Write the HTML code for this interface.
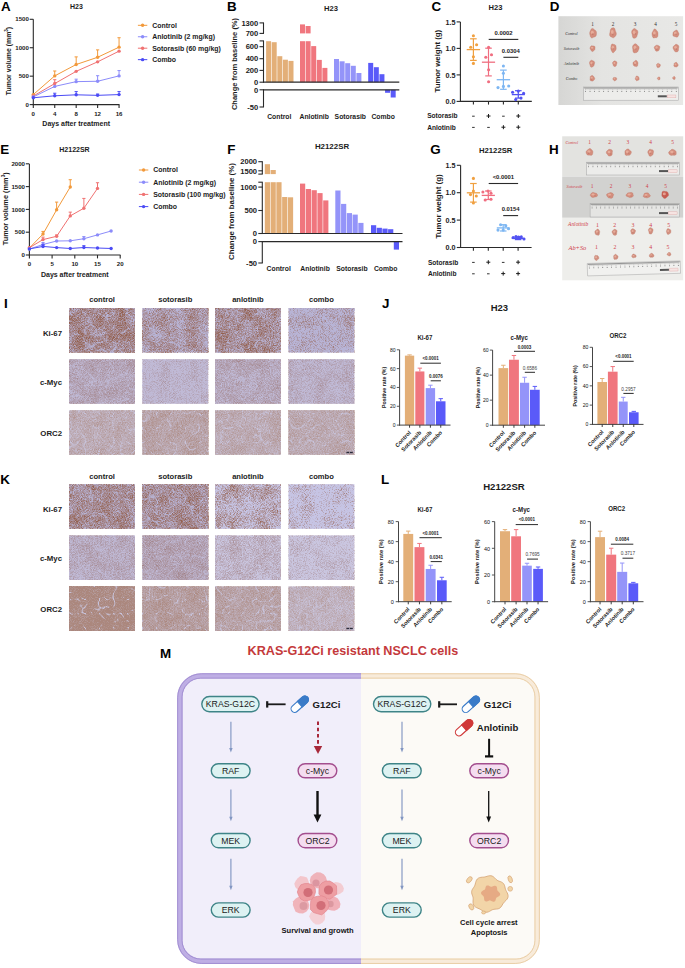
<!DOCTYPE html>
<html><head><meta charset="utf-8"><title>Figure</title>
<style>
html,body{margin:0;padding:0;background:#fff;}
body{width:685px;height:968px;overflow:hidden;}
svg{display:block;font-family:"Liberation Sans",sans-serif;}
</style></head><body>
<svg width="685" height="968" viewBox="0 0 685 968">
<defs><filter id="tx1" x="0" y="0" width="1" height="1" color-interpolation-filters="sRGB"><feTurbulence type="fractalNoise" baseFrequency="1.25" numOctaves="1" seed="319" result="g1"/><feColorMatrix in="g1" type="matrix" values="1 0 0 0 0  1 0 0 0 0  1 0 0 0 0  0 0 0 0 1" result="h1"/><feTurbulence type="fractalNoise" baseFrequency="0.07" numOctaves="2" seed="369" result="g2"/><feColorMatrix in="g2" type="matrix" values="1 0 0 0 0  1 0 0 0 0  1 0 0 0 0  0 0 0 0 1" result="h2"/><feComposite in="h1" in2="h2" operator="arithmetic" k1="0" k2="0.72" k3="0.28" k4="0" result="n"/><feColorMatrix in="n" type="matrix" values="0 0 0 0 0.58  0 0 0 0 0.38  0 0 0 0 0.31  2.6 0 0 0 -0.77" result="brown"/><feTurbulence type="turbulence" baseFrequency="0.07" numOctaves="2" seed="419" result="t"/><feColorMatrix in="t" type="matrix" values="0 0 0 0 0.72  0 0 0 0 0.71  0 0 0 0 0.84  -11 0 0 0 1.05" result="vein"/><feMerge result="m"><feMergeNode in="SourceGraphic"/><feMergeNode in="brown"/><feMergeNode in="vein"/></feMerge><feGaussianBlur in="m" stdDeviation="0.35" edgeMode="duplicate"/></filter>
<filter id="tx2" x="0" y="0" width="1" height="1" color-interpolation-filters="sRGB"><feTurbulence type="fractalNoise" baseFrequency="1.25" numOctaves="1" seed="322" result="g1"/><feColorMatrix in="g1" type="matrix" values="1 0 0 0 0  1 0 0 0 0  1 0 0 0 0  0 0 0 0 1" result="h1"/><feTurbulence type="fractalNoise" baseFrequency="0.07" numOctaves="2" seed="372" result="g2"/><feColorMatrix in="g2" type="matrix" values="1 0 0 0 0  1 0 0 0 0  1 0 0 0 0  0 0 0 0 1" result="h2"/><feComposite in="h1" in2="h2" operator="arithmetic" k1="0" k2="0.72" k3="0.28" k4="0" result="n"/><feColorMatrix in="n" type="matrix" values="0 0 0 0 0.58  0 0 0 0 0.38  0 0 0 0 0.31  2.6 0 0 0 -0.95" result="brown"/><feTurbulence type="turbulence" baseFrequency="0.07" numOctaves="2" seed="422" result="t"/><feColorMatrix in="t" type="matrix" values="0 0 0 0 0.72  0 0 0 0 0.71  0 0 0 0 0.84  -11 0 0 0 1.05" result="vein"/><feMerge result="m"><feMergeNode in="SourceGraphic"/><feMergeNode in="brown"/><feMergeNode in="vein"/></feMerge><feGaussianBlur in="m" stdDeviation="0.35" edgeMode="duplicate"/></filter>
<filter id="tx3" x="0" y="0" width="1" height="1" color-interpolation-filters="sRGB"><feTurbulence type="fractalNoise" baseFrequency="1.25" numOctaves="1" seed="325" result="g1"/><feColorMatrix in="g1" type="matrix" values="1 0 0 0 0  1 0 0 0 0  1 0 0 0 0  0 0 0 0 1" result="h1"/><feTurbulence type="fractalNoise" baseFrequency="0.07" numOctaves="2" seed="375" result="g2"/><feColorMatrix in="g2" type="matrix" values="1 0 0 0 0  1 0 0 0 0  1 0 0 0 0  0 0 0 0 1" result="h2"/><feComposite in="h1" in2="h2" operator="arithmetic" k1="0" k2="0.72" k3="0.28" k4="0" result="n"/><feColorMatrix in="n" type="matrix" values="0 0 0 0 0.58  0 0 0 0 0.38  0 0 0 0 0.31  2.6 0 0 0 -0.84" result="brown"/><feTurbulence type="turbulence" baseFrequency="0.07" numOctaves="2" seed="425" result="t"/><feColorMatrix in="t" type="matrix" values="0 0 0 0 0.72  0 0 0 0 0.71  0 0 0 0 0.84  -11 0 0 0 1.05" result="vein"/><feMerge result="m"><feMergeNode in="SourceGraphic"/><feMergeNode in="brown"/><feMergeNode in="vein"/></feMerge><feGaussianBlur in="m" stdDeviation="0.35" edgeMode="duplicate"/></filter>
<filter id="tx4" x="0" y="0" width="1" height="1" color-interpolation-filters="sRGB"><feTurbulence type="fractalNoise" baseFrequency="1.25" numOctaves="1" seed="328" result="g1"/><feColorMatrix in="g1" type="matrix" values="1 0 0 0 0  1 0 0 0 0  1 0 0 0 0  0 0 0 0 1" result="h1"/><feTurbulence type="fractalNoise" baseFrequency="0.07" numOctaves="2" seed="378" result="g2"/><feColorMatrix in="g2" type="matrix" values="1 0 0 0 0  1 0 0 0 0  1 0 0 0 0  0 0 0 0 1" result="h2"/><feComposite in="h1" in2="h2" operator="arithmetic" k1="0" k2="0.72" k3="0.28" k4="0" result="n"/><feColorMatrix in="n" type="matrix" values="0 0 0 0 0.58  0 0 0 0 0.38  0 0 0 0 0.31  2.6 0 0 0 -1.18" result="brown"/><feTurbulence type="turbulence" baseFrequency="0.07" numOctaves="2" seed="428" result="t"/><feColorMatrix in="t" type="matrix" values="0 0 0 0 0.72  0 0 0 0 0.71  0 0 0 0 0.84  -11 0 0 0 1.05" result="vein"/><feMerge result="m"><feMergeNode in="SourceGraphic"/><feMergeNode in="brown"/><feMergeNode in="vein"/></feMerge><feGaussianBlur in="m" stdDeviation="0.35" edgeMode="duplicate"/></filter>
<filter id="tx5" x="0" y="0" width="1" height="1" color-interpolation-filters="sRGB"><feTurbulence type="fractalNoise" baseFrequency="1.25" numOctaves="1" seed="377" result="g1"/><feColorMatrix in="g1" type="matrix" values="1 0 0 0 0  1 0 0 0 0  1 0 0 0 0  0 0 0 0 1" result="h1"/><feTurbulence type="fractalNoise" baseFrequency="0.07" numOctaves="2" seed="427" result="g2"/><feColorMatrix in="g2" type="matrix" values="1 0 0 0 0  1 0 0 0 0  1 0 0 0 0  0 0 0 0 1" result="h2"/><feComposite in="h1" in2="h2" operator="arithmetic" k1="0" k2="0.75" k3="0.25" k4="0" result="n"/><feColorMatrix in="n" type="matrix" values="0 0 0 0 0.61  0 0 0 0 0.47  0 0 0 0 0.47  1.8 0 0 0 -0.58" result="brown"/><feTurbulence type="turbulence" baseFrequency="0.07" numOctaves="2" seed="477" result="t"/><feColorMatrix in="t" type="matrix" values="0 0 0 0 0.75  0 0 0 0 0.73  0 0 0 0 0.84  -10 0 0 0 0.95" result="vein"/><feMerge result="m"><feMergeNode in="SourceGraphic"/><feMergeNode in="brown"/><feMergeNode in="vein"/></feMerge><feGaussianBlur in="m" stdDeviation="0.35" edgeMode="duplicate"/></filter>
<filter id="tx6" x="0" y="0" width="1" height="1" color-interpolation-filters="sRGB"><feTurbulence type="fractalNoise" baseFrequency="1.25" numOctaves="1" seed="380" result="g1"/><feColorMatrix in="g1" type="matrix" values="1 0 0 0 0  1 0 0 0 0  1 0 0 0 0  0 0 0 0 1" result="h1"/><feTurbulence type="fractalNoise" baseFrequency="0.07" numOctaves="2" seed="430" result="g2"/><feColorMatrix in="g2" type="matrix" values="1 0 0 0 0  1 0 0 0 0  1 0 0 0 0  0 0 0 0 1" result="h2"/><feComposite in="h1" in2="h2" operator="arithmetic" k1="0" k2="0.75" k3="0.25" k4="0" result="n"/><feColorMatrix in="n" type="matrix" values="0 0 0 0 0.61  0 0 0 0 0.47  0 0 0 0 0.47  1.8 0 0 0 -0.8" result="brown"/><feTurbulence type="turbulence" baseFrequency="0.07" numOctaves="2" seed="480" result="t"/><feColorMatrix in="t" type="matrix" values="0 0 0 0 0.75  0 0 0 0 0.73  0 0 0 0 0.84  -10 0 0 0 0.95" result="vein"/><feMerge result="m"><feMergeNode in="SourceGraphic"/><feMergeNode in="brown"/><feMergeNode in="vein"/></feMerge><feGaussianBlur in="m" stdDeviation="0.35" edgeMode="duplicate"/></filter>
<filter id="tx7" x="0" y="0" width="1" height="1" color-interpolation-filters="sRGB"><feTurbulence type="fractalNoise" baseFrequency="1.25" numOctaves="1" seed="383" result="g1"/><feColorMatrix in="g1" type="matrix" values="1 0 0 0 0  1 0 0 0 0  1 0 0 0 0  0 0 0 0 1" result="h1"/><feTurbulence type="fractalNoise" baseFrequency="0.07" numOctaves="2" seed="433" result="g2"/><feColorMatrix in="g2" type="matrix" values="1 0 0 0 0  1 0 0 0 0  1 0 0 0 0  0 0 0 0 1" result="h2"/><feComposite in="h1" in2="h2" operator="arithmetic" k1="0" k2="0.75" k3="0.25" k4="0" result="n"/><feColorMatrix in="n" type="matrix" values="0 0 0 0 0.61  0 0 0 0 0.47  0 0 0 0 0.47  1.8 0 0 0 -0.6" result="brown"/><feTurbulence type="turbulence" baseFrequency="0.07" numOctaves="2" seed="483" result="t"/><feColorMatrix in="t" type="matrix" values="0 0 0 0 0.75  0 0 0 0 0.73  0 0 0 0 0.84  -10 0 0 0 0.95" result="vein"/><feMerge result="m"><feMergeNode in="SourceGraphic"/><feMergeNode in="brown"/><feMergeNode in="vein"/></feMerge><feGaussianBlur in="m" stdDeviation="0.35" edgeMode="duplicate"/></filter>
<filter id="tx8" x="0" y="0" width="1" height="1" color-interpolation-filters="sRGB"><feTurbulence type="fractalNoise" baseFrequency="1.25" numOctaves="1" seed="386" result="g1"/><feColorMatrix in="g1" type="matrix" values="1 0 0 0 0  1 0 0 0 0  1 0 0 0 0  0 0 0 0 1" result="h1"/><feTurbulence type="fractalNoise" baseFrequency="0.07" numOctaves="2" seed="436" result="g2"/><feColorMatrix in="g2" type="matrix" values="1 0 0 0 0  1 0 0 0 0  1 0 0 0 0  0 0 0 0 1" result="h2"/><feComposite in="h1" in2="h2" operator="arithmetic" k1="0" k2="0.75" k3="0.25" k4="0" result="n"/><feColorMatrix in="n" type="matrix" values="0 0 0 0 0.61  0 0 0 0 0.47  0 0 0 0 0.47  1.8 0 0 0 -0.71" result="brown"/><feTurbulence type="turbulence" baseFrequency="0.07" numOctaves="2" seed="486" result="t"/><feColorMatrix in="t" type="matrix" values="0 0 0 0 0.75  0 0 0 0 0.73  0 0 0 0 0.84  -10 0 0 0 0.95" result="vein"/><feMerge result="m"><feMergeNode in="SourceGraphic"/><feMergeNode in="brown"/><feMergeNode in="vein"/></feMerge><feGaussianBlur in="m" stdDeviation="0.35" edgeMode="duplicate"/></filter>
<filter id="tx9" x="0" y="0" width="1" height="1" color-interpolation-filters="sRGB"><feTurbulence type="fractalNoise" baseFrequency="1.25" numOctaves="1" seed="435" result="g1"/><feColorMatrix in="g1" type="matrix" values="1 0 0 0 0  1 0 0 0 0  1 0 0 0 0  0 0 0 0 1" result="h1"/><feTurbulence type="fractalNoise" baseFrequency="0.07" numOctaves="2" seed="485" result="g2"/><feColorMatrix in="g2" type="matrix" values="1 0 0 0 0  1 0 0 0 0  1 0 0 0 0  0 0 0 0 1" result="h2"/><feComposite in="h1" in2="h2" operator="arithmetic" k1="0" k2="0.75" k3="0.25" k4="0" result="n"/><feColorMatrix in="n" type="matrix" values="0 0 0 0 0.67  0 0 0 0 0.53  0 0 0 0 0.49  1.6 0 0 0 -0.4" result="brown"/><feTurbulence type="turbulence" baseFrequency="0.07" numOctaves="2" seed="535" result="t"/><feColorMatrix in="t" type="matrix" values="0 0 0 0 0.78  0 0 0 0 0.76  0 0 0 0 0.85  -11 0 0 0 1.05" result="vein"/><feMerge result="m"><feMergeNode in="SourceGraphic"/><feMergeNode in="brown"/><feMergeNode in="vein"/></feMerge><feGaussianBlur in="m" stdDeviation="0.35" edgeMode="duplicate"/></filter>
<filter id="tx10" x="0" y="0" width="1" height="1" color-interpolation-filters="sRGB"><feTurbulence type="fractalNoise" baseFrequency="1.25" numOctaves="1" seed="438" result="g1"/><feColorMatrix in="g1" type="matrix" values="1 0 0 0 0  1 0 0 0 0  1 0 0 0 0  0 0 0 0 1" result="h1"/><feTurbulence type="fractalNoise" baseFrequency="0.07" numOctaves="2" seed="488" result="g2"/><feColorMatrix in="g2" type="matrix" values="1 0 0 0 0  1 0 0 0 0  1 0 0 0 0  0 0 0 0 1" result="h2"/><feComposite in="h1" in2="h2" operator="arithmetic" k1="0" k2="0.75" k3="0.25" k4="0" result="n"/><feColorMatrix in="n" type="matrix" values="0 0 0 0 0.67  0 0 0 0 0.53  0 0 0 0 0.49  1.6 0 0 0 -0.27" result="brown"/><feTurbulence type="turbulence" baseFrequency="0.07" numOctaves="2" seed="538" result="t"/><feColorMatrix in="t" type="matrix" values="0 0 0 0 0.78  0 0 0 0 0.76  0 0 0 0 0.85  -11 0 0 0 1.05" result="vein"/><feMerge result="m"><feMergeNode in="SourceGraphic"/><feMergeNode in="brown"/><feMergeNode in="vein"/></feMerge><feGaussianBlur in="m" stdDeviation="0.35" edgeMode="duplicate"/></filter>
<filter id="tx11" x="0" y="0" width="1" height="1" color-interpolation-filters="sRGB"><feTurbulence type="fractalNoise" baseFrequency="1.25" numOctaves="1" seed="441" result="g1"/><feColorMatrix in="g1" type="matrix" values="1 0 0 0 0  1 0 0 0 0  1 0 0 0 0  0 0 0 0 1" result="h1"/><feTurbulence type="fractalNoise" baseFrequency="0.07" numOctaves="2" seed="491" result="g2"/><feColorMatrix in="g2" type="matrix" values="1 0 0 0 0  1 0 0 0 0  1 0 0 0 0  0 0 0 0 1" result="h2"/><feComposite in="h1" in2="h2" operator="arithmetic" k1="0" k2="0.75" k3="0.25" k4="0" result="n"/><feColorMatrix in="n" type="matrix" values="0 0 0 0 0.67  0 0 0 0 0.53  0 0 0 0 0.49  1.6 0 0 0 -0.39" result="brown"/><feTurbulence type="turbulence" baseFrequency="0.07" numOctaves="2" seed="541" result="t"/><feColorMatrix in="t" type="matrix" values="0 0 0 0 0.78  0 0 0 0 0.76  0 0 0 0 0.85  -11 0 0 0 1.05" result="vein"/><feMerge result="m"><feMergeNode in="SourceGraphic"/><feMergeNode in="brown"/><feMergeNode in="vein"/></feMerge><feGaussianBlur in="m" stdDeviation="0.35" edgeMode="duplicate"/></filter>
<filter id="tx12" x="0" y="0" width="1" height="1" color-interpolation-filters="sRGB"><feTurbulence type="fractalNoise" baseFrequency="1.25" numOctaves="1" seed="444" result="g1"/><feColorMatrix in="g1" type="matrix" values="1 0 0 0 0  1 0 0 0 0  1 0 0 0 0  0 0 0 0 1" result="h1"/><feTurbulence type="fractalNoise" baseFrequency="0.07" numOctaves="2" seed="494" result="g2"/><feColorMatrix in="g2" type="matrix" values="1 0 0 0 0  1 0 0 0 0  1 0 0 0 0  0 0 0 0 1" result="h2"/><feComposite in="h1" in2="h2" operator="arithmetic" k1="0" k2="0.75" k3="0.25" k4="0" result="n"/><feColorMatrix in="n" type="matrix" values="0 0 0 0 0.67  0 0 0 0 0.53  0 0 0 0 0.49  1.6 0 0 0 -0.37" result="brown"/><feTurbulence type="turbulence" baseFrequency="0.07" numOctaves="2" seed="544" result="t"/><feColorMatrix in="t" type="matrix" values="0 0 0 0 0.78  0 0 0 0 0.76  0 0 0 0 0.85  -11 0 0 0 1.05" result="vein"/><feMerge result="m"><feMergeNode in="SourceGraphic"/><feMergeNode in="brown"/><feMergeNode in="vein"/></feMerge><feGaussianBlur in="m" stdDeviation="0.35" edgeMode="duplicate"/></filter>
<filter id="tx13" x="0" y="0" width="1" height="1" color-interpolation-filters="sRGB"><feTurbulence type="fractalNoise" baseFrequency="1.25" numOctaves="1" seed="495" result="g1"/><feColorMatrix in="g1" type="matrix" values="1 0 0 0 0  1 0 0 0 0  1 0 0 0 0  0 0 0 0 1" result="h1"/><feTurbulence type="fractalNoise" baseFrequency="0.07" numOctaves="2" seed="545" result="g2"/><feColorMatrix in="g2" type="matrix" values="1 0 0 0 0  1 0 0 0 0  1 0 0 0 0  0 0 0 0 1" result="h2"/><feComposite in="h1" in2="h2" operator="arithmetic" k1="0" k2="0.72" k3="0.28" k4="0" result="n"/><feColorMatrix in="n" type="matrix" values="0 0 0 0 0.58  0 0 0 0 0.38  0 0 0 0 0.31  2.6 0 0 0 -0.82" result="brown"/><feTurbulence type="turbulence" baseFrequency="0.07" numOctaves="2" seed="595" result="t"/><feColorMatrix in="t" type="matrix" values="0 0 0 0 0.72  0 0 0 0 0.71  0 0 0 0 0.84  -11 0 0 0 1.05" result="vein"/><feMerge result="m"><feMergeNode in="SourceGraphic"/><feMergeNode in="brown"/><feMergeNode in="vein"/></feMerge><feGaussianBlur in="m" stdDeviation="0.35" edgeMode="duplicate"/></filter>
<filter id="tx14" x="0" y="0" width="1" height="1" color-interpolation-filters="sRGB"><feTurbulence type="fractalNoise" baseFrequency="1.25" numOctaves="1" seed="498" result="g1"/><feColorMatrix in="g1" type="matrix" values="1 0 0 0 0  1 0 0 0 0  1 0 0 0 0  0 0 0 0 1" result="h1"/><feTurbulence type="fractalNoise" baseFrequency="0.07" numOctaves="2" seed="548" result="g2"/><feColorMatrix in="g2" type="matrix" values="1 0 0 0 0  1 0 0 0 0  1 0 0 0 0  0 0 0 0 1" result="h2"/><feComposite in="h1" in2="h2" operator="arithmetic" k1="0" k2="0.72" k3="0.28" k4="0" result="n"/><feColorMatrix in="n" type="matrix" values="0 0 0 0 0.58  0 0 0 0 0.38  0 0 0 0 0.31  2.6 0 0 0 -0.84" result="brown"/><feTurbulence type="turbulence" baseFrequency="0.07" numOctaves="2" seed="598" result="t"/><feColorMatrix in="t" type="matrix" values="0 0 0 0 0.72  0 0 0 0 0.71  0 0 0 0 0.84  -11 0 0 0 1.05" result="vein"/><feMerge result="m"><feMergeNode in="SourceGraphic"/><feMergeNode in="brown"/><feMergeNode in="vein"/></feMerge><feGaussianBlur in="m" stdDeviation="0.35" edgeMode="duplicate"/></filter>
<filter id="tx15" x="0" y="0" width="1" height="1" color-interpolation-filters="sRGB"><feTurbulence type="fractalNoise" baseFrequency="1.25" numOctaves="1" seed="501" result="g1"/><feColorMatrix in="g1" type="matrix" values="1 0 0 0 0  1 0 0 0 0  1 0 0 0 0  0 0 0 0 1" result="h1"/><feTurbulence type="fractalNoise" baseFrequency="0.07" numOctaves="2" seed="551" result="g2"/><feColorMatrix in="g2" type="matrix" values="1 0 0 0 0  1 0 0 0 0  1 0 0 0 0  0 0 0 0 1" result="h2"/><feComposite in="h1" in2="h2" operator="arithmetic" k1="0" k2="0.72" k3="0.28" k4="0" result="n"/><feColorMatrix in="n" type="matrix" values="0 0 0 0 0.58  0 0 0 0 0.38  0 0 0 0 0.31  2.6 0 0 0 -1.01" result="brown"/><feTurbulence type="turbulence" baseFrequency="0.07" numOctaves="2" seed="601" result="t"/><feColorMatrix in="t" type="matrix" values="0 0 0 0 0.78  0 0 0 0 0.77  0 0 0 0 0.89  -11 0 0 0 1.05" result="vein"/><feMerge result="m"><feMergeNode in="SourceGraphic"/><feMergeNode in="brown"/><feMergeNode in="vein"/></feMerge><feGaussianBlur in="m" stdDeviation="0.35" edgeMode="duplicate"/></filter>
<filter id="tx16" x="0" y="0" width="1" height="1" color-interpolation-filters="sRGB"><feTurbulence type="fractalNoise" baseFrequency="1.25" numOctaves="1" seed="504" result="g1"/><feColorMatrix in="g1" type="matrix" values="1 0 0 0 0  1 0 0 0 0  1 0 0 0 0  0 0 0 0 1" result="h1"/><feTurbulence type="fractalNoise" baseFrequency="0.07" numOctaves="2" seed="554" result="g2"/><feColorMatrix in="g2" type="matrix" values="1 0 0 0 0  1 0 0 0 0  1 0 0 0 0  0 0 0 0 1" result="h2"/><feComposite in="h1" in2="h2" operator="arithmetic" k1="0" k2="0.72" k3="0.28" k4="0" result="n"/><feColorMatrix in="n" type="matrix" values="0 0 0 0 0.58  0 0 0 0 0.38  0 0 0 0 0.31  2.6 0 0 0 -1.25" result="brown"/><feTurbulence type="turbulence" baseFrequency="0.07" numOctaves="2" seed="604" result="t"/><feColorMatrix in="t" type="matrix" values="0 0 0 0 0.78  0 0 0 0 0.77  0 0 0 0 0.89  -11 0 0 0 1.05" result="vein"/><feMerge result="m"><feMergeNode in="SourceGraphic"/><feMergeNode in="brown"/><feMergeNode in="vein"/></feMerge><feGaussianBlur in="m" stdDeviation="0.35" edgeMode="duplicate"/></filter>
<filter id="tx17" x="0" y="0" width="1" height="1" color-interpolation-filters="sRGB"><feTurbulence type="fractalNoise" baseFrequency="1.25" numOctaves="1" seed="553" result="g1"/><feColorMatrix in="g1" type="matrix" values="1 0 0 0 0  1 0 0 0 0  1 0 0 0 0  0 0 0 0 1" result="h1"/><feTurbulence type="fractalNoise" baseFrequency="0.07" numOctaves="2" seed="603" result="g2"/><feColorMatrix in="g2" type="matrix" values="1 0 0 0 0  1 0 0 0 0  1 0 0 0 0  0 0 0 0 1" result="h2"/><feComposite in="h1" in2="h2" operator="arithmetic" k1="0" k2="0.75" k3="0.25" k4="0" result="n"/><feColorMatrix in="n" type="matrix" values="0 0 0 0 0.61  0 0 0 0 0.47  0 0 0 0 0.47  1.8 0 0 0 -0.66" result="brown"/><feTurbulence type="turbulence" baseFrequency="0.07" numOctaves="2" seed="653" result="t"/><feColorMatrix in="t" type="matrix" values="0 0 0 0 0.75  0 0 0 0 0.73  0 0 0 0 0.84  -10 0 0 0 0.95" result="vein"/><feMerge result="m"><feMergeNode in="SourceGraphic"/><feMergeNode in="brown"/><feMergeNode in="vein"/></feMerge><feGaussianBlur in="m" stdDeviation="0.35" edgeMode="duplicate"/></filter>
<filter id="tx18" x="0" y="0" width="1" height="1" color-interpolation-filters="sRGB"><feTurbulence type="fractalNoise" baseFrequency="1.25" numOctaves="1" seed="556" result="g1"/><feColorMatrix in="g1" type="matrix" values="1 0 0 0 0  1 0 0 0 0  1 0 0 0 0  0 0 0 0 1" result="h1"/><feTurbulence type="fractalNoise" baseFrequency="0.07" numOctaves="2" seed="606" result="g2"/><feColorMatrix in="g2" type="matrix" values="1 0 0 0 0  1 0 0 0 0  1 0 0 0 0  0 0 0 0 1" result="h2"/><feComposite in="h1" in2="h2" operator="arithmetic" k1="0" k2="0.75" k3="0.25" k4="0" result="n"/><feColorMatrix in="n" type="matrix" values="0 0 0 0 0.61  0 0 0 0 0.47  0 0 0 0 0.47  1.8 0 0 0 -0.52" result="brown"/><feTurbulence type="turbulence" baseFrequency="0.07" numOctaves="2" seed="656" result="t"/><feColorMatrix in="t" type="matrix" values="0 0 0 0 0.75  0 0 0 0 0.73  0 0 0 0 0.84  -10 0 0 0 0.95" result="vein"/><feMerge result="m"><feMergeNode in="SourceGraphic"/><feMergeNode in="brown"/><feMergeNode in="vein"/></feMerge><feGaussianBlur in="m" stdDeviation="0.35" edgeMode="duplicate"/></filter>
<filter id="tx19" x="0" y="0" width="1" height="1" color-interpolation-filters="sRGB"><feTurbulence type="fractalNoise" baseFrequency="1.25" numOctaves="1" seed="559" result="g1"/><feColorMatrix in="g1" type="matrix" values="1 0 0 0 0  1 0 0 0 0  1 0 0 0 0  0 0 0 0 1" result="h1"/><feTurbulence type="fractalNoise" baseFrequency="0.07" numOctaves="2" seed="609" result="g2"/><feColorMatrix in="g2" type="matrix" values="1 0 0 0 0  1 0 0 0 0  1 0 0 0 0  0 0 0 0 1" result="h2"/><feComposite in="h1" in2="h2" operator="arithmetic" k1="0" k2="0.75" k3="0.25" k4="0" result="n"/><feColorMatrix in="n" type="matrix" values="0 0 0 0 0.61  0 0 0 0 0.47  0 0 0 0 0.47  1.8 0 0 0 -0.64" result="brown"/><feTurbulence type="turbulence" baseFrequency="0.07" numOctaves="2" seed="659" result="t"/><feColorMatrix in="t" type="matrix" values="0 0 0 0 0.79  0 0 0 0 0.78  0 0 0 0 0.88  -10 0 0 0 0.95" result="vein"/><feMerge result="m"><feMergeNode in="SourceGraphic"/><feMergeNode in="brown"/><feMergeNode in="vein"/></feMerge><feGaussianBlur in="m" stdDeviation="0.35" edgeMode="duplicate"/></filter>
<filter id="tx20" x="0" y="0" width="1" height="1" color-interpolation-filters="sRGB"><feTurbulence type="fractalNoise" baseFrequency="1.25" numOctaves="1" seed="562" result="g1"/><feColorMatrix in="g1" type="matrix" values="1 0 0 0 0  1 0 0 0 0  1 0 0 0 0  0 0 0 0 1" result="h1"/><feTurbulence type="fractalNoise" baseFrequency="0.07" numOctaves="2" seed="612" result="g2"/><feColorMatrix in="g2" type="matrix" values="1 0 0 0 0  1 0 0 0 0  1 0 0 0 0  0 0 0 0 1" result="h2"/><feComposite in="h1" in2="h2" operator="arithmetic" k1="0" k2="0.75" k3="0.25" k4="0" result="n"/><feColorMatrix in="n" type="matrix" values="0 0 0 0 0.61  0 0 0 0 0.47  0 0 0 0 0.47  1.8 0 0 0 -0.79" result="brown"/><feTurbulence type="turbulence" baseFrequency="0.07" numOctaves="2" seed="662" result="t"/><feColorMatrix in="t" type="matrix" values="0 0 0 0 0.79  0 0 0 0 0.78  0 0 0 0 0.88  -10 0 0 0 0.95" result="vein"/><feMerge result="m"><feMergeNode in="SourceGraphic"/><feMergeNode in="brown"/><feMergeNode in="vein"/></feMerge><feGaussianBlur in="m" stdDeviation="0.35" edgeMode="duplicate"/></filter>
<filter id="tx21" x="0" y="0" width="1" height="1" color-interpolation-filters="sRGB"><feTurbulence type="fractalNoise" baseFrequency="1.25" numOctaves="1" seed="611" result="g1"/><feColorMatrix in="g1" type="matrix" values="1 0 0 0 0  1 0 0 0 0  1 0 0 0 0  0 0 0 0 1" result="h1"/><feTurbulence type="fractalNoise" baseFrequency="0.07" numOctaves="2" seed="661" result="g2"/><feColorMatrix in="g2" type="matrix" values="1 0 0 0 0  1 0 0 0 0  1 0 0 0 0  0 0 0 0 1" result="h2"/><feComposite in="h1" in2="h2" operator="arithmetic" k1="0" k2="0.75" k3="0.25" k4="0" result="n"/><feColorMatrix in="n" type="matrix" values="0 0 0 0 0.67  0 0 0 0 0.53  0 0 0 0 0.49  1.6 0 0 0 0.15" result="brown"/><feTurbulence type="turbulence" baseFrequency="0.07" numOctaves="2" seed="711" result="t"/><feColorMatrix in="t" type="matrix" values="0 0 0 0 0.78  0 0 0 0 0.76  0 0 0 0 0.85  -11 0 0 0 1.05" result="vein"/><feMerge result="m"><feMergeNode in="SourceGraphic"/><feMergeNode in="brown"/><feMergeNode in="vein"/></feMerge><feGaussianBlur in="m" stdDeviation="0.35" edgeMode="duplicate"/></filter>
<filter id="tx22" x="0" y="0" width="1" height="1" color-interpolation-filters="sRGB"><feTurbulence type="fractalNoise" baseFrequency="1.25" numOctaves="1" seed="614" result="g1"/><feColorMatrix in="g1" type="matrix" values="1 0 0 0 0  1 0 0 0 0  1 0 0 0 0  0 0 0 0 1" result="h1"/><feTurbulence type="fractalNoise" baseFrequency="0.07" numOctaves="2" seed="664" result="g2"/><feColorMatrix in="g2" type="matrix" values="1 0 0 0 0  1 0 0 0 0  1 0 0 0 0  0 0 0 0 1" result="h2"/><feComposite in="h1" in2="h2" operator="arithmetic" k1="0" k2="0.75" k3="0.25" k4="0" result="n"/><feColorMatrix in="n" type="matrix" values="0 0 0 0 0.67  0 0 0 0 0.53  0 0 0 0 0.49  1.6 0 0 0 -0.16" result="brown"/><feTurbulence type="turbulence" baseFrequency="0.07" numOctaves="2" seed="714" result="t"/><feColorMatrix in="t" type="matrix" values="0 0 0 0 0.78  0 0 0 0 0.76  0 0 0 0 0.85  -11 0 0 0 1.05" result="vein"/><feMerge result="m"><feMergeNode in="SourceGraphic"/><feMergeNode in="brown"/><feMergeNode in="vein"/></feMerge><feGaussianBlur in="m" stdDeviation="0.35" edgeMode="duplicate"/></filter>
<filter id="tx23" x="0" y="0" width="1" height="1" color-interpolation-filters="sRGB"><feTurbulence type="fractalNoise" baseFrequency="1.25" numOctaves="1" seed="617" result="g1"/><feColorMatrix in="g1" type="matrix" values="1 0 0 0 0  1 0 0 0 0  1 0 0 0 0  0 0 0 0 1" result="h1"/><feTurbulence type="fractalNoise" baseFrequency="0.07" numOctaves="2" seed="667" result="g2"/><feColorMatrix in="g2" type="matrix" values="1 0 0 0 0  1 0 0 0 0  1 0 0 0 0  0 0 0 0 1" result="h2"/><feComposite in="h1" in2="h2" operator="arithmetic" k1="0" k2="0.75" k3="0.25" k4="0" result="n"/><feColorMatrix in="n" type="matrix" values="0 0 0 0 0.67  0 0 0 0 0.53  0 0 0 0 0.49  1.6 0 0 0 -0.26" result="brown"/><feTurbulence type="turbulence" baseFrequency="0.07" numOctaves="2" seed="717" result="t"/><feColorMatrix in="t" type="matrix" values="0 0 0 0 0.78  0 0 0 0 0.76  0 0 0 0 0.85  -11 0 0 0 1.05" result="vein"/><feMerge result="m"><feMergeNode in="SourceGraphic"/><feMergeNode in="brown"/><feMergeNode in="vein"/></feMerge><feGaussianBlur in="m" stdDeviation="0.35" edgeMode="duplicate"/></filter>
<filter id="tx24" x="0" y="0" width="1" height="1" color-interpolation-filters="sRGB"><feTurbulence type="fractalNoise" baseFrequency="1.25" numOctaves="1" seed="620" result="g1"/><feColorMatrix in="g1" type="matrix" values="1 0 0 0 0  1 0 0 0 0  1 0 0 0 0  0 0 0 0 1" result="h1"/><feTurbulence type="fractalNoise" baseFrequency="0.07" numOctaves="2" seed="670" result="g2"/><feColorMatrix in="g2" type="matrix" values="1 0 0 0 0  1 0 0 0 0  1 0 0 0 0  0 0 0 0 1" result="h2"/><feComposite in="h1" in2="h2" operator="arithmetic" k1="0" k2="0.75" k3="0.25" k4="0" result="n"/><feColorMatrix in="n" type="matrix" values="0 0 0 0 0.67  0 0 0 0 0.53  0 0 0 0 0.49  1.6 0 0 0 -0.51" result="brown"/><feTurbulence type="turbulence" baseFrequency="0.07" numOctaves="2" seed="720" result="t"/><feColorMatrix in="t" type="matrix" values="0 0 0 0 0.78  0 0 0 0 0.76  0 0 0 0 0.85  -11 0 0 0 1.05" result="vein"/><feMerge result="m"><feMergeNode in="SourceGraphic"/><feMergeNode in="brown"/><feMergeNode in="vein"/></feMerge><feGaussianBlur in="m" stdDeviation="0.35" edgeMode="duplicate"/></filter>
<clipPath id="cL"><rect x="0" y="0" width="360.9" height="968"/></clipPath>
<clipPath id="cR"><rect x="360.9" y="0" width="324.1" height="968"/></clipPath></defs>
<rect x="0" y="0" width="685" height="968" fill="#fff"/>
<line x1="33.3" y1="19.3" x2="33.3" y2="105.1" stroke="#2a2a2a" stroke-width="1.1"/>
<line x1="32.8" y1="104.6" x2="119.4" y2="104.6" stroke="#2a2a2a" stroke-width="1.1"/>
<line x1="29.7" y1="104.6" x2="33.3" y2="104.6" stroke="#2a2a2a" stroke-width="1.1"/>
<text x="28.9" y="106.7" font-size="6.1" font-weight="bold" text-anchor="end" fill="#1c1c1c">0</text>
<line x1="29.7" y1="76.17" x2="33.3" y2="76.17" stroke="#2a2a2a" stroke-width="1.1"/>
<text x="28.9" y="78.27" font-size="6.1" font-weight="bold" text-anchor="end" fill="#1c1c1c">500</text>
<line x1="29.7" y1="47.73" x2="33.3" y2="47.73" stroke="#2a2a2a" stroke-width="1.1"/>
<text x="28.9" y="49.83" font-size="6.1" font-weight="bold" text-anchor="end" fill="#1c1c1c">1000</text>
<line x1="29.7" y1="19.3" x2="33.3" y2="19.3" stroke="#2a2a2a" stroke-width="1.1"/>
<text x="28.9" y="21.4" font-size="6.1" font-weight="bold" text-anchor="end" fill="#1c1c1c">1500</text>
<line x1="33.3" y1="104.6" x2="33.3" y2="108" stroke="#2a2a2a" stroke-width="1.1"/>
<text x="33.3" y="115.6" font-size="6.1" font-weight="bold" text-anchor="middle" fill="#1c1c1c">0</text>
<line x1="54.74" y1="104.6" x2="54.74" y2="108" stroke="#2a2a2a" stroke-width="1.1"/>
<text x="54.74" y="115.6" font-size="6.1" font-weight="bold" text-anchor="middle" fill="#1c1c1c">4</text>
<line x1="76.18" y1="104.6" x2="76.18" y2="108" stroke="#2a2a2a" stroke-width="1.1"/>
<text x="76.18" y="115.6" font-size="6.1" font-weight="bold" text-anchor="middle" fill="#1c1c1c">8</text>
<line x1="97.62" y1="104.6" x2="97.62" y2="108" stroke="#2a2a2a" stroke-width="1.1"/>
<text x="97.62" y="115.6" font-size="6.1" font-weight="bold" text-anchor="middle" fill="#1c1c1c">12</text>
<line x1="119.06" y1="104.6" x2="119.06" y2="108" stroke="#2a2a2a" stroke-width="1.1"/>
<text x="119.06" y="115.6" font-size="6.1" font-weight="bold" text-anchor="middle" fill="#1c1c1c">16</text>
<line x1="54.74" y1="75.88" x2="54.74" y2="70.99" stroke="#F2993A" stroke-width="1"/>
<line x1="53.14" y1="70.99" x2="56.34" y2="70.99" stroke="#F2993A" stroke-width="1"/>
<line x1="76.18" y1="64.51" x2="76.18" y2="56.89" stroke="#F2993A" stroke-width="1"/>
<line x1="74.58" y1="56.89" x2="77.78" y2="56.89" stroke="#F2993A" stroke-width="1"/>
<line x1="97.62" y1="57.29" x2="97.62" y2="49.89" stroke="#F2993A" stroke-width="1"/>
<line x1="96.02" y1="49.89" x2="99.22" y2="49.89" stroke="#F2993A" stroke-width="1"/>
<line x1="119.06" y1="47.16" x2="119.06" y2="37.72" stroke="#F2993A" stroke-width="1"/>
<line x1="117.46" y1="37.72" x2="120.66" y2="37.72" stroke="#F2993A" stroke-width="1"/>
<polyline points="33.3,94.59 54.74,75.88 76.18,64.51 97.62,57.29 119.06,47.16" stroke="#F2993A" stroke-width="1" fill="none"/>
<circle cx="33.3" cy="94.59" r="1.7" fill="#F2993A"/>
<circle cx="54.74" cy="75.88" r="1.7" fill="#F2993A"/>
<circle cx="76.18" cy="64.51" r="1.7" fill="#F2993A"/>
<circle cx="97.62" cy="57.29" r="1.7" fill="#F2993A"/>
<circle cx="119.06" cy="47.16" r="1.7" fill="#F2993A"/>
<line x1="54.74" y1="83.56" x2="54.74" y2="79.69" stroke="#F07272" stroke-width="1"/>
<line x1="53.14" y1="79.69" x2="56.34" y2="79.69" stroke="#F07272" stroke-width="1"/>
<polyline points="33.3,96.07 54.74,83.56 76.18,71.33 97.62,61.84 119.06,51.15" stroke="#F07272" stroke-width="1" fill="none"/>
<circle cx="33.3" cy="96.07" r="1.7" fill="#F07272"/>
<circle cx="54.74" cy="83.56" r="1.7" fill="#F07272"/>
<circle cx="76.18" cy="71.33" r="1.7" fill="#F07272"/>
<circle cx="97.62" cy="61.84" r="1.7" fill="#F07272"/>
<circle cx="119.06" cy="51.15" r="1.7" fill="#F07272"/>
<line x1="76.18" y1="81.63" x2="76.18" y2="79.18" stroke="#8C8CFA" stroke-width="1"/>
<line x1="74.58" y1="79.18" x2="77.78" y2="79.18" stroke="#8C8CFA" stroke-width="1"/>
<line x1="97.62" y1="81.28" x2="97.62" y2="75.71" stroke="#8C8CFA" stroke-width="1"/>
<line x1="96.02" y1="75.71" x2="99.22" y2="75.71" stroke="#8C8CFA" stroke-width="1"/>
<line x1="119.06" y1="75.88" x2="119.06" y2="70.59" stroke="#8C8CFA" stroke-width="1"/>
<line x1="117.46" y1="70.59" x2="120.66" y2="70.59" stroke="#8C8CFA" stroke-width="1"/>
<polyline points="33.3,96.92 54.74,86.4 76.18,81.63 97.62,81.28 119.06,75.88" stroke="#8C8CFA" stroke-width="1" fill="none"/>
<circle cx="33.3" cy="96.92" r="1.7" fill="#8C8CFA"/>
<circle cx="54.74" cy="86.4" r="1.7" fill="#8C8CFA"/>
<circle cx="76.18" cy="81.63" r="1.7" fill="#8C8CFA"/>
<circle cx="97.62" cy="81.28" r="1.7" fill="#8C8CFA"/>
<circle cx="119.06" cy="75.88" r="1.7" fill="#8C8CFA"/>
<line x1="54.74" y1="95.79" x2="54.74" y2="93.23" stroke="#4B4BF5" stroke-width="1"/>
<line x1="53.14" y1="93.23" x2="56.34" y2="93.23" stroke="#4B4BF5" stroke-width="1"/>
<line x1="76.18" y1="94.82" x2="76.18" y2="91.58" stroke="#4B4BF5" stroke-width="1"/>
<line x1="74.58" y1="91.58" x2="77.78" y2="91.58" stroke="#4B4BF5" stroke-width="1"/>
<line x1="97.62" y1="95.33" x2="97.62" y2="94.02" stroke="#4B4BF5" stroke-width="1"/>
<line x1="96.02" y1="94.02" x2="99.22" y2="94.02" stroke="#4B4BF5" stroke-width="1"/>
<line x1="119.06" y1="94.59" x2="119.06" y2="91.58" stroke="#4B4BF5" stroke-width="1"/>
<line x1="117.46" y1="91.58" x2="120.66" y2="91.58" stroke="#4B4BF5" stroke-width="1"/>
<polyline points="33.3,97.78 54.74,95.79 76.18,94.82 97.62,95.33 119.06,94.59" stroke="#4B4BF5" stroke-width="1" fill="none"/>
<circle cx="33.3" cy="97.78" r="1.7" fill="#4B4BF5"/>
<circle cx="54.74" cy="95.79" r="1.7" fill="#4B4BF5"/>
<circle cx="76.18" cy="94.82" r="1.7" fill="#4B4BF5"/>
<circle cx="97.62" cy="95.33" r="1.7" fill="#4B4BF5"/>
<circle cx="119.06" cy="94.59" r="1.7" fill="#4B4BF5"/>
<text x="76.4" y="9.2" font-size="7" font-weight="bold" text-anchor="middle" fill="#1c1c1c">H23</text>
<text x="10.9" y="61" font-size="6.9" font-weight="bold" text-anchor="middle" fill="#1c1c1c" transform="rotate(-90 10.9 61)">Tumor volume (mm<tspan font-size="4.6" dy="-2.6">3</tspan><tspan dy="2.6">)</tspan></text>
<text x="76.2" y="126.3" font-size="7" font-weight="bold" text-anchor="middle" fill="#1c1c1c">Days after treatment</text>
<line x1="137.9" y1="25.3" x2="147.3" y2="25.3" stroke="#F2993A" stroke-width="1"/>
<circle cx="142.6" cy="25.3" r="1.7" fill="#F2993A"/>
<text x="152.2" y="27.7" font-size="6.95" font-weight="bold" text-anchor="start" fill="#1c1c1c">Control</text>
<line x1="137.9" y1="36.75" x2="147.3" y2="36.75" stroke="#8C8CFA" stroke-width="1"/>
<circle cx="142.6" cy="36.75" r="1.7" fill="#8C8CFA"/>
<text x="152.2" y="39.15" font-size="6.95" font-weight="bold" text-anchor="start" fill="#1c1c1c">Anlotinib (2 mg/kg)</text>
<line x1="137.9" y1="48.2" x2="147.3" y2="48.2" stroke="#F07272" stroke-width="1"/>
<circle cx="142.6" cy="48.2" r="1.7" fill="#F07272"/>
<text x="152.2" y="50.6" font-size="6.95" font-weight="bold" text-anchor="start" fill="#1c1c1c">Sotorasib (60 mg/kg)</text>
<line x1="137.9" y1="59.65" x2="147.3" y2="59.65" stroke="#4B4BF5" stroke-width="1"/>
<circle cx="142.6" cy="59.65" r="1.7" fill="#4B4BF5"/>
<text x="152.2" y="62.05" font-size="6.95" font-weight="bold" text-anchor="start" fill="#1c1c1c">Combo</text>
<line x1="29.4" y1="163.9" x2="29.4" y2="255.5" stroke="#2a2a2a" stroke-width="1.1"/>
<line x1="28.9" y1="255" x2="120.5" y2="255" stroke="#2a2a2a" stroke-width="1.1"/>
<line x1="25.8" y1="255" x2="29.4" y2="255" stroke="#2a2a2a" stroke-width="1.1"/>
<text x="25" y="257.1" font-size="6.1" font-weight="bold" text-anchor="end" fill="#1c1c1c">0</text>
<line x1="25.8" y1="232.2" x2="29.4" y2="232.2" stroke="#2a2a2a" stroke-width="1.1"/>
<text x="25" y="234.3" font-size="6.1" font-weight="bold" text-anchor="end" fill="#1c1c1c">500</text>
<line x1="25.8" y1="209.4" x2="29.4" y2="209.4" stroke="#2a2a2a" stroke-width="1.1"/>
<text x="25" y="211.5" font-size="6.1" font-weight="bold" text-anchor="end" fill="#1c1c1c">1000</text>
<line x1="25.8" y1="186.6" x2="29.4" y2="186.6" stroke="#2a2a2a" stroke-width="1.1"/>
<text x="25" y="188.7" font-size="6.1" font-weight="bold" text-anchor="end" fill="#1c1c1c">1500</text>
<line x1="25.8" y1="163.8" x2="29.4" y2="163.8" stroke="#2a2a2a" stroke-width="1.1"/>
<text x="25" y="165.9" font-size="6.1" font-weight="bold" text-anchor="end" fill="#1c1c1c">2000</text>
<line x1="29.4" y1="255" x2="29.4" y2="258.4" stroke="#2a2a2a" stroke-width="1.1"/>
<text x="29.4" y="266" font-size="6.1" font-weight="bold" text-anchor="middle" fill="#1c1c1c">0</text>
<line x1="52.1" y1="255" x2="52.1" y2="258.4" stroke="#2a2a2a" stroke-width="1.1"/>
<text x="52.1" y="266" font-size="6.1" font-weight="bold" text-anchor="middle" fill="#1c1c1c">5</text>
<line x1="74.8" y1="255" x2="74.8" y2="258.4" stroke="#2a2a2a" stroke-width="1.1"/>
<text x="74.8" y="266" font-size="6.1" font-weight="bold" text-anchor="middle" fill="#1c1c1c">10</text>
<line x1="97.5" y1="255" x2="97.5" y2="258.4" stroke="#2a2a2a" stroke-width="1.1"/>
<text x="97.5" y="266" font-size="6.1" font-weight="bold" text-anchor="middle" fill="#1c1c1c">15</text>
<line x1="120.2" y1="255" x2="120.2" y2="258.4" stroke="#2a2a2a" stroke-width="1.1"/>
<text x="120.2" y="266" font-size="6.1" font-weight="bold" text-anchor="middle" fill="#1c1c1c">20</text>
<line x1="43.02" y1="234.02" x2="43.02" y2="231.42" stroke="#F2993A" stroke-width="1"/>
<line x1="41.42" y1="231.42" x2="44.62" y2="231.42" stroke="#F2993A" stroke-width="1"/>
<line x1="56.64" y1="209.81" x2="56.64" y2="202.1" stroke="#F2993A" stroke-width="1"/>
<line x1="55.04" y1="202.1" x2="58.24" y2="202.1" stroke="#F2993A" stroke-width="1"/>
<line x1="70.26" y1="187.01" x2="70.26" y2="179.71" stroke="#F2993A" stroke-width="1"/>
<line x1="68.66" y1="179.71" x2="71.86" y2="179.71" stroke="#F2993A" stroke-width="1"/>
<polyline points="29.4,248.02 43.02,234.02 56.64,209.81 70.26,187.01" stroke="#F2993A" stroke-width="1" fill="none"/>
<circle cx="29.4" cy="248.02" r="1.7" fill="#F2993A"/>
<circle cx="43.02" cy="234.02" r="1.7" fill="#F2993A"/>
<circle cx="56.64" cy="209.81" r="1.7" fill="#F2993A"/>
<circle cx="70.26" cy="187.01" r="1.7" fill="#F2993A"/>
<line x1="43.02" y1="239.59" x2="43.02" y2="237.12" stroke="#F07272" stroke-width="1"/>
<line x1="41.42" y1="237.12" x2="44.62" y2="237.12" stroke="#F07272" stroke-width="1"/>
<line x1="56.64" y1="236.3" x2="56.64" y2="234.94" stroke="#F07272" stroke-width="1"/>
<line x1="55.04" y1="234.94" x2="58.24" y2="234.94" stroke="#F07272" stroke-width="1"/>
<line x1="70.26" y1="215.92" x2="70.26" y2="212.14" stroke="#F07272" stroke-width="1"/>
<line x1="68.66" y1="212.14" x2="71.86" y2="212.14" stroke="#F07272" stroke-width="1"/>
<line x1="83.88" y1="208.21" x2="83.88" y2="198.41" stroke="#F07272" stroke-width="1"/>
<line x1="82.28" y1="198.41" x2="85.48" y2="198.41" stroke="#F07272" stroke-width="1"/>
<line x1="97.5" y1="188.42" x2="97.5" y2="182.72" stroke="#F07272" stroke-width="1"/>
<line x1="95.9" y1="182.72" x2="99.1" y2="182.72" stroke="#F07272" stroke-width="1"/>
<polyline points="29.4,247.7 43.02,239.59 56.64,236.3 70.26,215.92 83.88,208.21 97.5,188.42" stroke="#F07272" stroke-width="1" fill="none"/>
<circle cx="29.4" cy="247.7" r="1.7" fill="#F07272"/>
<circle cx="43.02" cy="239.59" r="1.7" fill="#F07272"/>
<circle cx="56.64" cy="236.3" r="1.7" fill="#F07272"/>
<circle cx="70.26" cy="215.92" r="1.7" fill="#F07272"/>
<circle cx="83.88" cy="208.21" r="1.7" fill="#F07272"/>
<circle cx="97.5" cy="188.42" r="1.7" fill="#F07272"/>
<line x1="43.02" y1="244.51" x2="43.02" y2="242.46" stroke="#8C8CFA" stroke-width="1"/>
<line x1="41.42" y1="242.46" x2="44.62" y2="242.46" stroke="#8C8CFA" stroke-width="1"/>
<line x1="83.88" y1="238.72" x2="83.88" y2="236.58" stroke="#8C8CFA" stroke-width="1"/>
<line x1="82.28" y1="236.58" x2="85.48" y2="236.58" stroke="#8C8CFA" stroke-width="1"/>
<polyline points="29.4,249.07 43.02,244.51 56.64,241 70.26,240.82 83.88,238.72 97.5,234.89 111.12,231.01" stroke="#8C8CFA" stroke-width="1" fill="none"/>
<circle cx="29.4" cy="249.07" r="1.7" fill="#8C8CFA"/>
<circle cx="43.02" cy="244.51" r="1.7" fill="#8C8CFA"/>
<circle cx="56.64" cy="241" r="1.7" fill="#8C8CFA"/>
<circle cx="70.26" cy="240.82" r="1.7" fill="#8C8CFA"/>
<circle cx="83.88" cy="238.72" r="1.7" fill="#8C8CFA"/>
<circle cx="97.5" cy="234.89" r="1.7" fill="#8C8CFA"/>
<circle cx="111.12" cy="231.01" r="1.7" fill="#8C8CFA"/>
<line x1="43.02" y1="246.43" x2="43.02" y2="244.79" stroke="#4B4BF5" stroke-width="1"/>
<line x1="41.42" y1="244.79" x2="44.62" y2="244.79" stroke="#4B4BF5" stroke-width="1"/>
<line x1="83.88" y1="247.52" x2="83.88" y2="245.7" stroke="#4B4BF5" stroke-width="1"/>
<line x1="82.28" y1="245.7" x2="85.48" y2="245.7" stroke="#4B4BF5" stroke-width="1"/>
<polyline points="29.4,248.89 43.02,246.43 56.64,247.61 70.26,248.48 83.88,247.52 97.5,248.02 111.12,248.48" stroke="#4B4BF5" stroke-width="1" fill="none"/>
<circle cx="29.4" cy="248.89" r="1.7" fill="#4B4BF5"/>
<circle cx="43.02" cy="246.43" r="1.7" fill="#4B4BF5"/>
<circle cx="56.64" cy="247.61" r="1.7" fill="#4B4BF5"/>
<circle cx="70.26" cy="248.48" r="1.7" fill="#4B4BF5"/>
<circle cx="83.88" cy="247.52" r="1.7" fill="#4B4BF5"/>
<circle cx="97.5" cy="248.02" r="1.7" fill="#4B4BF5"/>
<circle cx="111.12" cy="248.48" r="1.7" fill="#4B4BF5"/>
<text x="74.5" y="152.2" font-size="7" font-weight="bold" text-anchor="middle" fill="#1c1c1c">H2122SR</text>
<text x="8" y="208.8" font-size="7.4" font-weight="bold" text-anchor="middle" fill="#1c1c1c" transform="rotate(-90 8 208.8)">Tumor volume (mm<tspan font-size="4.6" dy="-2.6">3</tspan><tspan dy="2.6">)</tspan></text>
<text x="74.8" y="277.3" font-size="7" font-weight="bold" text-anchor="middle" fill="#1c1c1c">Days after treatment</text>
<line x1="138.9" y1="170" x2="148.3" y2="170" stroke="#F2993A" stroke-width="1"/>
<circle cx="143.6" cy="170" r="1.7" fill="#F2993A"/>
<text x="153.2" y="172.4" font-size="6.95" font-weight="bold" text-anchor="start" fill="#1c1c1c">Control</text>
<line x1="138.9" y1="182.2" x2="148.3" y2="182.2" stroke="#8C8CFA" stroke-width="1"/>
<circle cx="143.6" cy="182.2" r="1.7" fill="#8C8CFA"/>
<text x="153.2" y="184.6" font-size="6.95" font-weight="bold" text-anchor="start" fill="#1c1c1c">Anlotinib (2 mg/kg)</text>
<line x1="138.9" y1="194.4" x2="148.3" y2="194.4" stroke="#F07272" stroke-width="1"/>
<circle cx="143.6" cy="194.4" r="1.7" fill="#F07272"/>
<text x="153.2" y="196.8" font-size="6.95" font-weight="bold" text-anchor="start" fill="#1c1c1c">Sotorasib (100 mg/kg)</text>
<line x1="138.9" y1="206.6" x2="148.3" y2="206.6" stroke="#4B4BF5" stroke-width="1"/>
<circle cx="143.6" cy="206.6" r="1.7" fill="#4B4BF5"/>
<text x="153.2" y="209" font-size="6.95" font-weight="bold" text-anchor="start" fill="#1c1c1c">Combo</text>
<text x="0.9" y="10.7" font-size="13.4" font-weight="bold" text-anchor="start" fill="#000">A</text>
<text x="0.3" y="153.9" font-size="13.4" font-weight="bold" text-anchor="start" fill="#000">E</text>
<line x1="263.5" y1="22.9" x2="263.5" y2="33.4" stroke="#2a2a2a" stroke-width="1.1"/>
<line x1="259.5" y1="22.9" x2="264" y2="22.9" stroke="#2a2a2a" stroke-width="1.1"/>
<text x="258.3" y="25.6" font-size="7.6" font-weight="bold" text-anchor="end" fill="#1c1c1c">1300</text>
<line x1="259.5" y1="33.4" x2="264" y2="33.4" stroke="#2a2a2a" stroke-width="1.1"/>
<text x="258.3" y="36.1" font-size="7.6" font-weight="bold" text-anchor="end" fill="#1c1c1c">700</text>
<line x1="263.5" y1="40.9" x2="263.5" y2="82.2" stroke="#2a2a2a" stroke-width="1.1"/>
<line x1="259.5" y1="40.9" x2="264" y2="40.9" stroke="#2a2a2a" stroke-width="1.1"/>
<line x1="259.5" y1="46.7" x2="264" y2="46.7" stroke="#2a2a2a" stroke-width="1.1"/>
<text x="258.3" y="49.4" font-size="7.6" font-weight="bold" text-anchor="end" fill="#1c1c1c">600</text>
<line x1="259.5" y1="58.7" x2="264" y2="58.7" stroke="#2a2a2a" stroke-width="1.1"/>
<text x="258.3" y="61.4" font-size="7.6" font-weight="bold" text-anchor="end" fill="#1c1c1c">400</text>
<line x1="259.5" y1="70.4" x2="264" y2="70.4" stroke="#2a2a2a" stroke-width="1.1"/>
<text x="258.3" y="73.1" font-size="7.6" font-weight="bold" text-anchor="end" fill="#1c1c1c">200</text>
<line x1="259.5" y1="82.2" x2="264" y2="82.2" stroke="#2a2a2a" stroke-width="1.1"/>
<text x="258.3" y="84.9" font-size="7.6" font-weight="bold" text-anchor="end" fill="#1c1c1c">0</text>
<line x1="263.5" y1="89.8" x2="263.5" y2="107" stroke="#2a2a2a" stroke-width="1.1"/>
<line x1="259.5" y1="89.8" x2="264" y2="89.8" stroke="#2a2a2a" stroke-width="1.1"/>
<text x="258.3" y="92.5" font-size="7.6" font-weight="bold" text-anchor="end" fill="#1c1c1c">0</text>
<line x1="259.5" y1="107" x2="264" y2="107" stroke="#2a2a2a" stroke-width="1.1"/>
<text x="258.3" y="109.7" font-size="7.6" font-weight="bold" text-anchor="end" fill="#1c1c1c">-50</text>
<rect x="266.1" y="41.2" width="5" height="41" fill="#E3AF78"/>
<rect x="271.7" y="42.2" width="5" height="40" fill="#E3AF78"/>
<rect x="277.3" y="56.2" width="5" height="26" fill="#E3AF78"/>
<rect x="282.9" y="59.7" width="5" height="22.5" fill="#E3AF78"/>
<rect x="288.5" y="60.9" width="5" height="21.3" fill="#E3AF78"/>
<rect x="300" y="24.4" width="5" height="9" fill="#F0767E"/>
<rect x="300" y="41.2" width="5" height="41" fill="#F0767E"/>
<rect x="305.6" y="26" width="5" height="7.4" fill="#F0767E"/>
<rect x="305.6" y="41.2" width="5" height="41" fill="#F0767E"/>
<rect x="311.2" y="46.1" width="5" height="36.1" fill="#F0767E"/>
<rect x="316.8" y="59.9" width="5" height="22.3" fill="#F0767E"/>
<rect x="322.4" y="67.9" width="5" height="14.3" fill="#F0767E"/>
<rect x="334" y="59" width="5" height="23.2" fill="#9494F9"/>
<rect x="339.6" y="61.3" width="5" height="20.9" fill="#9494F9"/>
<rect x="345.2" y="63.2" width="5" height="19" fill="#9494F9"/>
<rect x="350.8" y="65.8" width="5" height="16.4" fill="#9494F9"/>
<rect x="356.4" y="73" width="5" height="9.2" fill="#9494F9"/>
<rect x="368.2" y="62.9" width="5" height="19.3" fill="#5A5AF9"/>
<rect x="373.82" y="67.2" width="5" height="15" fill="#5A5AF9"/>
<rect x="379.44" y="74.2" width="5" height="8" fill="#5A5AF9"/>
<rect x="385.06" y="89.8" width="5" height="3" fill="#5A5AF9"/>
<rect x="390.68" y="89.8" width="5" height="7.7" fill="#5A5AF9"/>
<line x1="263" y1="82.2" x2="399.3" y2="82.2" stroke="#2a2a2a" stroke-width="1.2"/>
<line x1="263" y1="89.8" x2="399.3" y2="89.8" stroke="#2a2a2a" stroke-width="1.2"/>
<text x="331" y="10.5" font-size="7.6" font-weight="bold" text-anchor="middle" fill="#1c1c1c">H23</text>
<text x="236.7" y="64" font-size="7.5" font-weight="bold" text-anchor="middle" fill="#1c1c1c" transform="rotate(-90 236.7 64)">Change from baseline (%)</text>
<text x="279.3" y="118.5" font-size="6.8" font-weight="bold" text-anchor="middle" fill="#1c1c1c">Control</text>
<text x="314.2" y="118.5" font-size="6.8" font-weight="bold" text-anchor="middle" fill="#1c1c1c">Anlotinib</text>
<text x="350.3" y="118.5" font-size="6.8" font-weight="bold" text-anchor="middle" fill="#1c1c1c">Sotorasib</text>
<text x="383.1" y="118.5" font-size="6.8" font-weight="bold" text-anchor="middle" fill="#1c1c1c">Combo</text>
<text x="227.1" y="10.7" font-size="13.4" font-weight="bold" text-anchor="start" fill="#000">B</text>
<line x1="262.3" y1="161.7" x2="262.3" y2="174.1" stroke="#2a2a2a" stroke-width="1.1"/>
<line x1="258.3" y1="161.7" x2="262.8" y2="161.7" stroke="#2a2a2a" stroke-width="1.1"/>
<text x="257.1" y="164.4" font-size="7.6" font-weight="bold" text-anchor="end" fill="#1c1c1c">2000</text>
<line x1="258.3" y1="170.8" x2="262.8" y2="170.8" stroke="#2a2a2a" stroke-width="1.1"/>
<text x="257.1" y="173.5" font-size="7.6" font-weight="bold" text-anchor="end" fill="#1c1c1c">1500</text>
<line x1="258.3" y1="174.1" x2="262.8" y2="174.1" stroke="#2a2a2a" stroke-width="1.1"/>
<line x1="262.3" y1="182.2" x2="262.3" y2="233.5" stroke="#2a2a2a" stroke-width="1.1"/>
<line x1="258.3" y1="182.2" x2="262.8" y2="182.2" stroke="#2a2a2a" stroke-width="1.1"/>
<line x1="258.3" y1="187.1" x2="262.8" y2="187.1" stroke="#2a2a2a" stroke-width="1.1"/>
<text x="257.1" y="189.8" font-size="7.6" font-weight="bold" text-anchor="end" fill="#1c1c1c">1000</text>
<line x1="258.3" y1="210.5" x2="262.8" y2="210.5" stroke="#2a2a2a" stroke-width="1.1"/>
<text x="257.1" y="213.2" font-size="7.6" font-weight="bold" text-anchor="end" fill="#1c1c1c">500</text>
<line x1="258.3" y1="233.5" x2="262.8" y2="233.5" stroke="#2a2a2a" stroke-width="1.1"/>
<text x="257.1" y="236.2" font-size="7.6" font-weight="bold" text-anchor="end" fill="#1c1c1c">0</text>
<line x1="262.3" y1="241.6" x2="262.3" y2="263" stroke="#2a2a2a" stroke-width="1.1"/>
<line x1="258.3" y1="241.6" x2="262.8" y2="241.6" stroke="#2a2a2a" stroke-width="1.1"/>
<text x="257.1" y="244.3" font-size="7.6" font-weight="bold" text-anchor="end" fill="#1c1c1c">0</text>
<line x1="258.3" y1="263" x2="262.8" y2="263" stroke="#2a2a2a" stroke-width="1.1"/>
<text x="257.1" y="265.7" font-size="7.6" font-weight="bold" text-anchor="end" fill="#1c1c1c">-50</text>
<rect x="264.8" y="164.2" width="5.2" height="9.9" fill="#E3AF78"/>
<rect x="264.8" y="182.2" width="5.2" height="51.3" fill="#E3AF78"/>
<rect x="270.58" y="170" width="5.2" height="4.1" fill="#E3AF78"/>
<rect x="270.58" y="182.2" width="5.2" height="51.3" fill="#E3AF78"/>
<rect x="276.36" y="182.2" width="5.2" height="51.3" fill="#E3AF78"/>
<rect x="282.14" y="197" width="5.2" height="36.5" fill="#E3AF78"/>
<rect x="287.92" y="197.3" width="5.2" height="36.2" fill="#E3AF78"/>
<rect x="300" y="183.6" width="5.2" height="49.9" fill="#F0767E"/>
<rect x="305.8" y="189" width="5.2" height="44.5" fill="#F0767E"/>
<rect x="311.6" y="190.2" width="5.2" height="43.3" fill="#F0767E"/>
<rect x="317.4" y="193.1" width="5.2" height="40.4" fill="#F0767E"/>
<rect x="323.2" y="200.4" width="5.2" height="33.1" fill="#F0767E"/>
<rect x="335.3" y="190.5" width="5.2" height="43" fill="#9494F9"/>
<rect x="341.05" y="203.9" width="5.2" height="29.6" fill="#9494F9"/>
<rect x="346.8" y="213.1" width="5.2" height="20.4" fill="#9494F9"/>
<rect x="352.55" y="214.6" width="5.2" height="18.9" fill="#9494F9"/>
<rect x="358.3" y="222.9" width="5.2" height="10.6" fill="#9494F9"/>
<rect x="371" y="225.2" width="5.2" height="8.3" fill="#5A5AF9"/>
<rect x="376.7" y="227.8" width="5.2" height="5.7" fill="#5A5AF9"/>
<rect x="382.4" y="228.6" width="5.2" height="4.9" fill="#5A5AF9"/>
<rect x="388.1" y="229.2" width="5.2" height="4.3" fill="#5A5AF9"/>
<rect x="393.8" y="241.6" width="5.2" height="8" fill="#5A5AF9"/>
<line x1="261.8" y1="233.5" x2="402.5" y2="233.5" stroke="#2a2a2a" stroke-width="1.2"/>
<line x1="261.8" y1="241.6" x2="402.5" y2="241.6" stroke="#2a2a2a" stroke-width="1.2"/>
<text x="332" y="148.9" font-size="7.9" font-weight="bold" text-anchor="middle" fill="#1c1c1c">H2122SR</text>
<text x="234" y="211.6" font-size="7.9" font-weight="bold" text-anchor="middle" fill="#1c1c1c" transform="rotate(-90 234 211.6)">Change from baseline (%)</text>
<text x="278.7" y="271" font-size="6.8" font-weight="bold" text-anchor="middle" fill="#1c1c1c">Control</text>
<text x="315.1" y="271" font-size="6.8" font-weight="bold" text-anchor="middle" fill="#1c1c1c">Anlotinib</text>
<text x="352" y="271" font-size="6.8" font-weight="bold" text-anchor="middle" fill="#1c1c1c">Sotorasib</text>
<text x="385.6" y="271" font-size="6.8" font-weight="bold" text-anchor="middle" fill="#1c1c1c">Combo</text>
<text x="227.2" y="154" font-size="13.4" font-weight="bold" text-anchor="start" fill="#000">F</text>
<line x1="460.4" y1="21.9" x2="460.4" y2="101.9" stroke="#2a2a2a" stroke-width="1.1"/>
<line x1="459.9" y1="101.4" x2="531.8" y2="101.4" stroke="#2a2a2a" stroke-width="1.1"/>
<line x1="456.6" y1="101.4" x2="460.4" y2="101.4" stroke="#2a2a2a" stroke-width="1.1"/>
<text x="455.4" y="104" font-size="7.2" font-weight="bold" text-anchor="end" fill="#1c1c1c">0.0</text>
<line x1="456.6" y1="74.9" x2="460.4" y2="74.9" stroke="#2a2a2a" stroke-width="1.1"/>
<text x="455.4" y="77.5" font-size="7.2" font-weight="bold" text-anchor="end" fill="#1c1c1c">0.5</text>
<line x1="456.6" y1="48.4" x2="460.4" y2="48.4" stroke="#2a2a2a" stroke-width="1.1"/>
<text x="455.4" y="51" font-size="7.2" font-weight="bold" text-anchor="end" fill="#1c1c1c">1.0</text>
<line x1="456.6" y1="21.9" x2="460.4" y2="21.9" stroke="#2a2a2a" stroke-width="1.1"/>
<text x="455.4" y="24.5" font-size="7.2" font-weight="bold" text-anchor="end" fill="#1c1c1c">1.5</text>
<line x1="473.4" y1="101.4" x2="473.4" y2="104.6" stroke="#2a2a2a" stroke-width="1.1"/>
<line x1="488.5" y1="101.4" x2="488.5" y2="104.6" stroke="#2a2a2a" stroke-width="1.1"/>
<line x1="503.4" y1="101.4" x2="503.4" y2="104.6" stroke="#2a2a2a" stroke-width="1.1"/>
<line x1="518.3" y1="101.4" x2="518.3" y2="104.6" stroke="#2a2a2a" stroke-width="1.1"/>
<line x1="473.4" y1="38.8" x2="473.4" y2="60.4" stroke="#F0A040" stroke-width="1.2"/>
<line x1="470.1" y1="38.8" x2="476.7" y2="38.8" stroke="#F0A040" stroke-width="1.2"/>
<line x1="470.1" y1="60.4" x2="476.7" y2="60.4" stroke="#F0A040" stroke-width="1.2"/>
<line x1="466.7" y1="49.6" x2="480.1" y2="49.6" stroke="#F0A040" stroke-width="1.3"/>
<circle cx="473.4" cy="35.8" r="1.55" fill="#F0A040"/>
<circle cx="476.6" cy="44.7" r="1.55" fill="#F0A040"/>
<circle cx="470.7" cy="47.2" r="1.55" fill="#F0A040"/>
<circle cx="473.4" cy="56.7" r="1.55" fill="#F0A040"/>
<circle cx="473.4" cy="63.4" r="1.55" fill="#F0A040"/>
<line x1="488.5" y1="48.2" x2="488.5" y2="75.9" stroke="#F06E80" stroke-width="1.2"/>
<line x1="485.2" y1="48.2" x2="491.8" y2="48.2" stroke="#F06E80" stroke-width="1.2"/>
<line x1="485.2" y1="75.9" x2="491.8" y2="75.9" stroke="#F06E80" stroke-width="1.2"/>
<line x1="481.9" y1="62.2" x2="495.1" y2="62.2" stroke="#F06E80" stroke-width="1.3"/>
<circle cx="488.6" cy="47.3" r="1.55" fill="#F06E80"/>
<circle cx="485.8" cy="57.3" r="1.55" fill="#F06E80"/>
<circle cx="491.5" cy="54.8" r="1.55" fill="#F06E80"/>
<circle cx="488.6" cy="69.7" r="1.55" fill="#F06E80"/>
<circle cx="488.6" cy="81.8" r="1.55" fill="#F06E80"/>
<line x1="503.4" y1="70.1" x2="503.4" y2="89.3" stroke="#7DB6F2" stroke-width="1.2"/>
<line x1="500.1" y1="70.1" x2="506.7" y2="70.1" stroke="#7DB6F2" stroke-width="1.2"/>
<line x1="500.1" y1="89.3" x2="506.7" y2="89.3" stroke="#7DB6F2" stroke-width="1.2"/>
<line x1="496.7" y1="79.7" x2="510.1" y2="79.7" stroke="#7DB6F2" stroke-width="1.3"/>
<circle cx="503.4" cy="66" r="1.55" fill="#7DB6F2"/>
<circle cx="503.4" cy="73.2" r="1.55" fill="#7DB6F2"/>
<circle cx="498" cy="87.6" r="1.55" fill="#7DB6F2"/>
<circle cx="508.7" cy="86" r="1.55" fill="#7DB6F2"/>
<circle cx="503.4" cy="86.4" r="1.55" fill="#7DB6F2"/>
<line x1="518.3" y1="90.7" x2="518.3" y2="98.1" stroke="#5252F2" stroke-width="1.2"/>
<line x1="515" y1="90.7" x2="521.6" y2="90.7" stroke="#5252F2" stroke-width="1.2"/>
<line x1="515" y1="98.1" x2="521.6" y2="98.1" stroke="#5252F2" stroke-width="1.2"/>
<line x1="511.8" y1="94.6" x2="524.8" y2="94.6" stroke="#5252F2" stroke-width="1.3"/>
<circle cx="512.6" cy="92.3" r="1.55" fill="#5252F2"/>
<circle cx="518.3" cy="91.1" r="1.55" fill="#5252F2"/>
<circle cx="523.6" cy="93.4" r="1.55" fill="#5252F2"/>
<circle cx="515.7" cy="99.6" r="1.55" fill="#5252F2"/>
<circle cx="521" cy="98.1" r="1.55" fill="#5252F2"/>
<line x1="488.7" y1="39.4" x2="518.3" y2="39.4" stroke="#2a2a2a" stroke-width="1.1"/>
<text x="503.5" y="34.7" font-size="5.9" font-weight="bold" text-anchor="middle" fill="#1c1c1c">0.0002</text>
<line x1="503.4" y1="57.3" x2="518.3" y2="57.3" stroke="#2a2a2a" stroke-width="1.1"/>
<text x="510.85" y="52.6" font-size="5.9" font-weight="bold" text-anchor="middle" fill="#1c1c1c">0.0304</text>
<text x="495.5" y="10" font-size="7.6" font-weight="bold" text-anchor="middle" fill="#1c1c1c">H23</text>
<text x="440.4" y="61.2" font-size="7.8" font-weight="bold" text-anchor="middle" fill="#1c1c1c" transform="rotate(-90 440.4 61.2)">Tumor weight (g)</text>
<text x="427.2" y="118.4" font-size="6.6" font-weight="bold" text-anchor="start" fill="#1c1c1c">Sotorasib</text>
<text x="427.2" y="129.6" font-size="6.6" font-weight="bold" text-anchor="start" fill="#1c1c1c">Anlotinib</text>
<line x1="472.1" y1="116.2" x2="474.7" y2="116.2" stroke="#1c1c1c" stroke-width="0.9"/>
<line x1="472.1" y1="127.4" x2="474.7" y2="127.4" stroke="#1c1c1c" stroke-width="0.9"/>
<line x1="486.5" y1="116" x2="490.5" y2="116" stroke="#1c1c1c" stroke-width="1"/>
<line x1="488.5" y1="114" x2="488.5" y2="118" stroke="#1c1c1c" stroke-width="1"/>
<line x1="487.2" y1="127.4" x2="489.8" y2="127.4" stroke="#1c1c1c" stroke-width="0.9"/>
<line x1="502.1" y1="116.2" x2="504.7" y2="116.2" stroke="#1c1c1c" stroke-width="0.9"/>
<line x1="501.4" y1="127.2" x2="505.4" y2="127.2" stroke="#1c1c1c" stroke-width="1"/>
<line x1="503.4" y1="125.2" x2="503.4" y2="129.2" stroke="#1c1c1c" stroke-width="1"/>
<line x1="516.3" y1="116" x2="520.3" y2="116" stroke="#1c1c1c" stroke-width="1"/>
<line x1="518.3" y1="114" x2="518.3" y2="118" stroke="#1c1c1c" stroke-width="1"/>
<line x1="516.3" y1="127.2" x2="520.3" y2="127.2" stroke="#1c1c1c" stroke-width="1"/>
<line x1="518.3" y1="125.2" x2="518.3" y2="129.2" stroke="#1c1c1c" stroke-width="1"/>
<text x="431.4" y="10.7" font-size="13.4" font-weight="bold" text-anchor="start" fill="#000">C</text>
<line x1="460.6" y1="165.3" x2="460.6" y2="248" stroke="#2a2a2a" stroke-width="1.1"/>
<line x1="460.1" y1="247.5" x2="531.6" y2="247.5" stroke="#2a2a2a" stroke-width="1.1"/>
<line x1="456.8" y1="247.5" x2="460.6" y2="247.5" stroke="#2a2a2a" stroke-width="1.1"/>
<text x="455.6" y="250.1" font-size="7.2" font-weight="bold" text-anchor="end" fill="#1c1c1c">0.0</text>
<line x1="456.8" y1="220.1" x2="460.6" y2="220.1" stroke="#2a2a2a" stroke-width="1.1"/>
<text x="455.6" y="222.7" font-size="7.2" font-weight="bold" text-anchor="end" fill="#1c1c1c">0.5</text>
<line x1="456.8" y1="192.7" x2="460.6" y2="192.7" stroke="#2a2a2a" stroke-width="1.1"/>
<text x="455.6" y="195.3" font-size="7.2" font-weight="bold" text-anchor="end" fill="#1c1c1c">1.0</text>
<line x1="456.8" y1="165.3" x2="460.6" y2="165.3" stroke="#2a2a2a" stroke-width="1.1"/>
<text x="455.6" y="167.9" font-size="7.2" font-weight="bold" text-anchor="end" fill="#1c1c1c">1.5</text>
<line x1="473.4" y1="247.5" x2="473.4" y2="250.7" stroke="#2a2a2a" stroke-width="1.1"/>
<line x1="488.3" y1="247.5" x2="488.3" y2="250.7" stroke="#2a2a2a" stroke-width="1.1"/>
<line x1="503.2" y1="247.5" x2="503.2" y2="250.7" stroke="#2a2a2a" stroke-width="1.1"/>
<line x1="518.1" y1="247.5" x2="518.1" y2="250.7" stroke="#2a2a2a" stroke-width="1.1"/>
<line x1="473.4" y1="183.5" x2="473.4" y2="202.1" stroke="#F0A040" stroke-width="1.2"/>
<line x1="470.1" y1="183.5" x2="476.7" y2="183.5" stroke="#F0A040" stroke-width="1.2"/>
<line x1="470.1" y1="202.1" x2="476.7" y2="202.1" stroke="#F0A040" stroke-width="1.2"/>
<line x1="466.8" y1="192.8" x2="480" y2="192.8" stroke="#F0A040" stroke-width="1.3"/>
<circle cx="473.4" cy="178.4" r="1.55" fill="#F0A040"/>
<circle cx="473.4" cy="191" r="1.55" fill="#F0A040"/>
<circle cx="470.5" cy="194.6" r="1.55" fill="#F0A040"/>
<circle cx="476.3" cy="196" r="1.55" fill="#F0A040"/>
<circle cx="473.4" cy="203" r="1.55" fill="#F0A040"/>
<line x1="488.3" y1="191" x2="488.3" y2="199.5" stroke="#F06E80" stroke-width="1.2"/>
<line x1="485" y1="191" x2="491.6" y2="191" stroke="#F06E80" stroke-width="1.2"/>
<line x1="485" y1="199.5" x2="491.6" y2="199.5" stroke="#F06E80" stroke-width="1.2"/>
<line x1="481.7" y1="195.4" x2="494.9" y2="195.4" stroke="#F06E80" stroke-width="1.3"/>
<circle cx="482.9" cy="192" r="1.55" fill="#F06E80"/>
<circle cx="488" cy="191" r="1.55" fill="#F06E80"/>
<circle cx="491" cy="193.3" r="1.55" fill="#F06E80"/>
<circle cx="485.2" cy="200" r="1.55" fill="#F06E80"/>
<circle cx="491" cy="199.3" r="1.55" fill="#F06E80"/>
<line x1="503.2" y1="224.7" x2="503.2" y2="231" stroke="#7DB6F2" stroke-width="1.2"/>
<line x1="499.9" y1="224.7" x2="506.5" y2="224.7" stroke="#7DB6F2" stroke-width="1.2"/>
<line x1="499.9" y1="231" x2="506.5" y2="231" stroke="#7DB6F2" stroke-width="1.2"/>
<line x1="496.8" y1="227.9" x2="509.6" y2="227.9" stroke="#7DB6F2" stroke-width="1.3"/>
<circle cx="500.6" cy="224.7" r="1.55" fill="#7DB6F2"/>
<circle cx="505.8" cy="225.7" r="1.55" fill="#7DB6F2"/>
<circle cx="498" cy="230.1" r="1.55" fill="#7DB6F2"/>
<circle cx="503.2" cy="230.1" r="1.55" fill="#7DB6F2"/>
<circle cx="508.5" cy="228.7" r="1.55" fill="#7DB6F2"/>
<line x1="518.1" y1="237" x2="518.1" y2="239.6" stroke="#5252F2" stroke-width="1.2"/>
<line x1="514.8" y1="237" x2="521.4" y2="237" stroke="#5252F2" stroke-width="1.2"/>
<line x1="514.8" y1="239.6" x2="521.4" y2="239.6" stroke="#5252F2" stroke-width="1.2"/>
<line x1="511.7" y1="238.4" x2="524.5" y2="238.4" stroke="#5252F2" stroke-width="1.3"/>
<circle cx="513.2" cy="237.6" r="1.55" fill="#5252F2"/>
<circle cx="516" cy="236.6" r="1.55" fill="#5252F2"/>
<circle cx="518.6" cy="237" r="1.55" fill="#5252F2"/>
<circle cx="521.3" cy="236.9" r="1.55" fill="#5252F2"/>
<circle cx="524" cy="239" r="1.55" fill="#5252F2"/>
<line x1="488.7" y1="183.5" x2="518.1" y2="183.5" stroke="#2a2a2a" stroke-width="1.1"/>
<text x="503.4" y="178.8" font-size="5.9" font-weight="bold" text-anchor="middle" fill="#1c1c1c">&lt;0.0001</text>
<line x1="503.2" y1="215.6" x2="518.1" y2="215.6" stroke="#2a2a2a" stroke-width="1.1"/>
<text x="510.65" y="211.2" font-size="5.9" font-weight="bold" text-anchor="middle" fill="#1c1c1c">0.0154</text>
<text x="495.7" y="152.9" font-size="7.7" font-weight="bold" text-anchor="middle" fill="#1c1c1c">H2122SR</text>
<text x="441" y="206.4" font-size="8" font-weight="bold" text-anchor="middle" fill="#1c1c1c" transform="rotate(-90 441 206.4)">Tumor weight (g)</text>
<text x="427.9" y="264.6" font-size="6.6" font-weight="bold" text-anchor="start" fill="#1c1c1c">Sotorasib</text>
<text x="427.9" y="276" font-size="6.6" font-weight="bold" text-anchor="start" fill="#1c1c1c">Anlotinib</text>
<line x1="472.1" y1="262.4" x2="474.7" y2="262.4" stroke="#1c1c1c" stroke-width="0.9"/>
<line x1="472.1" y1="273.8" x2="474.7" y2="273.8" stroke="#1c1c1c" stroke-width="0.9"/>
<line x1="486.3" y1="262.2" x2="490.3" y2="262.2" stroke="#1c1c1c" stroke-width="1"/>
<line x1="488.3" y1="260.2" x2="488.3" y2="264.2" stroke="#1c1c1c" stroke-width="1"/>
<line x1="487" y1="273.8" x2="489.6" y2="273.8" stroke="#1c1c1c" stroke-width="0.9"/>
<line x1="501.9" y1="262.4" x2="504.5" y2="262.4" stroke="#1c1c1c" stroke-width="0.9"/>
<line x1="501.2" y1="273.6" x2="505.2" y2="273.6" stroke="#1c1c1c" stroke-width="1"/>
<line x1="503.2" y1="271.6" x2="503.2" y2="275.6" stroke="#1c1c1c" stroke-width="1"/>
<line x1="516.1" y1="262.2" x2="520.1" y2="262.2" stroke="#1c1c1c" stroke-width="1"/>
<line x1="518.1" y1="260.2" x2="518.1" y2="264.2" stroke="#1c1c1c" stroke-width="1"/>
<line x1="516.1" y1="273.6" x2="520.1" y2="273.6" stroke="#1c1c1c" stroke-width="1"/>
<line x1="518.1" y1="271.6" x2="518.1" y2="275.6" stroke="#1c1c1c" stroke-width="1"/>
<text x="430.3" y="153.9" font-size="13.4" font-weight="bold" text-anchor="start" fill="#000">G</text>
<line x1="409.55" y1="355.64" x2="409.55" y2="354.88" stroke="#E3AF78" stroke-width="1"/>
<line x1="407.35" y1="354.88" x2="411.75" y2="354.88" stroke="#E3AF78" stroke-width="1"/>
<rect x="404.9" y="355.64" width="9.3" height="69.46" fill="#E3AF78"/>
<line x1="419.85" y1="371.45" x2="419.85" y2="368.15" stroke="#F0767E" stroke-width="1"/>
<line x1="417.65" y1="368.15" x2="422.05" y2="368.15" stroke="#F0767E" stroke-width="1"/>
<rect x="415.3" y="371.45" width="9.1" height="53.65" fill="#F0767E"/>
<line x1="430.4" y1="388.11" x2="430.4" y2="385.19" stroke="#9494F9" stroke-width="1"/>
<line x1="428.2" y1="385.19" x2="432.6" y2="385.19" stroke="#9494F9" stroke-width="1"/>
<rect x="425.7" y="388.11" width="9.4" height="36.99" fill="#9494F9"/>
<line x1="440.75" y1="401.29" x2="440.75" y2="398.65" stroke="#5A5AF9" stroke-width="1"/>
<line x1="438.55" y1="398.65" x2="442.95" y2="398.65" stroke="#5A5AF9" stroke-width="1"/>
<rect x="436" y="401.29" width="9.5" height="23.81" fill="#5A5AF9"/>
<line x1="399.6" y1="349.8" x2="399.6" y2="425.6" stroke="#444" stroke-width="1"/>
<line x1="399.1" y1="425.1" x2="450.5" y2="425.1" stroke="#444" stroke-width="1"/>
<line x1="396.8" y1="425.1" x2="399.6" y2="425.1" stroke="#444" stroke-width="0.9"/>
<text x="395.5" y="427" font-size="5.5" font-weight="normal" text-anchor="end" fill="#111" transform="translate(395.5 427) scale(0.92 1) translate(-395.5 -427)">0</text>
<line x1="396.8" y1="406.28" x2="399.6" y2="406.28" stroke="#444" stroke-width="0.9"/>
<text x="395.5" y="408.18" font-size="5.5" font-weight="normal" text-anchor="end" fill="#111" transform="translate(395.5 408.18) scale(0.92 1) translate(-395.5 -408.18)">20</text>
<line x1="396.8" y1="387.45" x2="399.6" y2="387.45" stroke="#444" stroke-width="0.9"/>
<text x="395.5" y="389.35" font-size="5.5" font-weight="normal" text-anchor="end" fill="#111" transform="translate(395.5 389.35) scale(0.92 1) translate(-395.5 -389.35)">40</text>
<line x1="396.8" y1="368.62" x2="399.6" y2="368.62" stroke="#444" stroke-width="0.9"/>
<text x="395.5" y="370.52" font-size="5.5" font-weight="normal" text-anchor="end" fill="#111" transform="translate(395.5 370.52) scale(0.92 1) translate(-395.5 -370.52)">60</text>
<line x1="396.8" y1="349.8" x2="399.6" y2="349.8" stroke="#444" stroke-width="0.9"/>
<text x="395.5" y="351.7" font-size="5.5" font-weight="normal" text-anchor="end" fill="#111" transform="translate(395.5 351.7) scale(0.92 1) translate(-395.5 -351.7)">80</text>
<line x1="409.55" y1="425.1" x2="409.55" y2="427.7" stroke="#2a2a2a" stroke-width="0.9"/>
<text x="411.25" y="433.1" font-size="5.8" font-weight="bold" text-anchor="end" fill="#222" transform="translate(411.25 433.1) scale(0.95 1) rotate(-45) translate(-411.25 -433.1)">Control</text>
<line x1="419.85" y1="425.1" x2="419.85" y2="427.7" stroke="#2a2a2a" stroke-width="0.9"/>
<text x="421.55" y="433.1" font-size="5.8" font-weight="bold" text-anchor="end" fill="#222" transform="translate(421.55 433.1) scale(0.95 1) rotate(-45) translate(-421.55 -433.1)">Sotorasib</text>
<line x1="430.4" y1="425.1" x2="430.4" y2="427.7" stroke="#2a2a2a" stroke-width="0.9"/>
<text x="432.1" y="433.1" font-size="5.8" font-weight="bold" text-anchor="end" fill="#222" transform="translate(432.1 433.1) scale(0.95 1) rotate(-45) translate(-432.1 -433.1)">Anlotinib</text>
<line x1="440.75" y1="425.1" x2="440.75" y2="427.7" stroke="#2a2a2a" stroke-width="0.9"/>
<text x="442.45" y="433.1" font-size="5.8" font-weight="bold" text-anchor="end" fill="#222" transform="translate(442.45 433.1) scale(0.95 1) rotate(-45) translate(-442.45 -433.1)">Combo</text>
<text x="424.9" y="340.4" font-size="6.9" font-weight="bold" text-anchor="middle" fill="#1c1c1c" transform="translate(424.9 340.4) scale(0.89 1) translate(-424.9 -340.4)">Ki-67</text>
<line x1="420.3" y1="363.2" x2="440.9" y2="363.2" stroke="#2a2a2a" stroke-width="1"/>
<text x="430.6" y="360.2" font-size="4.9" font-weight="bold" text-anchor="middle" fill="#1c1c1c" transform="translate(430.6 360.2) scale(0.92 1) translate(-430.6 -360.2)">&lt;0.0001</text>
<line x1="430.7" y1="380.8" x2="440.9" y2="380.8" stroke="#2a2a2a" stroke-width="1"/>
<text x="435.8" y="378" font-size="4.9" font-weight="bold" text-anchor="middle" fill="#1c1c1c" transform="translate(435.8 378) scale(0.92 1) translate(-435.8 -378)">0.0076</text>
<text x="386" y="387.45" font-size="5.3" font-weight="bold" text-anchor="middle" fill="#1a1a1a" transform="rotate(-90 386 387.45)">Positive rate (%)</text>
<line x1="503.35" y1="368.12" x2="503.35" y2="365.25" stroke="#E3AF78" stroke-width="1"/>
<line x1="501.15" y1="365.25" x2="505.55" y2="365.25" stroke="#E3AF78" stroke-width="1"/>
<rect x="498.5" y="368.12" width="9.7" height="57.08" fill="#E3AF78"/>
<line x1="513.95" y1="359.74" x2="513.95" y2="355.48" stroke="#F0767E" stroke-width="1"/>
<line x1="511.75" y1="355.48" x2="516.15" y2="355.48" stroke="#F0767E" stroke-width="1"/>
<rect x="509" y="359.74" width="9.9" height="65.46" fill="#F0767E"/>
<line x1="524.6" y1="382.77" x2="524.6" y2="377.26" stroke="#9494F9" stroke-width="1"/>
<line x1="522.4" y1="377.26" x2="526.8" y2="377.26" stroke="#9494F9" stroke-width="1"/>
<rect x="520" y="382.77" width="9.2" height="42.43" fill="#9494F9"/>
<line x1="534.85" y1="389.78" x2="534.85" y2="386.4" stroke="#5A5AF9" stroke-width="1"/>
<line x1="532.65" y1="386.4" x2="537.05" y2="386.4" stroke="#5A5AF9" stroke-width="1"/>
<rect x="530" y="389.78" width="9.7" height="35.42" fill="#5A5AF9"/>
<line x1="492.6" y1="350.1" x2="492.6" y2="425.7" stroke="#444" stroke-width="1"/>
<line x1="492.1" y1="425.2" x2="545" y2="425.2" stroke="#444" stroke-width="1"/>
<line x1="489.8" y1="425.2" x2="492.6" y2="425.2" stroke="#444" stroke-width="0.9"/>
<text x="488.5" y="427.1" font-size="5.5" font-weight="normal" text-anchor="end" fill="#111" transform="translate(488.5 427.1) scale(0.92 1) translate(-488.5 -427.1)">0</text>
<line x1="489.8" y1="400.17" x2="492.6" y2="400.17" stroke="#444" stroke-width="0.9"/>
<text x="488.5" y="402.07" font-size="5.5" font-weight="normal" text-anchor="end" fill="#111" transform="translate(488.5 402.07) scale(0.92 1) translate(-488.5 -402.07)">20</text>
<line x1="489.8" y1="375.13" x2="492.6" y2="375.13" stroke="#444" stroke-width="0.9"/>
<text x="488.5" y="377.03" font-size="5.5" font-weight="normal" text-anchor="end" fill="#111" transform="translate(488.5 377.03) scale(0.92 1) translate(-488.5 -377.03)">40</text>
<line x1="489.8" y1="350.1" x2="492.6" y2="350.1" stroke="#444" stroke-width="0.9"/>
<text x="488.5" y="352" font-size="5.5" font-weight="normal" text-anchor="end" fill="#111" transform="translate(488.5 352) scale(0.92 1) translate(-488.5 -352)">60</text>
<line x1="503.35" y1="425.2" x2="503.35" y2="427.8" stroke="#2a2a2a" stroke-width="0.9"/>
<text x="505.05" y="433.2" font-size="5.8" font-weight="bold" text-anchor="end" fill="#222" transform="translate(505.05 433.2) scale(0.95 1) rotate(-45) translate(-505.05 -433.2)">Control</text>
<line x1="513.95" y1="425.2" x2="513.95" y2="427.8" stroke="#2a2a2a" stroke-width="0.9"/>
<text x="515.65" y="433.2" font-size="5.8" font-weight="bold" text-anchor="end" fill="#222" transform="translate(515.65 433.2) scale(0.95 1) rotate(-45) translate(-515.65 -433.2)">Sotorasib</text>
<line x1="524.6" y1="425.2" x2="524.6" y2="427.8" stroke="#2a2a2a" stroke-width="0.9"/>
<text x="526.3" y="433.2" font-size="5.8" font-weight="bold" text-anchor="end" fill="#222" transform="translate(526.3 433.2) scale(0.95 1) rotate(-45) translate(-526.3 -433.2)">Anlotinib</text>
<line x1="534.85" y1="425.2" x2="534.85" y2="427.8" stroke="#2a2a2a" stroke-width="0.9"/>
<text x="536.55" y="433.2" font-size="5.8" font-weight="bold" text-anchor="end" fill="#222" transform="translate(536.55 433.2) scale(0.95 1) rotate(-45) translate(-536.55 -433.2)">Combo</text>
<text x="519.2" y="340.5" font-size="6.9" font-weight="bold" text-anchor="middle" fill="#1c1c1c" transform="translate(519.2 340.5) scale(0.89 1) translate(-519.2 -340.5)">c-Myc</text>
<line x1="514" y1="351.3" x2="535" y2="351.3" stroke="#2a2a2a" stroke-width="1"/>
<text x="524.5" y="348.6" font-size="4.9" font-weight="bold" text-anchor="middle" fill="#1c1c1c" transform="translate(524.5 348.6) scale(0.92 1) translate(-524.5 -348.6)">0.0003</text>
<line x1="524.8" y1="372.3" x2="535" y2="372.3" stroke="#2a2a2a" stroke-width="1"/>
<text x="529.9" y="370" font-size="5.1" font-weight="normal" text-anchor="middle" fill="#444" transform="translate(529.9 370) scale(0.92 1) translate(-529.9 -370)">0.6586</text>
<text x="479.8" y="387.65" font-size="5.3" font-weight="bold" text-anchor="middle" fill="#1a1a1a" transform="rotate(-90 479.8 387.65)">Positive rate (%)</text>
<line x1="602.2" y1="382" x2="602.2" y2="378.53" stroke="#E3AF78" stroke-width="1"/>
<line x1="600" y1="378.53" x2="604.4" y2="378.53" stroke="#E3AF78" stroke-width="1"/>
<rect x="597.4" y="382" width="9.6" height="42.4" fill="#E3AF78"/>
<line x1="612.75" y1="371.68" x2="612.75" y2="366.57" stroke="#F0767E" stroke-width="1"/>
<line x1="610.55" y1="366.57" x2="614.95" y2="366.57" stroke="#F0767E" stroke-width="1"/>
<rect x="607.9" y="371.68" width="9.7" height="52.72" fill="#F0767E"/>
<line x1="623.25" y1="401.56" x2="623.25" y2="397.32" stroke="#9494F9" stroke-width="1"/>
<line x1="621.05" y1="397.32" x2="625.45" y2="397.32" stroke="#9494F9" stroke-width="1"/>
<rect x="618.8" y="401.56" width="8.9" height="22.84" fill="#9494F9"/>
<line x1="633.8" y1="412.26" x2="633.8" y2="411.39" stroke="#5A5AF9" stroke-width="1"/>
<line x1="631.6" y1="411.39" x2="636" y2="411.39" stroke="#5A5AF9" stroke-width="1"/>
<rect x="629" y="412.26" width="9.6" height="12.14" fill="#5A5AF9"/>
<line x1="592.5" y1="347.3" x2="592.5" y2="424.9" stroke="#444" stroke-width="1"/>
<line x1="592" y1="424.4" x2="643.5" y2="424.4" stroke="#444" stroke-width="1"/>
<line x1="589.7" y1="424.4" x2="592.5" y2="424.4" stroke="#444" stroke-width="0.9"/>
<text x="588.4" y="426.3" font-size="5.5" font-weight="normal" text-anchor="end" fill="#111" transform="translate(588.4 426.3) scale(0.92 1) translate(-588.4 -426.3)">0</text>
<line x1="589.7" y1="405.12" x2="592.5" y2="405.12" stroke="#444" stroke-width="0.9"/>
<text x="588.4" y="407.02" font-size="5.5" font-weight="normal" text-anchor="end" fill="#111" transform="translate(588.4 407.02) scale(0.92 1) translate(-588.4 -407.02)">20</text>
<line x1="589.7" y1="385.85" x2="592.5" y2="385.85" stroke="#444" stroke-width="0.9"/>
<text x="588.4" y="387.75" font-size="5.5" font-weight="normal" text-anchor="end" fill="#111" transform="translate(588.4 387.75) scale(0.92 1) translate(-588.4 -387.75)">40</text>
<line x1="589.7" y1="366.57" x2="592.5" y2="366.57" stroke="#444" stroke-width="0.9"/>
<text x="588.4" y="368.47" font-size="5.5" font-weight="normal" text-anchor="end" fill="#111" transform="translate(588.4 368.47) scale(0.92 1) translate(-588.4 -368.47)">60</text>
<line x1="589.7" y1="347.3" x2="592.5" y2="347.3" stroke="#444" stroke-width="0.9"/>
<text x="588.4" y="349.2" font-size="5.5" font-weight="normal" text-anchor="end" fill="#111" transform="translate(588.4 349.2) scale(0.92 1) translate(-588.4 -349.2)">80</text>
<line x1="602.2" y1="424.4" x2="602.2" y2="427" stroke="#2a2a2a" stroke-width="0.9"/>
<text x="603.9" y="432.4" font-size="5.8" font-weight="bold" text-anchor="end" fill="#222" transform="translate(603.9 432.4) scale(0.95 1) rotate(-45) translate(-603.9 -432.4)">Control</text>
<line x1="612.75" y1="424.4" x2="612.75" y2="427" stroke="#2a2a2a" stroke-width="0.9"/>
<text x="614.45" y="432.4" font-size="5.8" font-weight="bold" text-anchor="end" fill="#222" transform="translate(614.45 432.4) scale(0.95 1) rotate(-45) translate(-614.45 -432.4)">Sotorasib</text>
<line x1="623.25" y1="424.4" x2="623.25" y2="427" stroke="#2a2a2a" stroke-width="0.9"/>
<text x="624.95" y="432.4" font-size="5.8" font-weight="bold" text-anchor="end" fill="#222" transform="translate(624.95 432.4) scale(0.95 1) rotate(-45) translate(-624.95 -432.4)">Anlotinib</text>
<line x1="633.8" y1="424.4" x2="633.8" y2="427" stroke="#2a2a2a" stroke-width="0.9"/>
<text x="635.5" y="432.4" font-size="5.8" font-weight="bold" text-anchor="end" fill="#222" transform="translate(635.5 432.4) scale(0.95 1) rotate(-45) translate(-635.5 -432.4)">Combo</text>
<text x="617.9" y="337.7" font-size="6.9" font-weight="bold" text-anchor="middle" fill="#1c1c1c" transform="translate(617.9 337.7) scale(0.89 1) translate(-617.9 -337.7)">ORC2</text>
<line x1="613.2" y1="361.3" x2="633.7" y2="361.3" stroke="#2a2a2a" stroke-width="1"/>
<text x="623.45" y="358.2" font-size="4.9" font-weight="bold" text-anchor="middle" fill="#1c1c1c" transform="translate(623.45 358.2) scale(0.92 1) translate(-623.45 -358.2)">&lt;0.0001</text>
<line x1="623.4" y1="393.4" x2="633.7" y2="393.4" stroke="#2a2a2a" stroke-width="1"/>
<text x="628.55" y="390.7" font-size="5.1" font-weight="normal" text-anchor="middle" fill="#444" transform="translate(628.55 390.7) scale(0.92 1) translate(-628.55 -390.7)">0.2957</text>
<text x="577.4" y="385.85" font-size="5.3" font-weight="bold" text-anchor="middle" fill="#1a1a1a" transform="rotate(-90 577.4 385.85)">Positive rate (%)</text>
<text x="499.4" y="310.7" font-size="9.5" font-weight="bold" text-anchor="middle" fill="#1c1c1c">H23</text>
<text x="382" y="308.3" font-size="13.4" font-weight="bold" text-anchor="start" fill="#000">J</text>
<line x1="408.25" y1="533.92" x2="408.25" y2="531.11" stroke="#E3AF78" stroke-width="1"/>
<line x1="406.05" y1="531.11" x2="410.45" y2="531.11" stroke="#E3AF78" stroke-width="1"/>
<rect x="403.3" y="533.92" width="9.9" height="67.78" fill="#E3AF78"/>
<line x1="419.45" y1="547.13" x2="419.45" y2="543.43" stroke="#F0767E" stroke-width="1"/>
<line x1="417.25" y1="543.43" x2="421.65" y2="543.43" stroke="#F0767E" stroke-width="1"/>
<rect x="414.5" y="547.13" width="9.9" height="54.57" fill="#F0767E"/>
<line x1="430.65" y1="568.96" x2="430.65" y2="565.25" stroke="#9494F9" stroke-width="1"/>
<line x1="428.45" y1="565.25" x2="432.85" y2="565.25" stroke="#9494F9" stroke-width="1"/>
<rect x="425.7" y="568.96" width="9.9" height="32.74" fill="#9494F9"/>
<line x1="441.85" y1="580.27" x2="441.85" y2="577.27" stroke="#5A5AF9" stroke-width="1"/>
<line x1="439.65" y1="577.27" x2="444.05" y2="577.27" stroke="#5A5AF9" stroke-width="1"/>
<rect x="437" y="580.27" width="9.7" height="21.43" fill="#5A5AF9"/>
<line x1="398.5" y1="521.6" x2="398.5" y2="602.2" stroke="#444" stroke-width="1"/>
<line x1="398" y1="601.7" x2="451.7" y2="601.7" stroke="#444" stroke-width="1"/>
<line x1="395.7" y1="601.7" x2="398.5" y2="601.7" stroke="#444" stroke-width="0.9"/>
<text x="393.8" y="604" font-size="5.94" font-weight="normal" text-anchor="end" fill="#111" transform="translate(393.8 604) scale(0.92 1) translate(-393.8 -604)">0</text>
<line x1="395.7" y1="581.68" x2="398.5" y2="581.68" stroke="#444" stroke-width="0.9"/>
<text x="393.8" y="583.98" font-size="5.94" font-weight="normal" text-anchor="end" fill="#111" transform="translate(393.8 583.98) scale(0.92 1) translate(-393.8 -583.98)">20</text>
<line x1="395.7" y1="561.65" x2="398.5" y2="561.65" stroke="#444" stroke-width="0.9"/>
<text x="393.8" y="563.95" font-size="5.94" font-weight="normal" text-anchor="end" fill="#111" transform="translate(393.8 563.95) scale(0.92 1) translate(-393.8 -563.95)">40</text>
<line x1="395.7" y1="541.62" x2="398.5" y2="541.62" stroke="#444" stroke-width="0.9"/>
<text x="393.8" y="543.92" font-size="5.94" font-weight="normal" text-anchor="end" fill="#111" transform="translate(393.8 543.92) scale(0.92 1) translate(-393.8 -543.92)">60</text>
<line x1="395.7" y1="521.6" x2="398.5" y2="521.6" stroke="#444" stroke-width="0.9"/>
<text x="393.8" y="523.9" font-size="5.94" font-weight="normal" text-anchor="end" fill="#111" transform="translate(393.8 523.9) scale(0.92 1) translate(-393.8 -523.9)">80</text>
<line x1="408.25" y1="601.7" x2="408.25" y2="604.3" stroke="#2a2a2a" stroke-width="0.9"/>
<text x="409.95" y="609.7" font-size="5.8" font-weight="bold" text-anchor="end" fill="#222" transform="translate(409.95 609.7) scale(0.95 1) rotate(-45) translate(-409.95 -609.7)">Control</text>
<line x1="419.45" y1="601.7" x2="419.45" y2="604.3" stroke="#2a2a2a" stroke-width="0.9"/>
<text x="421.15" y="609.7" font-size="5.8" font-weight="bold" text-anchor="end" fill="#222" transform="translate(421.15 609.7) scale(0.95 1) rotate(-45) translate(-421.15 -609.7)">Sotorasib</text>
<line x1="430.65" y1="601.7" x2="430.65" y2="604.3" stroke="#2a2a2a" stroke-width="0.9"/>
<text x="432.35" y="609.7" font-size="5.8" font-weight="bold" text-anchor="end" fill="#222" transform="translate(432.35 609.7) scale(0.95 1) rotate(-45) translate(-432.35 -609.7)">Anlotinib</text>
<line x1="441.85" y1="601.7" x2="441.85" y2="604.3" stroke="#2a2a2a" stroke-width="0.9"/>
<text x="443.55" y="609.7" font-size="5.8" font-weight="bold" text-anchor="end" fill="#222" transform="translate(443.55 609.7) scale(0.95 1) rotate(-45) translate(-443.55 -609.7)">Combo</text>
<text x="424.9" y="511.6" font-size="6.9" font-weight="bold" text-anchor="middle" fill="#1c1c1c" transform="translate(424.9 511.6) scale(0.89 1) translate(-424.9 -511.6)">Ki-67</text>
<line x1="419.5" y1="537.7" x2="441.8" y2="537.7" stroke="#2a2a2a" stroke-width="1"/>
<text x="430.65" y="534.8" font-size="4.9" font-weight="bold" text-anchor="middle" fill="#1c1c1c" transform="translate(430.65 534.8) scale(0.92 1) translate(-430.65 -534.8)">&lt;0.0001</text>
<line x1="430.7" y1="561.6" x2="441.8" y2="561.6" stroke="#2a2a2a" stroke-width="1"/>
<text x="436.25" y="558.6" font-size="4.9" font-weight="bold" text-anchor="middle" fill="#1c1c1c" transform="translate(436.25 558.6) scale(0.92 1) translate(-436.25 -558.6)">0.0341</text>
<text x="383.4" y="561.65" font-size="5.72" font-weight="bold" text-anchor="middle" fill="#1a1a1a" transform="rotate(-90 383.4 561.65)">Positive rate (%)</text>
<line x1="505" y1="531.21" x2="505" y2="529.61" stroke="#E3AF78" stroke-width="1"/>
<line x1="502.8" y1="529.61" x2="507.2" y2="529.61" stroke="#E3AF78" stroke-width="1"/>
<rect x="500" y="531.21" width="10" height="70.49" fill="#E3AF78"/>
<line x1="516.1" y1="536.29" x2="516.1" y2="529.61" stroke="#F0767E" stroke-width="1"/>
<line x1="513.9" y1="529.61" x2="518.3" y2="529.61" stroke="#F0767E" stroke-width="1"/>
<rect x="511.2" y="536.29" width="9.8" height="65.41" fill="#F0767E"/>
<line x1="527" y1="565.66" x2="527" y2="563.25" stroke="#9494F9" stroke-width="1"/>
<line x1="524.8" y1="563.25" x2="529.2" y2="563.25" stroke="#9494F9" stroke-width="1"/>
<rect x="522.2" y="565.66" width="9.6" height="36.05" fill="#9494F9"/>
<line x1="538.05" y1="568.86" x2="538.05" y2="566.99" stroke="#5A5AF9" stroke-width="1"/>
<line x1="535.85" y1="566.99" x2="540.25" y2="566.99" stroke="#5A5AF9" stroke-width="1"/>
<rect x="533.2" y="568.86" width="9.7" height="32.84" fill="#5A5AF9"/>
<line x1="494.7" y1="521.6" x2="494.7" y2="602.2" stroke="#444" stroke-width="1"/>
<line x1="494.2" y1="601.7" x2="548.1" y2="601.7" stroke="#444" stroke-width="1"/>
<line x1="491.9" y1="601.7" x2="494.7" y2="601.7" stroke="#444" stroke-width="0.9"/>
<text x="490" y="604" font-size="5.94" font-weight="normal" text-anchor="end" fill="#111" transform="translate(490 604) scale(0.92 1) translate(-490 -604)">0</text>
<line x1="491.9" y1="575" x2="494.7" y2="575" stroke="#444" stroke-width="0.9"/>
<text x="490" y="577.3" font-size="5.94" font-weight="normal" text-anchor="end" fill="#111" transform="translate(490 577.3) scale(0.92 1) translate(-490 -577.3)">20</text>
<line x1="491.9" y1="548.3" x2="494.7" y2="548.3" stroke="#444" stroke-width="0.9"/>
<text x="490" y="550.6" font-size="5.94" font-weight="normal" text-anchor="end" fill="#111" transform="translate(490 550.6) scale(0.92 1) translate(-490 -550.6)">40</text>
<line x1="491.9" y1="521.6" x2="494.7" y2="521.6" stroke="#444" stroke-width="0.9"/>
<text x="490" y="523.9" font-size="5.94" font-weight="normal" text-anchor="end" fill="#111" transform="translate(490 523.9) scale(0.92 1) translate(-490 -523.9)">60</text>
<line x1="505" y1="601.7" x2="505" y2="604.3" stroke="#2a2a2a" stroke-width="0.9"/>
<text x="506.7" y="609.7" font-size="5.8" font-weight="bold" text-anchor="end" fill="#222" transform="translate(506.7 609.7) scale(0.95 1) rotate(-45) translate(-506.7 -609.7)">Control</text>
<line x1="516.1" y1="601.7" x2="516.1" y2="604.3" stroke="#2a2a2a" stroke-width="0.9"/>
<text x="517.8" y="609.7" font-size="5.8" font-weight="bold" text-anchor="end" fill="#222" transform="translate(517.8 609.7) scale(0.95 1) rotate(-45) translate(-517.8 -609.7)">Sotorasib</text>
<line x1="527" y1="601.7" x2="527" y2="604.3" stroke="#2a2a2a" stroke-width="0.9"/>
<text x="528.7" y="609.7" font-size="5.8" font-weight="bold" text-anchor="end" fill="#222" transform="translate(528.7 609.7) scale(0.95 1) rotate(-45) translate(-528.7 -609.7)">Anlotinib</text>
<line x1="538.05" y1="601.7" x2="538.05" y2="604.3" stroke="#2a2a2a" stroke-width="0.9"/>
<text x="539.75" y="609.7" font-size="5.8" font-weight="bold" text-anchor="end" fill="#222" transform="translate(539.75 609.7) scale(0.95 1) rotate(-45) translate(-539.75 -609.7)">Combo</text>
<text x="521.3" y="512" font-size="6.9" font-weight="bold" text-anchor="middle" fill="#1c1c1c" transform="translate(521.3 512) scale(0.89 1) translate(-521.3 -512)">c-Myc</text>
<line x1="515.7" y1="524.6" x2="538" y2="524.6" stroke="#2a2a2a" stroke-width="1"/>
<text x="526.85" y="521.5" font-size="4.9" font-weight="bold" text-anchor="middle" fill="#1c1c1c" transform="translate(526.85 521.5) scale(0.92 1) translate(-526.85 -521.5)">&lt;0.0001</text>
<line x1="527.1" y1="559.1" x2="538" y2="559.1" stroke="#2a2a2a" stroke-width="1"/>
<text x="532.55" y="556.4" font-size="5.1" font-weight="normal" text-anchor="middle" fill="#444" transform="translate(532.55 556.4) scale(0.92 1) translate(-532.55 -556.4)">0.7695</text>
<text x="479.1" y="561.65" font-size="5.72" font-weight="bold" text-anchor="middle" fill="#1a1a1a" transform="rotate(-90 479.1 561.65)">Positive rate (%)</text>
<line x1="600.05" y1="537.12" x2="600.05" y2="531.21" stroke="#E3AF78" stroke-width="1"/>
<line x1="597.85" y1="531.21" x2="602.25" y2="531.21" stroke="#E3AF78" stroke-width="1"/>
<rect x="595.1" y="537.12" width="9.9" height="64.58" fill="#E3AF78"/>
<line x1="611.2" y1="554.64" x2="611.2" y2="548.23" stroke="#F0767E" stroke-width="1"/>
<line x1="609" y1="548.23" x2="613.4" y2="548.23" stroke="#F0767E" stroke-width="1"/>
<rect x="606.2" y="554.64" width="10" height="47.06" fill="#F0767E"/>
<line x1="622.2" y1="571.86" x2="622.2" y2="563.05" stroke="#9494F9" stroke-width="1"/>
<line x1="620" y1="563.05" x2="624.4" y2="563.05" stroke="#9494F9" stroke-width="1"/>
<rect x="617.2" y="571.86" width="10" height="29.84" fill="#9494F9"/>
<line x1="633.3" y1="583.28" x2="633.3" y2="582.38" stroke="#5A5AF9" stroke-width="1"/>
<line x1="631.1" y1="582.38" x2="635.5" y2="582.38" stroke="#5A5AF9" stroke-width="1"/>
<rect x="628.4" y="583.28" width="9.8" height="18.42" fill="#5A5AF9"/>
<line x1="590.4" y1="521.6" x2="590.4" y2="602.2" stroke="#444" stroke-width="1"/>
<line x1="589.9" y1="601.7" x2="643.5" y2="601.7" stroke="#444" stroke-width="1"/>
<line x1="587.6" y1="601.7" x2="590.4" y2="601.7" stroke="#444" stroke-width="0.9"/>
<text x="585.7" y="604" font-size="5.94" font-weight="normal" text-anchor="end" fill="#111" transform="translate(585.7 604) scale(0.92 1) translate(-585.7 -604)">0</text>
<line x1="587.6" y1="581.68" x2="590.4" y2="581.68" stroke="#444" stroke-width="0.9"/>
<text x="585.7" y="583.98" font-size="5.94" font-weight="normal" text-anchor="end" fill="#111" transform="translate(585.7 583.98) scale(0.92 1) translate(-585.7 -583.98)">20</text>
<line x1="587.6" y1="561.65" x2="590.4" y2="561.65" stroke="#444" stroke-width="0.9"/>
<text x="585.7" y="563.95" font-size="5.94" font-weight="normal" text-anchor="end" fill="#111" transform="translate(585.7 563.95) scale(0.92 1) translate(-585.7 -563.95)">40</text>
<line x1="587.6" y1="541.62" x2="590.4" y2="541.62" stroke="#444" stroke-width="0.9"/>
<text x="585.7" y="543.92" font-size="5.94" font-weight="normal" text-anchor="end" fill="#111" transform="translate(585.7 543.92) scale(0.92 1) translate(-585.7 -543.92)">60</text>
<line x1="587.6" y1="521.6" x2="590.4" y2="521.6" stroke="#444" stroke-width="0.9"/>
<text x="585.7" y="523.9" font-size="5.94" font-weight="normal" text-anchor="end" fill="#111" transform="translate(585.7 523.9) scale(0.92 1) translate(-585.7 -523.9)">80</text>
<line x1="600.05" y1="601.7" x2="600.05" y2="604.3" stroke="#2a2a2a" stroke-width="0.9"/>
<text x="601.75" y="609.7" font-size="5.8" font-weight="bold" text-anchor="end" fill="#222" transform="translate(601.75 609.7) scale(0.95 1) rotate(-45) translate(-601.75 -609.7)">Control</text>
<line x1="611.2" y1="601.7" x2="611.2" y2="604.3" stroke="#2a2a2a" stroke-width="0.9"/>
<text x="612.9" y="609.7" font-size="5.8" font-weight="bold" text-anchor="end" fill="#222" transform="translate(612.9 609.7) scale(0.95 1) rotate(-45) translate(-612.9 -609.7)">Sotorasib</text>
<line x1="622.2" y1="601.7" x2="622.2" y2="604.3" stroke="#2a2a2a" stroke-width="0.9"/>
<text x="623.9" y="609.7" font-size="5.8" font-weight="bold" text-anchor="end" fill="#222" transform="translate(623.9 609.7) scale(0.95 1) rotate(-45) translate(-623.9 -609.7)">Anlotinib</text>
<line x1="633.3" y1="601.7" x2="633.3" y2="604.3" stroke="#2a2a2a" stroke-width="0.9"/>
<text x="635" y="609.7" font-size="5.8" font-weight="bold" text-anchor="end" fill="#222" transform="translate(635 609.7) scale(0.95 1) rotate(-45) translate(-635 -609.7)">Combo</text>
<text x="616.7" y="511.4" font-size="6.9" font-weight="bold" text-anchor="middle" fill="#1c1c1c" transform="translate(616.7 511.4) scale(0.89 1) translate(-616.7 -511.4)">ORC2</text>
<line x1="610.9" y1="544.2" x2="633.3" y2="544.2" stroke="#2a2a2a" stroke-width="1"/>
<text x="622.1" y="540.8" font-size="4.9" font-weight="bold" text-anchor="middle" fill="#1c1c1c" transform="translate(622.1 540.8) scale(0.92 1) translate(-622.1 -540.8)">0.0084</text>
<line x1="622.5" y1="558.2" x2="633.3" y2="558.2" stroke="#2a2a2a" stroke-width="1"/>
<text x="627.9" y="555.5" font-size="5.1" font-weight="normal" text-anchor="middle" fill="#444" transform="translate(627.9 555.5) scale(0.92 1) translate(-627.9 -555.5)">0.3717</text>
<text x="574.8" y="561.65" font-size="5.72" font-weight="bold" text-anchor="middle" fill="#1a1a1a" transform="rotate(-90 574.8 561.65)">Positive rate (%)</text>
<text x="504" y="489.5" font-size="9.6" font-weight="bold" text-anchor="middle" fill="#1c1c1c">H2122SR</text>
<text x="381" y="483.6" font-size="13.4" font-weight="bold" text-anchor="start" fill="#000">L</text>
<rect x="69.1" y="308" width="65.9" height="44.6" fill="#B8B4D6" filter="url(#tx1)"/>
<rect x="142.3" y="308" width="65.9" height="44.6" fill="#B8B4D6" filter="url(#tx2)"/>
<rect x="215" y="308" width="65.9" height="44.6" fill="#B8B4D6" filter="url(#tx3)"/>
<rect x="288.5" y="308" width="65.9" height="44.6" fill="#B8B4D6" filter="url(#tx4)"/>
<rect x="69.1" y="359.2" width="65.9" height="44.6" fill="#C0BAD6" filter="url(#tx5)"/>
<rect x="142.3" y="359.2" width="65.9" height="44.6" fill="#C0BAD6" filter="url(#tx6)"/>
<rect x="215" y="359.2" width="65.9" height="44.6" fill="#C0BAD6" filter="url(#tx7)"/>
<rect x="288.5" y="359.2" width="65.9" height="44.6" fill="#C0BAD6" filter="url(#tx8)"/>
<rect x="69.1" y="410.2" width="65.9" height="44.6" fill="#C8C2D8" filter="url(#tx9)"/>
<rect x="142.3" y="410.2" width="65.9" height="44.6" fill="#C8C2D8" filter="url(#tx10)"/>
<rect x="215" y="410.2" width="65.9" height="44.6" fill="#C8C2D8" filter="url(#tx11)"/>
<rect x="288.5" y="410.2" width="65.9" height="44.6" fill="#C8C2D8" filter="url(#tx12)"/>
<text x="102.05" y="302" font-size="7.6" font-weight="bold" text-anchor="middle" fill="#1c1c1c">control</text>
<text x="175.25" y="302" font-size="7.6" font-weight="bold" text-anchor="middle" fill="#1c1c1c">sotorasib</text>
<text x="247.95" y="302" font-size="7.6" font-weight="bold" text-anchor="middle" fill="#1c1c1c">anlotinib</text>
<text x="321.45" y="302" font-size="7.6" font-weight="bold" text-anchor="middle" fill="#1c1c1c">combo</text>
<text x="62" y="336.3" font-size="7.8" font-weight="bold" text-anchor="end" fill="#1c1c1c">Ki-67</text>
<text x="62" y="384.9" font-size="7.8" font-weight="bold" text-anchor="end" fill="#1c1c1c">c-Myc</text>
<text x="62" y="436.2" font-size="7.8" font-weight="bold" text-anchor="end" fill="#1c1c1c">ORC2</text>
<text x="3.9" y="308.4" font-size="13.4" font-weight="bold" text-anchor="start" fill="#000">I</text>
<rect x="346.4" y="451.8" width="2.8" height="1.4" fill="#2a2a3a"/>
<rect x="349.8" y="451.8" width="3" height="1.4" fill="#2a2a3a"/>
<rect x="69.1" y="484.2" width="65.9" height="44.6" fill="#B8B4D6" filter="url(#tx13)"/>
<rect x="142.3" y="484.2" width="65.9" height="44.6" fill="#B8B4D6" filter="url(#tx14)"/>
<rect x="215" y="484.2" width="65.9" height="44.6" fill="#C6C4E4" filter="url(#tx15)"/>
<rect x="288.5" y="484.2" width="65.9" height="44.6" fill="#C6C4E4" filter="url(#tx16)"/>
<rect x="69.1" y="535.4" width="65.9" height="44.6" fill="#C0BAD6" filter="url(#tx17)"/>
<rect x="142.3" y="535.4" width="65.9" height="44.6" fill="#C0BAD6" filter="url(#tx18)"/>
<rect x="215" y="535.4" width="65.9" height="44.6" fill="#CAC6E0" filter="url(#tx19)"/>
<rect x="288.5" y="535.4" width="65.9" height="44.6" fill="#CAC6E0" filter="url(#tx20)"/>
<rect x="69.1" y="586.4" width="65.9" height="44.6" fill="#C8C2D8" filter="url(#tx21)"/>
<rect x="142.3" y="586.4" width="65.9" height="44.6" fill="#C8C2D8" filter="url(#tx22)"/>
<rect x="215" y="586.4" width="65.9" height="44.6" fill="#C8C2D8" filter="url(#tx23)"/>
<rect x="288.5" y="586.4" width="65.9" height="44.6" fill="#C8C2D8" filter="url(#tx24)"/>
<text x="102.05" y="478.9" font-size="7.6" font-weight="bold" text-anchor="middle" fill="#1c1c1c">control</text>
<text x="175.25" y="478.9" font-size="7.6" font-weight="bold" text-anchor="middle" fill="#1c1c1c">sotorasib</text>
<text x="247.95" y="478.9" font-size="7.6" font-weight="bold" text-anchor="middle" fill="#1c1c1c">anlotinib</text>
<text x="321.45" y="478.9" font-size="7.6" font-weight="bold" text-anchor="middle" fill="#1c1c1c">combo</text>
<text x="62" y="512.4" font-size="7.8" font-weight="bold" text-anchor="end" fill="#1c1c1c">Ki-67</text>
<text x="62" y="561" font-size="7.8" font-weight="bold" text-anchor="end" fill="#1c1c1c">c-Myc</text>
<text x="62" y="611.7" font-size="7.8" font-weight="bold" text-anchor="end" fill="#1c1c1c">ORC2</text>
<text x="0.2" y="483.7" font-size="13.4" font-weight="bold" text-anchor="start" fill="#000">K</text>
<rect x="346.4" y="627.8" width="2.8" height="1.4" fill="#2a2a3a"/>
<rect x="349.8" y="627.8" width="3" height="1.4" fill="#2a2a3a"/>
<defs><linearGradient id="gD" x1="0" y1="0" x2="1" y2="0"><stop offset="0" stop-color="#D6D6D4"/><stop offset="0.35" stop-color="#E4E4E2"/><stop offset="1" stop-color="#E8E8E6"/></linearGradient></defs>
<rect x="558.4" y="16.2" width="124.7" height="88.8" fill="url(#gD)"/>
<text x="592.6" y="26.4" font-size="5.2" font-weight="normal" text-anchor="middle" fill="#333" font-family="Liberation Serif">1</text>
<text x="613" y="26.4" font-size="5.2" font-weight="normal" text-anchor="middle" fill="#333" font-family="Liberation Serif">2</text>
<text x="635" y="26.4" font-size="5.2" font-weight="normal" text-anchor="middle" fill="#333" font-family="Liberation Serif">3</text>
<text x="655.6" y="26.4" font-size="5.2" font-weight="normal" text-anchor="middle" fill="#333" font-family="Liberation Serif">4</text>
<text x="676" y="26.4" font-size="5.2" font-weight="normal" text-anchor="middle" fill="#333" font-family="Liberation Serif">5</text>
<text x="571.5" y="35" font-size="5" font-weight="normal" text-anchor="middle" fill="#2a2a2a" transform="translate(571.5 35) scale(0.8 1) translate(-571.5 -35)" font-style="italic" font-family="Liberation Serif">Control</text>
<text x="571.5" y="49.6" font-size="5" font-weight="normal" text-anchor="middle" fill="#2a2a2a" transform="translate(571.5 49.6) scale(0.8 1) translate(-571.5 -49.6)" font-style="italic" font-family="Liberation Serif">Sotorasib</text>
<text x="571.5" y="64.8" font-size="5" font-weight="normal" text-anchor="middle" fill="#2a2a2a" transform="translate(571.5 64.8) scale(0.8 1) translate(-571.5 -64.8)" font-style="italic" font-family="Liberation Serif">Anlotinib</text>
<text x="571.5" y="79.6" font-size="5" font-weight="normal" text-anchor="middle" fill="#2a2a2a" transform="translate(571.5 79.6) scale(0.8 1) translate(-571.5 -79.6)" font-style="italic" font-family="Liberation Serif">Combo</text>
<path d="M596.47 33.3 L596.43 34.02 L596.35 34.74 L596.18 35.45 L595.89 36.08 L595.46 36.56 L594.95 36.85 L594.42 36.99 L593.93 37.1 L593.48 37.28 L593 37.55 L592.46 37.81 L591.87 37.91 L591.29 37.74 L590.81 37.29 L590.46 36.66 L590.24 35.96 L590.06 35.28 L589.9 34.63 L589.75 33.98 L589.67 33.3 L589.71 32.61 L589.88 31.96 L590.12 31.36 L590.39 30.79 L590.65 30.2 L590.95 29.57 L591.34 28.98 L591.83 28.54 L592.41 28.39 L593 28.55 L593.52 28.92 L593.97 29.35 L594.38 29.72 L594.81 30.01 L595.27 30.29 L595.74 30.67 L596.12 31.2 L596.36 31.85 L596.47 32.57 Z" fill="#D48E7E" stroke="#B8705E" stroke-width="0.45" stroke-opacity="0.7"/>
<ellipse cx="592.32" cy="32.4" rx="1.53" ry="1.71" fill="#EDB8A6" opacity="0.75"/>
<circle cx="592.78" cy="34.11" r="0.85" fill="#B86A5C" opacity="0.55"/>
<path d="M616.22 32.9 L616.33 33.75 L616.24 34.6 L615.96 35.34 L615.57 35.93 L615.15 36.42 L614.74 36.86 L614.32 37.26 L613.88 37.59 L613.39 37.77 L612.9 37.74 L612.43 37.56 L611.98 37.33 L611.53 37.11 L611.04 36.9 L610.53 36.61 L610.05 36.13 L609.71 35.44 L609.58 34.59 L609.64 33.71 L609.82 32.9 L610.01 32.19 L610.15 31.51 L610.26 30.8 L610.39 30.06 L610.63 29.35 L610.98 28.77 L611.42 28.35 L611.9 28.08 L612.39 27.89 L612.9 27.74 L613.43 27.69 L613.96 27.82 L614.43 28.2 L614.8 28.81 L615.05 29.54 L615.23 30.26 L615.41 30.9 L615.67 31.5 L615.96 32.14 Z" fill="#D48E7E" stroke="#B8705E" stroke-width="0.45" stroke-opacity="0.7"/>
<ellipse cx="612.26" cy="31.9" rx="1.44" ry="1.9" fill="#EDB8A6" opacity="0.75"/>
<circle cx="612.82" cy="34.77" r="0.8" fill="#B86A5C" opacity="0.55"/>
<path d="M637.78 33.3 L637.56 34.02 L637.34 34.67 L637.17 35.31 L636.99 35.97 L636.77 36.61 L636.45 37.16 L636.06 37.56 L635.62 37.82 L635.17 38 L634.7 38.15 L634.21 38.25 L633.7 38.22 L633.22 37.96 L632.82 37.44 L632.56 36.73 L632.41 35.96 L632.31 35.25 L632.18 34.61 L631.99 33.99 L631.78 33.3 L631.63 32.52 L631.64 31.71 L631.82 30.95 L632.14 30.32 L632.53 29.82 L632.93 29.39 L633.33 29.01 L633.76 28.69 L634.23 28.52 L634.7 28.55 L635.15 28.77 L635.55 29.09 L635.94 29.41 L636.35 29.67 L636.8 29.94 L637.27 30.32 L637.66 30.89 L637.89 31.64 L637.92 32.48 Z" fill="#D48E7E" stroke="#B8705E" stroke-width="0.45" stroke-opacity="0.7"/>
<ellipse cx="634.1" cy="32.34" rx="1.35" ry="1.82" fill="#EDB8A6" opacity="0.75"/>
<circle cx="635.61" cy="34.12" r="0.75" fill="#B86A5C" opacity="0.55"/>
<path d="M657.98 33.8 L657.96 34.49 L657.92 35.19 L657.83 35.91 L657.63 36.61 L657.3 37.17 L656.84 37.52 L656.34 37.65 L655.85 37.64 L655.41 37.64 L655 37.72 L654.56 37.87 L654.07 37.99 L653.56 37.94 L653.09 37.65 L652.73 37.13 L652.47 36.5 L652.29 35.83 L652.14 35.16 L652.03 34.49 L651.98 33.8 L652.03 33.11 L652.21 32.47 L652.48 31.92 L652.78 31.43 L653.06 30.95 L653.32 30.4 L653.61 29.81 L654 29.28 L654.48 28.94 L655 28.92 L655.5 29.18 L655.93 29.62 L656.29 30.1 L656.62 30.53 L656.97 30.91 L657.32 31.33 L657.63 31.83 L657.85 32.44 L657.95 33.11 Z" fill="#D48E7E" stroke="#B8705E" stroke-width="0.45" stroke-opacity="0.7"/>
<ellipse cx="654.4" cy="32.92" rx="1.35" ry="1.67" fill="#EDB8A6" opacity="0.75"/>
<circle cx="654.14" cy="35.14" r="0.75" fill="#B86A5C" opacity="0.55"/>
<path d="M678.93 33.8 L678.91 34.34 L678.79 34.86 L678.6 35.36 L678.37 35.84 L678.11 36.31 L677.78 36.74 L677.36 37.05 L676.87 37.18 L676.36 37.12 L675.9 36.95 L675.48 36.78 L675.08 36.67 L674.63 36.61 L674.14 36.54 L673.65 36.35 L673.25 35.98 L672.99 35.48 L672.89 34.91 L672.89 34.34 L672.93 33.8 L672.99 33.28 L673.08 32.76 L673.25 32.27 L673.52 31.84 L673.87 31.5 L674.26 31.24 L674.64 30.99 L675.01 30.71 L675.43 30.4 L675.9 30.15 L676.42 30.06 L676.93 30.2 L677.36 30.56 L677.67 31.04 L677.9 31.54 L678.1 31.99 L678.34 32.39 L678.59 32.81 L678.81 33.28 Z" fill="#D48E7E" stroke="#B8705E" stroke-width="0.45" stroke-opacity="0.7"/>
<ellipse cx="675.3" cy="33.12" rx="1.35" ry="1.29" fill="#EDB8A6" opacity="0.75"/>
<circle cx="675.96" cy="34.33" r="0.75" fill="#B86A5C" opacity="0.55"/>
<path d="M595.01 48.4 L594.98 48.82 L594.92 49.24 L594.78 49.65 L594.57 50 L594.29 50.29 L593.99 50.54 L593.69 50.79 L593.37 51.06 L593.01 51.32 L592.6 51.48 L592.16 51.48 L591.76 51.28 L591.44 50.94 L591.21 50.55 L591.01 50.19 L590.79 49.87 L590.54 49.58 L590.29 49.24 L590.09 48.85 L590.01 48.4 L590.04 47.95 L590.16 47.51 L590.33 47.1 L590.52 46.71 L590.75 46.33 L591.05 46.01 L591.42 45.8 L591.83 45.74 L592.23 45.79 L592.6 45.88 L592.95 45.95 L593.31 45.95 L593.71 45.95 L594.14 46.02 L594.54 46.23 L594.84 46.58 L595 47.03 L595.04 47.51 L595.03 47.97 Z" fill="#D48E7E" stroke="#B8705E" stroke-width="0.45" stroke-opacity="0.7"/>
<ellipse cx="592.1" cy="47.84" rx="1.12" ry="1.06" fill="#EDB8A6" opacity="0.75"/>
<circle cx="592.01" cy="49.1" r="0.62" fill="#B86A5C" opacity="0.55"/>
<path d="M616.16 48.1 L616.16 48.78 L616.05 49.44 L615.83 50.02 L615.51 50.49 L615.16 50.83 L614.82 51.14 L614.51 51.5 L614.2 51.93 L613.83 52.37 L613.4 52.68 L612.93 52.72 L612.48 52.48 L612.12 52.02 L611.83 51.47 L611.58 50.93 L611.34 50.43 L611.1 49.92 L610.9 49.36 L610.78 48.75 L610.76 48.1 L610.82 47.47 L610.92 46.84 L611.02 46.21 L611.14 45.55 L611.34 44.89 L611.65 44.35 L612.06 44.01 L612.53 43.94 L612.99 44.08 L613.4 44.28 L613.77 44.43 L614.15 44.49 L614.57 44.54 L615 44.67 L615.4 44.99 L615.71 45.49 L615.91 46.11 L616.04 46.77 L616.12 47.43 Z" fill="#D48E7E" stroke="#B8705E" stroke-width="0.45" stroke-opacity="0.7"/>
<ellipse cx="612.86" cy="47.26" rx="1.22" ry="1.6" fill="#EDB8A6" opacity="0.75"/>
<circle cx="613.34" cy="48.87" r="0.68" fill="#B86A5C" opacity="0.55"/>
<path d="M639.06 48.4 L638.86 49.13 L638.59 49.77 L638.32 50.35 L638.07 50.92 L637.79 51.48 L637.44 51.96 L637.02 52.32 L636.55 52.53 L636.08 52.64 L635.6 52.74 L635.1 52.84 L634.56 52.9 L634.01 52.79 L633.51 52.44 L633.15 51.85 L632.95 51.1 L632.89 50.34 L632.86 49.65 L632.79 49.03 L632.66 48.4 L632.54 47.72 L632.5 46.98 L632.62 46.26 L632.89 45.63 L633.26 45.11 L633.68 44.68 L634.11 44.3 L634.58 43.97 L635.08 43.76 L635.6 43.74 L636.1 43.95 L636.54 44.34 L636.91 44.77 L637.27 45.16 L637.68 45.48 L638.13 45.81 L638.59 46.26 L638.95 46.87 L639.11 47.62 Z" fill="#D48E7E" stroke="#B8705E" stroke-width="0.45" stroke-opacity="0.7"/>
<ellipse cx="634.96" cy="47.5" rx="1.44" ry="1.71" fill="#EDB8A6" opacity="0.75"/>
<circle cx="635.87" cy="49.03" r="0.8" fill="#B86A5C" opacity="0.55"/>
<path d="M659.71 48.1 L659.54 48.53 L659.41 48.93 L659.32 49.36 L659.2 49.8 L659.01 50.23 L658.72 50.58 L658.36 50.84 L657.95 51 L657.53 51.11 L657.1 51.19 L656.66 51.22 L656.21 51.14 L655.81 50.92 L655.49 50.56 L655.27 50.13 L655.13 49.69 L654.98 49.3 L654.78 48.94 L654.53 48.55 L654.31 48.1 L654.21 47.59 L654.28 47.08 L654.51 46.63 L654.84 46.27 L655.2 45.98 L655.55 45.73 L655.9 45.49 L656.28 45.29 L656.68 45.18 L657.1 45.19 L657.5 45.29 L657.88 45.44 L658.26 45.58 L658.66 45.71 L659.09 45.89 L659.49 46.17 L659.79 46.58 L659.91 47.08 L659.86 47.61 Z" fill="#D48E7E" stroke="#B8705E" stroke-width="0.45" stroke-opacity="0.7"/>
<ellipse cx="656.56" cy="47.5" rx="1.22" ry="1.14" fill="#EDB8A6" opacity="0.75"/>
<circle cx="656.86" cy="49.52" r="0.68" fill="#B86A5C" opacity="0.55"/>
<path d="M678.63 48.1 L678.53 48.62 L678.5 49.16 L678.49 49.75 L678.41 50.38 L678.22 50.97 L677.88 51.43 L677.45 51.71 L676.99 51.84 L676.54 51.88 L676.1 51.9 L675.66 51.86 L675.23 51.74 L674.84 51.47 L674.51 51.07 L674.25 50.61 L674.03 50.14 L673.79 49.7 L673.51 49.24 L673.23 48.72 L673.03 48.1 L673 47.43 L673.17 46.81 L673.5 46.3 L673.88 45.92 L674.26 45.6 L674.59 45.28 L674.91 44.94 L675.26 44.61 L675.67 44.38 L676.1 44.3 L676.54 44.36 L676.96 44.51 L677.38 44.7 L677.8 44.92 L678.21 45.23 L678.56 45.67 L678.78 46.25 L678.83 46.89 L678.76 47.53 Z" fill="#D48E7E" stroke="#B8705E" stroke-width="0.45" stroke-opacity="0.7"/>
<ellipse cx="675.54" cy="47.34" rx="1.26" ry="1.44" fill="#EDB8A6" opacity="0.75"/>
<circle cx="676.4" cy="49.22" r="0.7" fill="#B86A5C" opacity="0.55"/>
<path d="M594.51 63.6 L594.37 64.11 L594.24 64.59 L594.12 65.07 L593.96 65.54 L593.73 65.96 L593.44 66.29 L593.1 66.53 L592.74 66.72 L592.38 66.9 L592 67.08 L591.58 67.2 L591.15 67.17 L590.75 66.93 L590.45 66.5 L590.26 65.97 L590.14 65.44 L590.02 64.97 L589.87 64.54 L589.67 64.1 L589.51 63.6 L589.43 63.05 L589.49 62.49 L589.67 61.98 L589.92 61.54 L590.2 61.15 L590.5 60.79 L590.83 60.47 L591.2 60.25 L591.6 60.19 L592 60.28 L592.36 60.49 L592.69 60.7 L593.02 60.87 L593.39 61 L593.8 61.16 L594.18 61.44 L594.48 61.88 L594.62 62.44 L594.61 63.04 Z" fill="#D48E7E" stroke="#B8705E" stroke-width="0.45" stroke-opacity="0.7"/>
<ellipse cx="591.5" cy="62.92" rx="1.12" ry="1.29" fill="#EDB8A6" opacity="0.75"/>
<circle cx="592.95" cy="63.99" r="0.62" fill="#B86A5C" opacity="0.55"/>
<path d="M616.85 63.6 L616.7 64 L616.58 64.37 L616.5 64.75 L616.42 65.17 L616.29 65.58 L616.08 65.94 L615.79 66.2 L615.47 66.35 L615.14 66.42 L614.8 66.46 L614.46 66.46 L614.12 66.4 L613.8 66.21 L613.54 65.91 L613.36 65.52 L613.24 65.11 L613.14 64.73 L613 64.38 L612.82 64.02 L612.65 63.6 L612.55 63.13 L612.59 62.64 L612.76 62.21 L613.02 61.87 L613.32 61.62 L613.61 61.41 L613.89 61.21 L614.17 61.02 L614.48 60.89 L614.8 60.86 L615.12 60.93 L615.42 61.07 L615.71 61.22 L616.01 61.38 L616.33 61.56 L616.64 61.82 L616.88 62.19 L617 62.65 L616.97 63.14 Z" fill="#D48E7E" stroke="#B8705E" stroke-width="0.45" stroke-opacity="0.7"/>
<ellipse cx="614.38" cy="63.04" rx="0.95" ry="1.06" fill="#EDB8A6" opacity="0.75"/>
<path d="M637.98 63.6 L637.9 64.04 L637.82 64.47 L637.75 64.92 L637.67 65.41 L637.52 65.9 L637.24 66.31 L636.86 66.56 L636.42 66.62 L635.99 66.53 L635.6 66.39 L635.25 66.28 L634.89 66.21 L634.52 66.14 L634.14 66.01 L633.81 65.75 L633.54 65.4 L633.34 64.98 L633.2 64.54 L633.07 64.08 L632.98 63.6 L632.96 63.1 L633.06 62.61 L633.3 62.19 L633.63 61.88 L633.98 61.66 L634.3 61.46 L634.59 61.21 L634.87 60.91 L635.2 60.6 L635.6 60.39 L636.03 60.35 L636.44 60.5 L636.79 60.8 L637.08 61.15 L637.34 61.51 L637.58 61.87 L637.8 62.26 L637.95 62.68 L638.01 63.14 Z" fill="#D48E7E" stroke="#B8705E" stroke-width="0.45" stroke-opacity="0.7"/>
<ellipse cx="635.1" cy="63" rx="1.12" ry="1.14" fill="#EDB8A6" opacity="0.75"/>
<circle cx="634.89" cy="64.33" r="0.62" fill="#B86A5C" opacity="0.55"/>
<path d="M660.42 65.5 L660.28 65.83 L660.12 66.12 L659.97 66.38 L659.84 66.65 L659.69 66.93 L659.5 67.17 L659.26 67.35 L658.98 67.47 L658.69 67.54 L658.4 67.58 L658.1 67.62 L657.78 67.62 L657.46 67.54 L657.18 67.35 L656.99 67.06 L656.88 66.72 L656.84 66.38 L656.8 66.07 L656.73 65.79 L656.62 65.5 L656.53 65.17 L656.5 64.82 L656.58 64.48 L656.76 64.19 L657 63.96 L657.26 63.77 L657.53 63.61 L657.8 63.48 L658.1 63.39 L658.4 63.38 L658.69 63.47 L658.95 63.63 L659.18 63.8 L659.42 63.95 L659.68 64.09 L659.96 64.25 L660.23 64.47 L660.42 64.78 L660.48 65.14 Z" fill="#D48E7E" stroke="#B8705E" stroke-width="0.45" stroke-opacity="0.7"/>
<ellipse cx="658.02" cy="65.08" rx="0.85" ry="0.8" fill="#EDB8A6" opacity="0.75"/>
<path d="M678.14 64.8 L678.17 65.19 L678.06 65.57 L677.86 65.89 L677.62 66.17 L677.37 66.41 L677.12 66.64 L676.85 66.84 L676.54 66.97 L676.22 67.02 L675.9 66.98 L675.6 66.9 L675.3 66.83 L674.98 66.78 L674.63 66.71 L674.29 66.56 L674 66.31 L673.83 65.96 L673.79 65.55 L673.85 65.16 L673.94 64.8 L674.02 64.47 L674.06 64.15 L674.11 63.8 L674.22 63.46 L674.4 63.16 L674.65 62.92 L674.94 62.74 L675.25 62.6 L675.56 62.47 L675.9 62.38 L676.25 62.36 L676.6 62.46 L676.89 62.68 L677.1 62.99 L677.26 63.31 L677.4 63.61 L677.57 63.87 L677.78 64.13 L678 64.44 Z" fill="#D48E7E" stroke="#B8705E" stroke-width="0.45" stroke-opacity="0.7"/>
<ellipse cx="675.48" cy="64.34" rx="0.95" ry="0.87" fill="#EDB8A6" opacity="0.75"/>
<path d="M594.74 78.4 L594.72 78.89 L594.55 79.33 L594.29 79.7 L594.01 80 L593.74 80.27 L593.48 80.55 L593.21 80.81 L592.9 81.01 L592.55 81.11 L592.2 81.11 L591.85 81.06 L591.51 80.99 L591.15 80.92 L590.77 80.8 L590.42 80.57 L590.14 80.22 L590 79.76 L589.99 79.27 L590.07 78.81 L590.14 78.4 L590.18 78.01 L590.18 77.6 L590.19 77.16 L590.29 76.71 L590.49 76.31 L590.78 76.02 L591.12 75.82 L591.47 75.68 L591.83 75.58 L592.2 75.51 L592.57 75.53 L592.93 75.67 L593.23 75.93 L593.47 76.27 L593.67 76.61 L593.86 76.93 L594.1 77.22 L594.37 77.54 L594.61 77.94 Z" fill="#D48E7E" stroke="#B8705E" stroke-width="0.45" stroke-opacity="0.7"/>
<ellipse cx="591.74" cy="77.84" rx="1.03" ry="1.06" fill="#EDB8A6" opacity="0.75"/>
<circle cx="591.54" cy="79.15" r="0.57" fill="#B86A5C" opacity="0.55"/>
<path d="M616.64 79 L616.62 79.26 L616.57 79.51 L616.46 79.76 L616.29 79.97 L616.08 80.14 L615.85 80.29 L615.62 80.45 L615.38 80.61 L615.11 80.77 L614.8 80.87 L614.47 80.87 L614.16 80.76 L613.92 80.55 L613.73 80.31 L613.58 80.09 L613.42 79.9 L613.24 79.71 L613.05 79.51 L612.9 79.27 L612.84 79 L612.86 78.73 L612.95 78.46 L613.08 78.21 L613.22 77.97 L613.39 77.74 L613.62 77.54 L613.9 77.42 L614.21 77.38 L614.52 77.41 L614.8 77.47 L615.06 77.51 L615.34 77.52 L615.64 77.52 L615.97 77.56 L616.27 77.69 L616.5 77.9 L616.62 78.17 L616.66 78.46 L616.65 78.74 Z" fill="#D48E7E" stroke="#B8705E" stroke-width="0.45" stroke-opacity="0.7"/>
<ellipse cx="614.42" cy="78.66" rx="0.85" ry="0.65" fill="#EDB8A6" opacity="0.75"/>
<path d="M639.11 78.4 L639.17 78.78 L639.17 79.18 L639.07 79.55 L638.86 79.86 L638.57 80.05 L638.26 80.16 L637.97 80.24 L637.72 80.34 L637.47 80.48 L637.2 80.64 L636.9 80.73 L636.58 80.7 L636.29 80.56 L636.04 80.33 L635.83 80.06 L635.63 79.78 L635.46 79.47 L635.33 79.14 L635.27 78.77 L635.31 78.4 L635.42 78.06 L635.56 77.76 L635.69 77.47 L635.78 77.15 L635.88 76.8 L636.02 76.44 L636.25 76.14 L636.55 75.97 L636.88 75.94 L637.2 76.04 L637.49 76.18 L637.76 76.33 L638.02 76.46 L638.27 76.61 L638.51 76.81 L638.71 77.07 L638.84 77.39 L638.94 77.72 L639.02 78.05 Z" fill="#D48E7E" stroke="#B8705E" stroke-width="0.45" stroke-opacity="0.7"/>
<ellipse cx="636.82" cy="77.94" rx="0.85" ry="0.87" fill="#EDB8A6" opacity="0.75"/>
<path d="M660.02 78.4 L660.06 78.63 L660.06 78.87 L660 79.1 L659.88 79.31 L659.74 79.48 L659.58 79.64 L659.41 79.78 L659.22 79.9 L659.02 79.97 L658.8 79.96 L658.6 79.87 L658.43 79.73 L658.27 79.59 L658.12 79.48 L657.95 79.38 L657.75 79.28 L657.57 79.12 L657.44 78.91 L657.39 78.66 L657.42 78.4 L657.49 78.16 L657.59 77.95 L657.68 77.74 L657.78 77.54 L657.9 77.36 L658.05 77.21 L658.23 77.11 L658.42 77.05 L658.61 77.01 L658.8 76.96 L659.01 76.9 L659.23 76.88 L659.45 76.92 L659.65 77.05 L659.79 77.26 L659.86 77.51 L659.89 77.76 L659.91 77.98 L659.96 78.19 Z" fill="#D48E7E" stroke="#B8705E" stroke-width="0.45" stroke-opacity="0.7"/>
<ellipse cx="658.54" cy="78.1" rx="0.59" ry="0.57" fill="#EDB8A6" opacity="0.75"/>
<path d="M675.22 78 L675.19 78.22 L675.15 78.43 L675.13 78.66 L675.09 78.91 L675.01 79.16 L674.86 79.36 L674.65 79.47 L674.42 79.49 L674.2 79.45 L674 79.39 L673.82 79.35 L673.63 79.32 L673.43 79.29 L673.24 79.21 L673.07 79.07 L672.94 78.89 L672.84 78.68 L672.75 78.47 L672.68 78.24 L672.62 78 L672.62 77.75 L672.68 77.51 L672.81 77.3 L672.99 77.15 L673.17 77.04 L673.33 76.93 L673.47 76.8 L673.62 76.64 L673.79 76.48 L674 76.39 L674.22 76.38 L674.43 76.47 L674.61 76.61 L674.77 76.78 L674.91 76.95 L675.04 77.13 L675.15 77.32 L675.22 77.54 L675.25 77.77 Z" fill="#D48E7E" stroke="#B8705E" stroke-width="0.45" stroke-opacity="0.7"/>
<ellipse cx="673.74" cy="77.7" rx="0.59" ry="0.57" fill="#EDB8A6" opacity="0.75"/>
<g transform="rotate(0 630.9 93.6)">
<rect x="583.5" y="87" width="94.8" height="13.2" fill="#F4F4F2" fill-opacity="0.55" stroke="#A4A4A4" stroke-width="0.5"/>
<line x1="584" y1="87.9" x2="677.8" y2="87.9" stroke="#8A8A8A" stroke-width="0.9"/>
<line x1="585.5" y1="88.2" x2="585.5" y2="90.4" stroke="#8C8C8C" stroke-width="0.35"/>
<line x1="586.63" y1="88.2" x2="586.63" y2="89.4" stroke="#8C8C8C" stroke-width="0.35"/>
<line x1="587.77" y1="88.2" x2="587.77" y2="89.4" stroke="#8C8C8C" stroke-width="0.35"/>
<line x1="588.9" y1="88.2" x2="588.9" y2="89.4" stroke="#8C8C8C" stroke-width="0.35"/>
<line x1="590.04" y1="88.2" x2="590.04" y2="90.4" stroke="#8C8C8C" stroke-width="0.35"/>
<line x1="591.17" y1="88.2" x2="591.17" y2="89.4" stroke="#8C8C8C" stroke-width="0.35"/>
<line x1="592.31" y1="88.2" x2="592.31" y2="89.4" stroke="#8C8C8C" stroke-width="0.35"/>
<line x1="593.45" y1="88.2" x2="593.45" y2="89.4" stroke="#8C8C8C" stroke-width="0.35"/>
<line x1="594.58" y1="88.2" x2="594.58" y2="90.4" stroke="#8C8C8C" stroke-width="0.35"/>
<line x1="595.72" y1="88.2" x2="595.72" y2="89.4" stroke="#8C8C8C" stroke-width="0.35"/>
<line x1="596.85" y1="88.2" x2="596.85" y2="89.4" stroke="#8C8C8C" stroke-width="0.35"/>
<line x1="597.99" y1="88.2" x2="597.99" y2="89.4" stroke="#8C8C8C" stroke-width="0.35"/>
<line x1="599.12" y1="88.2" x2="599.12" y2="90.4" stroke="#8C8C8C" stroke-width="0.35"/>
<line x1="600.25" y1="88.2" x2="600.25" y2="89.4" stroke="#8C8C8C" stroke-width="0.35"/>
<line x1="601.39" y1="88.2" x2="601.39" y2="89.4" stroke="#8C8C8C" stroke-width="0.35"/>
<line x1="602.52" y1="88.2" x2="602.52" y2="89.4" stroke="#8C8C8C" stroke-width="0.35"/>
<line x1="603.66" y1="88.2" x2="603.66" y2="90.4" stroke="#8C8C8C" stroke-width="0.35"/>
<line x1="604.79" y1="88.2" x2="604.79" y2="89.4" stroke="#8C8C8C" stroke-width="0.35"/>
<line x1="605.93" y1="88.2" x2="605.93" y2="89.4" stroke="#8C8C8C" stroke-width="0.35"/>
<line x1="607.07" y1="88.2" x2="607.07" y2="89.4" stroke="#8C8C8C" stroke-width="0.35"/>
<line x1="608.2" y1="88.2" x2="608.2" y2="90.4" stroke="#8C8C8C" stroke-width="0.35"/>
<line x1="609.34" y1="88.2" x2="609.34" y2="89.4" stroke="#8C8C8C" stroke-width="0.35"/>
<line x1="610.47" y1="88.2" x2="610.47" y2="89.4" stroke="#8C8C8C" stroke-width="0.35"/>
<line x1="611.61" y1="88.2" x2="611.61" y2="89.4" stroke="#8C8C8C" stroke-width="0.35"/>
<line x1="612.74" y1="88.2" x2="612.74" y2="90.4" stroke="#8C8C8C" stroke-width="0.35"/>
<line x1="613.88" y1="88.2" x2="613.88" y2="89.4" stroke="#8C8C8C" stroke-width="0.35"/>
<line x1="615.01" y1="88.2" x2="615.01" y2="89.4" stroke="#8C8C8C" stroke-width="0.35"/>
<line x1="616.14" y1="88.2" x2="616.14" y2="89.4" stroke="#8C8C8C" stroke-width="0.35"/>
<line x1="617.28" y1="88.2" x2="617.28" y2="90.4" stroke="#8C8C8C" stroke-width="0.35"/>
<line x1="618.41" y1="88.2" x2="618.41" y2="89.4" stroke="#8C8C8C" stroke-width="0.35"/>
<line x1="619.55" y1="88.2" x2="619.55" y2="89.4" stroke="#8C8C8C" stroke-width="0.35"/>
<line x1="620.68" y1="88.2" x2="620.68" y2="89.4" stroke="#8C8C8C" stroke-width="0.35"/>
<line x1="621.82" y1="88.2" x2="621.82" y2="90.4" stroke="#8C8C8C" stroke-width="0.35"/>
<line x1="622.96" y1="88.2" x2="622.96" y2="89.4" stroke="#8C8C8C" stroke-width="0.35"/>
<line x1="624.09" y1="88.2" x2="624.09" y2="89.4" stroke="#8C8C8C" stroke-width="0.35"/>
<line x1="625.23" y1="88.2" x2="625.23" y2="89.4" stroke="#8C8C8C" stroke-width="0.35"/>
<line x1="626.36" y1="88.2" x2="626.36" y2="90.4" stroke="#8C8C8C" stroke-width="0.35"/>
<line x1="627.5" y1="88.2" x2="627.5" y2="89.4" stroke="#8C8C8C" stroke-width="0.35"/>
<line x1="628.63" y1="88.2" x2="628.63" y2="89.4" stroke="#8C8C8C" stroke-width="0.35"/>
<line x1="629.76" y1="88.2" x2="629.76" y2="89.4" stroke="#8C8C8C" stroke-width="0.35"/>
<line x1="630.9" y1="88.2" x2="630.9" y2="90.4" stroke="#8C8C8C" stroke-width="0.35"/>
<line x1="632.03" y1="88.2" x2="632.03" y2="89.4" stroke="#8C8C8C" stroke-width="0.35"/>
<line x1="633.17" y1="88.2" x2="633.17" y2="89.4" stroke="#8C8C8C" stroke-width="0.35"/>
<line x1="634.3" y1="88.2" x2="634.3" y2="89.4" stroke="#8C8C8C" stroke-width="0.35"/>
<line x1="635.44" y1="88.2" x2="635.44" y2="90.4" stroke="#8C8C8C" stroke-width="0.35"/>
<line x1="636.58" y1="88.2" x2="636.58" y2="89.4" stroke="#8C8C8C" stroke-width="0.35"/>
<line x1="637.71" y1="88.2" x2="637.71" y2="89.4" stroke="#8C8C8C" stroke-width="0.35"/>
<line x1="638.85" y1="88.2" x2="638.85" y2="89.4" stroke="#8C8C8C" stroke-width="0.35"/>
<line x1="639.98" y1="88.2" x2="639.98" y2="90.4" stroke="#8C8C8C" stroke-width="0.35"/>
<line x1="641.12" y1="88.2" x2="641.12" y2="89.4" stroke="#8C8C8C" stroke-width="0.35"/>
<line x1="642.25" y1="88.2" x2="642.25" y2="89.4" stroke="#8C8C8C" stroke-width="0.35"/>
<line x1="643.38" y1="88.2" x2="643.38" y2="89.4" stroke="#8C8C8C" stroke-width="0.35"/>
<line x1="644.52" y1="88.2" x2="644.52" y2="90.4" stroke="#8C8C8C" stroke-width="0.35"/>
<line x1="645.65" y1="88.2" x2="645.65" y2="89.4" stroke="#8C8C8C" stroke-width="0.35"/>
<line x1="646.79" y1="88.2" x2="646.79" y2="89.4" stroke="#8C8C8C" stroke-width="0.35"/>
<line x1="647.92" y1="88.2" x2="647.92" y2="89.4" stroke="#8C8C8C" stroke-width="0.35"/>
<line x1="649.06" y1="88.2" x2="649.06" y2="90.4" stroke="#8C8C8C" stroke-width="0.35"/>
<line x1="650.19" y1="88.2" x2="650.19" y2="89.4" stroke="#8C8C8C" stroke-width="0.35"/>
<line x1="651.33" y1="88.2" x2="651.33" y2="89.4" stroke="#8C8C8C" stroke-width="0.35"/>
<line x1="652.47" y1="88.2" x2="652.47" y2="89.4" stroke="#8C8C8C" stroke-width="0.35"/>
<line x1="653.6" y1="88.2" x2="653.6" y2="90.4" stroke="#8C8C8C" stroke-width="0.35"/>
<line x1="654.74" y1="88.2" x2="654.74" y2="89.4" stroke="#8C8C8C" stroke-width="0.35"/>
<line x1="655.87" y1="88.2" x2="655.87" y2="89.4" stroke="#8C8C8C" stroke-width="0.35"/>
<line x1="657" y1="88.2" x2="657" y2="89.4" stroke="#8C8C8C" stroke-width="0.35"/>
<line x1="658.14" y1="88.2" x2="658.14" y2="90.4" stroke="#8C8C8C" stroke-width="0.35"/>
<line x1="659.27" y1="88.2" x2="659.27" y2="89.4" stroke="#8C8C8C" stroke-width="0.35"/>
<line x1="660.41" y1="88.2" x2="660.41" y2="89.4" stroke="#8C8C8C" stroke-width="0.35"/>
<line x1="661.54" y1="88.2" x2="661.54" y2="89.4" stroke="#8C8C8C" stroke-width="0.35"/>
<line x1="662.68" y1="88.2" x2="662.68" y2="90.4" stroke="#8C8C8C" stroke-width="0.35"/>
<line x1="663.82" y1="88.2" x2="663.82" y2="89.4" stroke="#8C8C8C" stroke-width="0.35"/>
<line x1="664.95" y1="88.2" x2="664.95" y2="89.4" stroke="#8C8C8C" stroke-width="0.35"/>
<line x1="666.09" y1="88.2" x2="666.09" y2="89.4" stroke="#8C8C8C" stroke-width="0.35"/>
<line x1="667.22" y1="88.2" x2="667.22" y2="90.4" stroke="#8C8C8C" stroke-width="0.35"/>
<line x1="668.36" y1="88.2" x2="668.36" y2="89.4" stroke="#8C8C8C" stroke-width="0.35"/>
<line x1="669.49" y1="88.2" x2="669.49" y2="89.4" stroke="#8C8C8C" stroke-width="0.35"/>
<line x1="670.62" y1="88.2" x2="670.62" y2="89.4" stroke="#8C8C8C" stroke-width="0.35"/>
<line x1="671.76" y1="88.2" x2="671.76" y2="90.4" stroke="#8C8C8C" stroke-width="0.35"/>
<line x1="672.89" y1="88.2" x2="672.89" y2="89.4" stroke="#8C8C8C" stroke-width="0.35"/>
<line x1="674.03" y1="88.2" x2="674.03" y2="89.4" stroke="#8C8C8C" stroke-width="0.35"/>
<line x1="675.16" y1="88.2" x2="675.16" y2="89.4" stroke="#8C8C8C" stroke-width="0.35"/>
<line x1="676.3" y1="88.2" x2="676.3" y2="90.4" stroke="#8C8C8C" stroke-width="0.35"/>
<line x1="585.1" y1="91.5" x2="585.9" y2="91.5" stroke="#7A7A7A" stroke-width="1"/>
<line x1="589.64" y1="91.5" x2="590.44" y2="91.5" stroke="#7A7A7A" stroke-width="1"/>
<line x1="594.18" y1="91.5" x2="594.98" y2="91.5" stroke="#7A7A7A" stroke-width="1"/>
<line x1="598.72" y1="91.5" x2="599.52" y2="91.5" stroke="#7A7A7A" stroke-width="1"/>
<line x1="603.26" y1="91.5" x2="604.06" y2="91.5" stroke="#7A7A7A" stroke-width="1"/>
<line x1="607.8" y1="91.5" x2="608.6" y2="91.5" stroke="#7A7A7A" stroke-width="1"/>
<line x1="612.34" y1="91.5" x2="613.14" y2="91.5" stroke="#7A7A7A" stroke-width="1"/>
<line x1="616.88" y1="91.5" x2="617.68" y2="91.5" stroke="#7A7A7A" stroke-width="1"/>
<line x1="621.42" y1="91.5" x2="622.22" y2="91.5" stroke="#7A7A7A" stroke-width="1"/>
<line x1="625.96" y1="91.5" x2="626.76" y2="91.5" stroke="#7A7A7A" stroke-width="1"/>
<line x1="630.5" y1="91.5" x2="631.3" y2="91.5" stroke="#7A7A7A" stroke-width="1"/>
<line x1="635.04" y1="91.5" x2="635.84" y2="91.5" stroke="#7A7A7A" stroke-width="1"/>
<line x1="639.58" y1="91.5" x2="640.38" y2="91.5" stroke="#7A7A7A" stroke-width="1"/>
<line x1="644.12" y1="91.5" x2="644.92" y2="91.5" stroke="#7A7A7A" stroke-width="1"/>
<line x1="648.66" y1="91.5" x2="649.46" y2="91.5" stroke="#7A7A7A" stroke-width="1"/>
<line x1="653.2" y1="91.5" x2="654" y2="91.5" stroke="#7A7A7A" stroke-width="1"/>
<line x1="657.74" y1="91.5" x2="658.54" y2="91.5" stroke="#7A7A7A" stroke-width="1"/>
<line x1="662.28" y1="91.5" x2="663.08" y2="91.5" stroke="#7A7A7A" stroke-width="1"/>
<line x1="666.82" y1="91.5" x2="667.62" y2="91.5" stroke="#7A7A7A" stroke-width="1"/>
<line x1="671.36" y1="91.5" x2="672.16" y2="91.5" stroke="#7A7A7A" stroke-width="1"/>
<line x1="675.9" y1="91.5" x2="676.7" y2="91.5" stroke="#7A7A7A" stroke-width="1"/>
<rect x="657.8" y="95.3" width="9" height="2" fill="#555"/>
<rect x="667.3" y="95" width="8.6" height="2.8" fill="#F6E4E2" stroke="#E0A8A8" stroke-width="0.4"/>
</g>
<text x="549.7" y="10.7" font-size="13.4" font-weight="bold" text-anchor="start" fill="#000">D</text>
<rect x="562.2" y="136.3" width="121" height="40.5" fill="#E3E3E0"/>
<rect x="562.2" y="176.8" width="121" height="41" fill="#D2D2D0"/>
<rect x="562.2" y="217.8" width="121" height="62.5" fill="#EEEEEB"/>
<text x="571.8" y="144" font-size="4.8" font-weight="normal" text-anchor="middle" fill="#D0404A" transform="translate(571.8 144) scale(0.85 1) translate(-571.8 -144)" font-style="italic" font-family="Liberation Serif">Control</text>
<text x="574.4" y="187.8" font-size="4.8" font-weight="normal" text-anchor="middle" fill="#D0404A" transform="translate(574.4 187.8) scale(0.85 1) translate(-574.4 -187.8)" font-style="italic" font-family="Liberation Serif">Sotorasib</text>
<text x="578.2" y="226.2" font-size="6.4" font-weight="normal" text-anchor="middle" fill="#D0404A" transform="translate(578.2 226.2) scale(0.85 1) translate(-578.2 -226.2)" font-style="italic" font-family="Liberation Serif">Anlotinib</text>
<text x="577.4" y="250.4" font-size="6.4" font-weight="normal" text-anchor="middle" fill="#D0404A" font-style="italic" font-family="Liberation Serif">Ab+So</text>
<text x="589.6" y="144.4" font-size="5.4" font-weight="normal" text-anchor="middle" fill="#D0404A" font-family="Liberation Serif">1</text>
<text x="609.6" y="144.4" font-size="5.4" font-weight="normal" text-anchor="middle" fill="#D0404A" font-family="Liberation Serif">2</text>
<text x="627.9" y="144.4" font-size="5.4" font-weight="normal" text-anchor="middle" fill="#D0404A" font-family="Liberation Serif">3</text>
<text x="650.7" y="144.4" font-size="5.4" font-weight="normal" text-anchor="middle" fill="#D0404A" font-family="Liberation Serif">4</text>
<text x="672.6" y="144.4" font-size="5.4" font-weight="normal" text-anchor="middle" fill="#D0404A" font-family="Liberation Serif">5</text>
<text x="592" y="188" font-size="5.4" font-weight="normal" text-anchor="middle" fill="#D0404A" font-family="Liberation Serif">1</text>
<text x="611" y="188" font-size="5.4" font-weight="normal" text-anchor="middle" fill="#D0404A" font-family="Liberation Serif">2</text>
<text x="629.9" y="188" font-size="5.4" font-weight="normal" text-anchor="middle" fill="#D0404A" font-family="Liberation Serif">3</text>
<text x="647" y="188" font-size="5.4" font-weight="normal" text-anchor="middle" fill="#D0404A" font-family="Liberation Serif">4</text>
<text x="665.5" y="188" font-size="5.4" font-weight="normal" text-anchor="middle" fill="#D0404A" font-family="Liberation Serif">5</text>
<text x="597.4" y="226.6" font-size="5.8" font-weight="normal" text-anchor="middle" fill="#D0404A" font-family="Liberation Serif">1</text>
<text x="614.7" y="226.6" font-size="5.8" font-weight="normal" text-anchor="middle" fill="#D0404A" font-family="Liberation Serif">2</text>
<text x="633" y="226.6" font-size="5.8" font-weight="normal" text-anchor="middle" fill="#D0404A" font-family="Liberation Serif">3</text>
<text x="650.7" y="226.6" font-size="5.8" font-weight="normal" text-anchor="middle" fill="#D0404A" font-family="Liberation Serif">4</text>
<text x="668.6" y="226.6" font-size="5.8" font-weight="normal" text-anchor="middle" fill="#D0404A" font-family="Liberation Serif">5</text>
<text x="596.5" y="249.2" font-size="5.8" font-weight="normal" text-anchor="middle" fill="#D0404A" font-family="Liberation Serif">1</text>
<text x="615" y="249.2" font-size="5.8" font-weight="normal" text-anchor="middle" fill="#D0404A" font-family="Liberation Serif">2</text>
<text x="633" y="249.2" font-size="5.8" font-weight="normal" text-anchor="middle" fill="#D0404A" font-family="Liberation Serif">3</text>
<text x="650.7" y="249.2" font-size="5.8" font-weight="normal" text-anchor="middle" fill="#D0404A" font-family="Liberation Serif">4</text>
<text x="668" y="249.2" font-size="5.8" font-weight="normal" text-anchor="middle" fill="#D0404A" font-family="Liberation Serif">5</text>
<path d="M592.87 152.2 L592.81 152.69 L592.75 153.19 L592.68 153.72 L592.53 154.27 L592.25 154.77 L591.81 155.15 L591.24 155.33 L590.65 155.33 L590.1 155.23 L589.6 155.14 L589.12 155.12 L588.62 155.13 L588.08 155.1 L587.54 154.95 L587.08 154.65 L586.73 154.23 L586.48 153.74 L586.3 153.24 L586.16 152.73 L586.07 152.2 L586.1 151.66 L586.28 151.15 L586.62 150.73 L587.03 150.39 L587.44 150.11 L587.81 149.81 L588.16 149.45 L588.55 149.06 L589.03 148.72 L589.6 148.54 L590.19 148.6 L590.72 148.85 L591.16 149.22 L591.54 149.61 L591.88 149.98 L592.23 150.35 L592.54 150.75 L592.77 151.2 L592.87 151.7 Z" fill="#D48E7E" stroke="#B8705E" stroke-width="0.45" stroke-opacity="0.7"/>
<ellipse cx="588.92" cy="151.54" rx="1.53" ry="1.25" fill="#EDB8A6" opacity="0.75"/>
<circle cx="588.68" cy="153.37" r="0.82" fill="#B86A5C" opacity="0.55"/>
<path d="M612.27 152.6 L612.24 153.07 L612.25 153.58 L612.23 154.12 L612.1 154.66 L611.83 155.13 L611.45 155.49 L611.01 155.73 L610.55 155.9 L610.08 156.03 L609.6 156.11 L609.11 156.09 L608.65 155.91 L608.26 155.59 L607.95 155.18 L607.69 154.76 L607.43 154.39 L607.11 154.04 L606.75 153.65 L606.44 153.17 L606.27 152.6 L606.32 152.01 L606.55 151.48 L606.89 151.03 L607.25 150.66 L607.59 150.32 L607.92 149.98 L608.28 149.67 L608.69 149.43 L609.14 149.32 L609.6 149.31 L610.05 149.37 L610.5 149.45 L610.98 149.53 L611.47 149.68 L611.93 149.96 L612.28 150.39 L612.45 150.95 L612.46 151.55 L612.37 152.1 Z" fill="#D48E7E" stroke="#B8705E" stroke-width="0.45" stroke-opacity="0.7"/>
<ellipse cx="609" cy="151.92" rx="1.35" ry="1.29" fill="#EDB8A6" opacity="0.75"/>
<circle cx="610.75" cy="154.07" r="0.75" fill="#B86A5C" opacity="0.55"/>
<path d="M631.34 152.4 L631.22 152.93 L631.02 153.41 L630.77 153.86 L630.5 154.29 L630.19 154.69 L629.8 155.01 L629.34 155.22 L628.84 155.3 L628.36 155.3 L627.9 155.31 L627.43 155.35 L626.92 155.42 L626.36 155.42 L625.81 155.27 L625.37 154.93 L625.1 154.44 L624.99 153.88 L624.97 153.35 L624.97 152.86 L624.94 152.4 L624.9 151.93 L624.93 151.43 L625.07 150.96 L625.33 150.53 L625.66 150.16 L626.04 149.84 L626.43 149.52 L626.86 149.21 L627.36 148.98 L627.9 148.91 L628.43 149.03 L628.9 149.33 L629.27 149.72 L629.58 150.09 L629.9 150.4 L630.27 150.67 L630.69 150.98 L631.06 151.37 L631.29 151.86 Z" fill="#D48E7E" stroke="#B8705E" stroke-width="0.45" stroke-opacity="0.7"/>
<ellipse cx="627.26" cy="151.76" rx="1.44" ry="1.22" fill="#EDB8A6" opacity="0.75"/>
<circle cx="628.85" cy="153.3" r="0.8" fill="#B86A5C" opacity="0.55"/>
<path d="M653.41 152.6 L653.3 153.1 L653.2 153.59 L653.09 154.08 L652.92 154.55 L652.65 154.97 L652.31 155.29 L651.93 155.54 L651.55 155.76 L651.14 155.99 L650.7 156.18 L650.22 156.27 L649.75 156.16 L649.34 155.84 L649.04 155.38 L648.84 154.86 L648.68 154.38 L648.49 153.97 L648.25 153.57 L647.99 153.12 L647.81 152.6 L647.77 152.04 L647.88 151.49 L648.1 150.99 L648.39 150.56 L648.69 150.16 L649.02 149.79 L649.39 149.48 L649.82 149.3 L650.27 149.27 L650.7 149.38 L651.1 149.55 L651.48 149.69 L651.88 149.79 L652.33 149.87 L652.8 150.05 L653.21 150.39 L653.48 150.88 L653.57 151.47 L653.53 152.06 Z" fill="#D48E7E" stroke="#B8705E" stroke-width="0.45" stroke-opacity="0.7"/>
<ellipse cx="650.14" cy="151.92" rx="1.26" ry="1.29" fill="#EDB8A6" opacity="0.75"/>
<circle cx="650.62" cy="153.21" r="0.7" fill="#B86A5C" opacity="0.55"/>
<path d="M676.19 152.6 L676.21 153.05 L676.23 153.53 L676.19 154.04 L675.99 154.55 L675.59 154.96 L675.01 155.22 L674.35 155.31 L673.71 155.3 L673.14 155.27 L672.6 155.29 L672.05 155.35 L671.45 155.39 L670.84 155.32 L670.28 155.12 L669.82 154.79 L669.45 154.4 L669.15 153.99 L668.88 153.55 L668.67 153.09 L668.59 152.6 L668.7 152.11 L669 151.68 L669.42 151.32 L669.84 151.02 L670.21 150.72 L670.54 150.36 L670.9 149.96 L671.36 149.59 L671.95 149.34 L672.6 149.29 L673.24 149.42 L673.8 149.68 L674.29 149.98 L674.75 150.26 L675.19 150.55 L675.6 150.88 L675.92 151.26 L676.11 151.7 L676.18 152.15 Z" fill="#D48E7E" stroke="#B8705E" stroke-width="0.45" stroke-opacity="0.7"/>
<ellipse cx="671.84" cy="152" rx="1.71" ry="1.14" fill="#EDB8A6" opacity="0.75"/>
<circle cx="673.95" cy="153.38" r="0.75" fill="#B86A5C" opacity="0.55"/>
<path d="M597.45 195 L597.49 195.39 L597.44 195.79 L597.25 196.17 L596.87 196.49 L596.36 196.71 L595.8 196.83 L595.26 196.91 L594.78 197.01 L594.31 197.17 L593.8 197.34 L593.21 197.47 L592.59 197.48 L592.01 197.34 L591.54 197.07 L591.19 196.74 L590.9 196.4 L590.65 196.07 L590.42 195.73 L590.27 195.37 L590.25 195 L590.37 194.64 L590.59 194.3 L590.83 193.99 L591.05 193.67 L591.27 193.31 L591.56 192.95 L591.99 192.64 L592.56 192.45 L593.19 192.43 L593.8 192.54 L594.34 192.73 L594.82 192.91 L595.28 193.06 L595.78 193.19 L596.28 193.35 L596.73 193.58 L597.06 193.89 L597.27 194.25 L597.38 194.62 Z" fill="#D48E7E" stroke="#B8705E" stroke-width="0.45" stroke-opacity="0.7"/>
<ellipse cx="593.08" cy="194.52" rx="1.62" ry="0.91" fill="#EDB8A6" opacity="0.75"/>
<circle cx="595.05" cy="195.68" r="0.6" fill="#B86A5C" opacity="0.55"/>
<path d="M613.44 195.4 L613.23 195.8 L613.06 196.17 L612.95 196.56 L612.87 197 L612.7 197.46 L612.38 197.87 L611.9 198.15 L611.33 198.27 L610.75 198.26 L610.2 198.18 L609.68 198.08 L609.18 197.98 L608.69 197.84 L608.24 197.63 L607.86 197.32 L607.58 196.97 L607.35 196.59 L607.13 196.22 L606.87 195.83 L606.64 195.4 L606.51 194.92 L606.59 194.43 L606.9 194.01 L607.36 193.7 L607.89 193.5 L608.38 193.34 L608.82 193.16 L609.23 192.95 L609.69 192.73 L610.2 192.58 L610.75 192.55 L611.28 192.66 L611.78 192.85 L612.23 193.1 L612.67 193.36 L613.08 193.68 L613.41 194.05 L613.59 194.49 L613.59 194.96 Z" fill="#D48E7E" stroke="#B8705E" stroke-width="0.45" stroke-opacity="0.7"/>
<ellipse cx="609.52" cy="194.84" rx="1.53" ry="1.06" fill="#EDB8A6" opacity="0.75"/>
<circle cx="609.79" cy="196.17" r="0.7" fill="#B86A5C" opacity="0.55"/>
<path d="M633.24 195 L633.37 195.38 L633.38 195.78 L633.22 196.17 L632.91 196.52 L632.5 196.81 L632.06 197.06 L631.58 197.29 L631.07 197.49 L630.5 197.61 L629.9 197.6 L629.34 197.46 L628.85 197.24 L628.43 197 L628.02 196.79 L627.56 196.63 L627.03 196.45 L626.52 196.2 L626.14 195.85 L625.98 195.43 L626.04 195 L626.26 194.6 L626.53 194.24 L626.8 193.9 L627.08 193.58 L627.41 193.27 L627.82 193.02 L628.31 192.84 L628.84 192.74 L629.37 192.67 L629.9 192.6 L630.46 192.53 L631.08 192.48 L631.7 192.54 L632.26 192.75 L632.65 193.09 L632.86 193.51 L632.94 193.93 L632.99 194.3 L633.09 194.65 Z" fill="#D48E7E" stroke="#B8705E" stroke-width="0.45" stroke-opacity="0.7"/>
<ellipse cx="629.18" cy="194.5" rx="1.62" ry="0.95" fill="#EDB8A6" opacity="0.75"/>
<circle cx="631.1" cy="196.2" r="0.62" fill="#B86A5C" opacity="0.55"/>
<path d="M650.31 195.4 L650.4 195.83 L650.26 196.25 L649.92 196.61 L649.5 196.89 L649.05 197.13 L648.63 197.35 L648.2 197.56 L647.73 197.73 L647.22 197.82 L646.7 197.82 L646.2 197.74 L645.71 197.64 L645.21 197.55 L644.68 197.45 L644.13 197.29 L643.65 197.03 L643.33 196.66 L643.24 196.23 L643.33 195.79 L643.51 195.4 L643.68 195.05 L643.79 194.7 L643.87 194.34 L644 193.96 L644.25 193.6 L644.63 193.31 L645.11 193.1 L645.63 192.97 L646.16 192.88 L646.7 192.82 L647.26 192.8 L647.81 192.89 L648.3 193.09 L648.68 193.4 L648.94 193.75 L649.15 194.09 L649.39 194.39 L649.7 194.68 L650.04 195.01 Z" fill="#D48E7E" stroke="#B8705E" stroke-width="0.45" stroke-opacity="0.7"/>
<ellipse cx="646.02" cy="194.9" rx="1.53" ry="0.95" fill="#EDB8A6" opacity="0.75"/>
<circle cx="646.22" cy="196.41" r="0.62" fill="#B86A5C" opacity="0.55"/>
<path d="M668.6 194.6 L668.57 195.2 L668.36 195.76 L668 196.22 L667.56 196.57 L667.14 196.87 L666.77 197.18 L666.43 197.57 L666.04 198 L665.56 198.37 L665 198.55 L664.42 198.5 L663.88 198.24 L663.43 197.87 L663.03 197.47 L662.66 197.07 L662.31 196.67 L662.02 196.21 L661.83 195.69 L661.77 195.14 L661.8 194.6 L661.85 194.07 L661.9 193.53 L661.94 192.95 L662.06 192.34 L662.33 191.78 L662.78 191.36 L663.34 191.16 L663.94 191.15 L664.5 191.26 L665 191.35 L665.48 191.39 L665.98 191.39 L666.52 191.45 L667.03 191.64 L667.47 191.98 L667.82 192.43 L668.08 192.94 L668.3 193.47 L668.48 194.02 Z" fill="#C85A50" stroke="#B8705E" stroke-width="0.45" stroke-opacity="0.7"/>
<ellipse cx="664.32" cy="193.88" rx="1.53" ry="1.37" fill="#EDB8A6" opacity="0.75"/>
<circle cx="664.28" cy="196.32" r="0.85" fill="#B86A5C" opacity="0.55"/>
<path d="M599.68 232.3 L599.6 232.74 L599.53 233.16 L599.46 233.61 L599.38 234.1 L599.24 234.59 L598.98 235.01 L598.61 235.26 L598.19 235.33 L597.77 235.24 L597.4 235.1 L597.06 234.98 L596.72 234.91 L596.36 234.84 L596 234.7 L595.68 234.45 L595.42 234.09 L595.24 233.68 L595.1 233.24 L594.97 232.78 L594.88 232.3 L594.86 231.8 L594.96 231.31 L595.18 230.89 L595.5 230.58 L595.84 230.35 L596.15 230.16 L596.43 229.92 L596.7 229.62 L597.02 229.31 L597.4 229.1 L597.81 229.06 L598.2 229.21 L598.54 229.5 L598.83 229.85 L599.07 230.21 L599.31 230.57 L599.51 230.95 L599.66 231.38 L599.72 231.84 Z" fill="#D29080" stroke="#B8705E" stroke-width="0.45" stroke-opacity="0.7"/>
<ellipse cx="596.92" cy="231.7" rx="1.08" ry="1.14" fill="#EDB8A6" opacity="0.75"/>
<circle cx="598.26" cy="232.88" r="0.6" fill="#B86A5C" opacity="0.55"/>
<path d="M616.88 232.3 L616.79 232.71 L616.74 233.13 L616.73 233.59 L616.67 234.08 L616.5 234.55 L616.22 234.92 L615.86 235.15 L615.47 235.26 L615.08 235.3 L614.7 235.3 L614.32 235.28 L613.95 235.18 L613.61 234.97 L613.33 234.66 L613.11 234.28 L612.93 233.91 L612.73 233.55 L612.5 233.19 L612.26 232.78 L612.08 232.3 L612.05 231.77 L612.18 231.28 L612.45 230.87 L612.78 230.56 L613.11 230.31 L613.4 230.07 L613.68 229.81 L613.99 229.55 L614.33 229.37 L614.7 229.3 L615.07 229.35 L615.44 229.47 L615.79 229.62 L616.15 229.8 L616.51 230.04 L616.81 230.38 L617.01 230.83 L617.07 231.34 L617 231.84 Z" fill="#D29080" stroke="#B8705E" stroke-width="0.45" stroke-opacity="0.7"/>
<ellipse cx="614.22" cy="231.7" rx="1.08" ry="1.14" fill="#EDB8A6" opacity="0.75"/>
<circle cx="615.43" cy="233.19" r="0.6" fill="#B86A5C" opacity="0.55"/>
<path d="M635.41 231.5 L635.24 231.93 L635.07 232.32 L634.91 232.69 L634.76 233.06 L634.58 233.42 L634.33 233.73 L634.03 233.96 L633.69 234.1 L633.35 234.2 L633 234.29 L632.63 234.36 L632.24 234.37 L631.85 234.24 L631.53 233.96 L631.31 233.55 L631.2 233.09 L631.14 232.65 L631.07 232.26 L630.95 231.89 L630.81 231.5 L630.7 231.06 L630.69 230.59 L630.81 230.14 L631.04 229.77 L631.32 229.46 L631.63 229.2 L631.94 228.97 L632.27 228.78 L632.63 228.67 L633 228.69 L633.35 228.83 L633.66 229.04 L633.94 229.25 L634.23 229.43 L634.57 229.59 L634.92 229.8 L635.24 230.11 L635.44 230.53 L635.5 231.02 Z" fill="#D29080" stroke="#B8705E" stroke-width="0.45" stroke-opacity="0.7"/>
<ellipse cx="632.54" cy="230.94" rx="1.03" ry="1.06" fill="#EDB8A6" opacity="0.75"/>
<circle cx="632.94" cy="232.69" r="0.57" fill="#B86A5C" opacity="0.55"/>
<path d="M652.96 230.8 L652.8 231.28 L652.63 231.71 L652.5 232.13 L652.37 232.57 L652.21 233 L651.99 233.38 L651.7 233.66 L651.38 233.83 L651.04 233.95 L650.7 234.03 L650.34 234.09 L649.97 234.06 L649.61 233.9 L649.32 233.56 L649.12 233.09 L649.01 232.58 L648.95 232.1 L648.86 231.67 L648.72 231.26 L648.56 230.8 L648.45 230.28 L648.45 229.74 L648.58 229.23 L648.81 228.81 L649.1 228.47 L649.4 228.2 L649.7 227.95 L650.02 227.75 L650.35 227.63 L650.7 227.63 L651.03 227.77 L651.33 227.98 L651.61 228.2 L651.91 228.38 L652.23 228.57 L652.57 228.82 L652.87 229.19 L653.04 229.69 L653.07 230.25 Z" fill="#D29080" stroke="#B8705E" stroke-width="0.45" stroke-opacity="0.7"/>
<ellipse cx="650.26" cy="230.16" rx="0.99" ry="1.22" fill="#EDB8A6" opacity="0.75"/>
<path d="M670.84 231.5 L670.81 231.95 L670.74 232.39 L670.61 232.8 L670.4 233.16 L670.11 233.42 L669.8 233.6 L669.5 233.75 L669.22 233.92 L668.93 234.14 L668.6 234.36 L668.23 234.5 L667.84 234.47 L667.5 234.25 L667.24 233.89 L667.05 233.47 L666.91 233.06 L666.77 232.69 L666.62 232.32 L666.5 231.92 L666.44 231.5 L666.46 231.07 L666.56 230.66 L666.69 230.26 L666.84 229.87 L667 229.46 L667.21 229.07 L667.5 228.76 L667.86 228.59 L668.24 228.61 L668.6 228.76 L668.91 228.97 L669.2 229.15 L669.5 229.26 L669.82 229.36 L670.16 229.51 L670.47 229.77 L670.69 230.15 L670.81 230.59 L670.84 231.05 Z" fill="#D29080" stroke="#B8705E" stroke-width="0.45" stroke-opacity="0.7"/>
<ellipse cx="668.16" cy="230.94" rx="0.99" ry="1.06" fill="#EDB8A6" opacity="0.75"/>
<path d="M598.87 257.8 L598.85 258.22 L598.7 258.61 L598.45 258.93 L598.16 259.17 L597.88 259.37 L597.64 259.59 L597.42 259.86 L597.17 260.15 L596.86 260.39 L596.5 260.51 L596.13 260.47 L595.78 260.3 L595.48 260.07 L595.21 259.82 L594.95 259.56 L594.72 259.27 L594.54 258.94 L594.44 258.56 L594.43 258.17 L594.47 257.8 L594.51 257.44 L594.52 257.07 L594.53 256.66 L594.6 256.23 L594.77 255.83 L595.06 255.54 L595.43 255.4 L595.81 255.4 L596.17 255.45 L596.5 255.51 L596.82 255.53 L597.14 255.55 L597.48 255.62 L597.79 255.77 L598.06 256.02 L598.28 256.33 L598.46 256.67 L598.63 257.01 L598.78 257.39 Z" fill="#D29080" stroke="#B8705E" stroke-width="0.45" stroke-opacity="0.7"/>
<ellipse cx="596.06" cy="257.3" rx="0.99" ry="0.95" fill="#EDB8A6" opacity="0.75"/>
<path d="M618.04 257 L617.95 257.41 L617.82 257.78 L617.67 258.14 L617.5 258.48 L617.27 258.79 L616.99 259.03 L616.67 259.16 L616.34 259.22 L616.01 259.25 L615.7 259.29 L615.37 259.37 L615 259.44 L614.61 259.43 L614.25 259.26 L613.98 258.95 L613.82 258.55 L613.76 258.12 L613.73 257.73 L613.7 257.36 L613.64 257 L613.61 256.62 L613.63 256.24 L613.75 255.87 L613.94 255.54 L614.16 255.25 L614.41 254.98 L614.67 254.71 L614.98 254.47 L615.32 254.31 L615.7 254.29 L616.06 254.43 L616.36 254.69 L616.61 254.97 L616.84 255.22 L617.09 255.42 L617.38 255.61 L617.68 255.85 L617.92 256.18 L618.04 256.58 Z" fill="#D29080" stroke="#B8705E" stroke-width="0.45" stroke-opacity="0.7"/>
<ellipse cx="615.26" cy="256.5" rx="0.99" ry="0.95" fill="#EDB8A6" opacity="0.75"/>
<path d="M636.09 256 L636.14 256.29 L636.14 256.6 L636.05 256.89 L635.83 257.15 L635.52 257.32 L635.16 257.42 L634.81 257.46 L634.5 257.51 L634.21 257.59 L633.9 257.7 L633.55 257.79 L633.18 257.81 L632.83 257.72 L632.53 257.54 L632.29 257.32 L632.09 257.07 L631.92 256.83 L631.77 256.57 L631.69 256.29 L631.69 256 L631.79 255.73 L631.95 255.48 L632.13 255.26 L632.27 255.03 L632.41 254.78 L632.57 254.5 L632.81 254.25 L633.14 254.09 L633.52 254.04 L633.9 254.1 L634.24 254.24 L634.54 254.38 L634.83 254.51 L635.12 254.63 L635.4 254.77 L635.65 254.96 L635.84 255.19 L635.96 255.45 L636.03 255.72 Z" fill="#D29080" stroke="#B8705E" stroke-width="0.45" stroke-opacity="0.7"/>
<ellipse cx="633.46" cy="255.64" rx="0.99" ry="0.68" fill="#EDB8A6" opacity="0.75"/>
<path d="M653.96 255.5 L653.92 255.82 L653.82 256.13 L653.7 256.43 L653.54 256.73 L653.33 257 L653.03 257.22 L652.67 257.33 L652.29 257.35 L651.93 257.31 L651.6 257.27 L651.28 257.27 L650.93 257.3 L650.54 257.31 L650.15 257.24 L649.81 257.06 L649.58 256.78 L649.45 256.45 L649.4 256.12 L649.38 255.81 L649.36 255.5 L649.37 255.19 L649.44 254.89 L649.6 254.61 L649.82 254.38 L650.08 254.17 L650.33 253.98 L650.58 253.77 L650.87 253.54 L651.21 253.36 L651.6 253.27 L652 253.32 L652.35 253.5 L652.63 253.75 L652.85 254 L653.06 254.23 L653.3 254.43 L653.55 254.64 L653.78 254.89 L653.92 255.18 Z" fill="#D29080" stroke="#B8705E" stroke-width="0.45" stroke-opacity="0.7"/>
<ellipse cx="651.14" cy="255.1" rx="1.03" ry="0.76" fill="#EDB8A6" opacity="0.75"/>
<circle cx="651.44" cy="256.03" r="0.5" fill="#B86A5C" opacity="0.55"/>
<path d="M670.77 254.2 L670.86 254.46 L670.88 254.75 L670.8 255.02 L670.64 255.26 L670.42 255.45 L670.18 255.6 L669.93 255.74 L669.67 255.85 L669.39 255.93 L669.1 255.93 L668.82 255.85 L668.58 255.72 L668.36 255.57 L668.15 255.44 L667.91 255.33 L667.64 255.2 L667.38 255.03 L667.2 254.78 L667.13 254.5 L667.17 254.2 L667.3 253.93 L667.45 253.7 L667.6 253.48 L667.73 253.26 L667.88 253.04 L668.06 252.85 L668.3 252.71 L668.56 252.62 L668.83 252.57 L669.1 252.53 L669.39 252.49 L669.69 252.48 L670 252.54 L670.26 252.69 L670.45 252.92 L670.55 253.2 L670.59 253.48 L670.62 253.73 L670.68 253.96 Z" fill="#D29080" stroke="#B8705E" stroke-width="0.45" stroke-opacity="0.7"/>
<ellipse cx="668.74" cy="253.86" rx="0.81" ry="0.65" fill="#EDB8A6" opacity="0.75"/>
<g transform="rotate(0 633 168.6)">
<rect x="586.5" y="162.2" width="93" height="12.8" fill="#F4F4F2" fill-opacity="0.55" stroke="#A4A4A4" stroke-width="0.5"/>
<line x1="587" y1="163.1" x2="679" y2="163.1" stroke="#8A8A8A" stroke-width="0.9"/>
<line x1="588.5" y1="163.4" x2="588.5" y2="165.6" stroke="#8C8C8C" stroke-width="0.35"/>
<line x1="589.61" y1="163.4" x2="589.61" y2="164.6" stroke="#8C8C8C" stroke-width="0.35"/>
<line x1="590.73" y1="163.4" x2="590.73" y2="164.6" stroke="#8C8C8C" stroke-width="0.35"/>
<line x1="591.84" y1="163.4" x2="591.84" y2="164.6" stroke="#8C8C8C" stroke-width="0.35"/>
<line x1="592.95" y1="163.4" x2="592.95" y2="165.6" stroke="#8C8C8C" stroke-width="0.35"/>
<line x1="594.06" y1="163.4" x2="594.06" y2="164.6" stroke="#8C8C8C" stroke-width="0.35"/>
<line x1="595.17" y1="163.4" x2="595.17" y2="164.6" stroke="#8C8C8C" stroke-width="0.35"/>
<line x1="596.29" y1="163.4" x2="596.29" y2="164.6" stroke="#8C8C8C" stroke-width="0.35"/>
<line x1="597.4" y1="163.4" x2="597.4" y2="165.6" stroke="#8C8C8C" stroke-width="0.35"/>
<line x1="598.51" y1="163.4" x2="598.51" y2="164.6" stroke="#8C8C8C" stroke-width="0.35"/>
<line x1="599.62" y1="163.4" x2="599.62" y2="164.6" stroke="#8C8C8C" stroke-width="0.35"/>
<line x1="600.74" y1="163.4" x2="600.74" y2="164.6" stroke="#8C8C8C" stroke-width="0.35"/>
<line x1="601.85" y1="163.4" x2="601.85" y2="165.6" stroke="#8C8C8C" stroke-width="0.35"/>
<line x1="602.96" y1="163.4" x2="602.96" y2="164.6" stroke="#8C8C8C" stroke-width="0.35"/>
<line x1="604.08" y1="163.4" x2="604.08" y2="164.6" stroke="#8C8C8C" stroke-width="0.35"/>
<line x1="605.19" y1="163.4" x2="605.19" y2="164.6" stroke="#8C8C8C" stroke-width="0.35"/>
<line x1="606.3" y1="163.4" x2="606.3" y2="165.6" stroke="#8C8C8C" stroke-width="0.35"/>
<line x1="607.41" y1="163.4" x2="607.41" y2="164.6" stroke="#8C8C8C" stroke-width="0.35"/>
<line x1="608.52" y1="163.4" x2="608.52" y2="164.6" stroke="#8C8C8C" stroke-width="0.35"/>
<line x1="609.64" y1="163.4" x2="609.64" y2="164.6" stroke="#8C8C8C" stroke-width="0.35"/>
<line x1="610.75" y1="163.4" x2="610.75" y2="165.6" stroke="#8C8C8C" stroke-width="0.35"/>
<line x1="611.86" y1="163.4" x2="611.86" y2="164.6" stroke="#8C8C8C" stroke-width="0.35"/>
<line x1="612.98" y1="163.4" x2="612.98" y2="164.6" stroke="#8C8C8C" stroke-width="0.35"/>
<line x1="614.09" y1="163.4" x2="614.09" y2="164.6" stroke="#8C8C8C" stroke-width="0.35"/>
<line x1="615.2" y1="163.4" x2="615.2" y2="165.6" stroke="#8C8C8C" stroke-width="0.35"/>
<line x1="616.31" y1="163.4" x2="616.31" y2="164.6" stroke="#8C8C8C" stroke-width="0.35"/>
<line x1="617.42" y1="163.4" x2="617.42" y2="164.6" stroke="#8C8C8C" stroke-width="0.35"/>
<line x1="618.54" y1="163.4" x2="618.54" y2="164.6" stroke="#8C8C8C" stroke-width="0.35"/>
<line x1="619.65" y1="163.4" x2="619.65" y2="165.6" stroke="#8C8C8C" stroke-width="0.35"/>
<line x1="620.76" y1="163.4" x2="620.76" y2="164.6" stroke="#8C8C8C" stroke-width="0.35"/>
<line x1="621.88" y1="163.4" x2="621.88" y2="164.6" stroke="#8C8C8C" stroke-width="0.35"/>
<line x1="622.99" y1="163.4" x2="622.99" y2="164.6" stroke="#8C8C8C" stroke-width="0.35"/>
<line x1="624.1" y1="163.4" x2="624.1" y2="165.6" stroke="#8C8C8C" stroke-width="0.35"/>
<line x1="625.21" y1="163.4" x2="625.21" y2="164.6" stroke="#8C8C8C" stroke-width="0.35"/>
<line x1="626.33" y1="163.4" x2="626.33" y2="164.6" stroke="#8C8C8C" stroke-width="0.35"/>
<line x1="627.44" y1="163.4" x2="627.44" y2="164.6" stroke="#8C8C8C" stroke-width="0.35"/>
<line x1="628.55" y1="163.4" x2="628.55" y2="165.6" stroke="#8C8C8C" stroke-width="0.35"/>
<line x1="629.66" y1="163.4" x2="629.66" y2="164.6" stroke="#8C8C8C" stroke-width="0.35"/>
<line x1="630.77" y1="163.4" x2="630.77" y2="164.6" stroke="#8C8C8C" stroke-width="0.35"/>
<line x1="631.89" y1="163.4" x2="631.89" y2="164.6" stroke="#8C8C8C" stroke-width="0.35"/>
<line x1="633" y1="163.4" x2="633" y2="165.6" stroke="#8C8C8C" stroke-width="0.35"/>
<line x1="634.11" y1="163.4" x2="634.11" y2="164.6" stroke="#8C8C8C" stroke-width="0.35"/>
<line x1="635.23" y1="163.4" x2="635.23" y2="164.6" stroke="#8C8C8C" stroke-width="0.35"/>
<line x1="636.34" y1="163.4" x2="636.34" y2="164.6" stroke="#8C8C8C" stroke-width="0.35"/>
<line x1="637.45" y1="163.4" x2="637.45" y2="165.6" stroke="#8C8C8C" stroke-width="0.35"/>
<line x1="638.56" y1="163.4" x2="638.56" y2="164.6" stroke="#8C8C8C" stroke-width="0.35"/>
<line x1="639.67" y1="163.4" x2="639.67" y2="164.6" stroke="#8C8C8C" stroke-width="0.35"/>
<line x1="640.79" y1="163.4" x2="640.79" y2="164.6" stroke="#8C8C8C" stroke-width="0.35"/>
<line x1="641.9" y1="163.4" x2="641.9" y2="165.6" stroke="#8C8C8C" stroke-width="0.35"/>
<line x1="643.01" y1="163.4" x2="643.01" y2="164.6" stroke="#8C8C8C" stroke-width="0.35"/>
<line x1="644.12" y1="163.4" x2="644.12" y2="164.6" stroke="#8C8C8C" stroke-width="0.35"/>
<line x1="645.24" y1="163.4" x2="645.24" y2="164.6" stroke="#8C8C8C" stroke-width="0.35"/>
<line x1="646.35" y1="163.4" x2="646.35" y2="165.6" stroke="#8C8C8C" stroke-width="0.35"/>
<line x1="647.46" y1="163.4" x2="647.46" y2="164.6" stroke="#8C8C8C" stroke-width="0.35"/>
<line x1="648.58" y1="163.4" x2="648.58" y2="164.6" stroke="#8C8C8C" stroke-width="0.35"/>
<line x1="649.69" y1="163.4" x2="649.69" y2="164.6" stroke="#8C8C8C" stroke-width="0.35"/>
<line x1="650.8" y1="163.4" x2="650.8" y2="165.6" stroke="#8C8C8C" stroke-width="0.35"/>
<line x1="651.91" y1="163.4" x2="651.91" y2="164.6" stroke="#8C8C8C" stroke-width="0.35"/>
<line x1="653.02" y1="163.4" x2="653.02" y2="164.6" stroke="#8C8C8C" stroke-width="0.35"/>
<line x1="654.14" y1="163.4" x2="654.14" y2="164.6" stroke="#8C8C8C" stroke-width="0.35"/>
<line x1="655.25" y1="163.4" x2="655.25" y2="165.6" stroke="#8C8C8C" stroke-width="0.35"/>
<line x1="656.36" y1="163.4" x2="656.36" y2="164.6" stroke="#8C8C8C" stroke-width="0.35"/>
<line x1="657.48" y1="163.4" x2="657.48" y2="164.6" stroke="#8C8C8C" stroke-width="0.35"/>
<line x1="658.59" y1="163.4" x2="658.59" y2="164.6" stroke="#8C8C8C" stroke-width="0.35"/>
<line x1="659.7" y1="163.4" x2="659.7" y2="165.6" stroke="#8C8C8C" stroke-width="0.35"/>
<line x1="660.81" y1="163.4" x2="660.81" y2="164.6" stroke="#8C8C8C" stroke-width="0.35"/>
<line x1="661.92" y1="163.4" x2="661.92" y2="164.6" stroke="#8C8C8C" stroke-width="0.35"/>
<line x1="663.04" y1="163.4" x2="663.04" y2="164.6" stroke="#8C8C8C" stroke-width="0.35"/>
<line x1="664.15" y1="163.4" x2="664.15" y2="165.6" stroke="#8C8C8C" stroke-width="0.35"/>
<line x1="665.26" y1="163.4" x2="665.26" y2="164.6" stroke="#8C8C8C" stroke-width="0.35"/>
<line x1="666.38" y1="163.4" x2="666.38" y2="164.6" stroke="#8C8C8C" stroke-width="0.35"/>
<line x1="667.49" y1="163.4" x2="667.49" y2="164.6" stroke="#8C8C8C" stroke-width="0.35"/>
<line x1="668.6" y1="163.4" x2="668.6" y2="165.6" stroke="#8C8C8C" stroke-width="0.35"/>
<line x1="669.71" y1="163.4" x2="669.71" y2="164.6" stroke="#8C8C8C" stroke-width="0.35"/>
<line x1="670.83" y1="163.4" x2="670.83" y2="164.6" stroke="#8C8C8C" stroke-width="0.35"/>
<line x1="671.94" y1="163.4" x2="671.94" y2="164.6" stroke="#8C8C8C" stroke-width="0.35"/>
<line x1="673.05" y1="163.4" x2="673.05" y2="165.6" stroke="#8C8C8C" stroke-width="0.35"/>
<line x1="674.16" y1="163.4" x2="674.16" y2="164.6" stroke="#8C8C8C" stroke-width="0.35"/>
<line x1="675.27" y1="163.4" x2="675.27" y2="164.6" stroke="#8C8C8C" stroke-width="0.35"/>
<line x1="676.39" y1="163.4" x2="676.39" y2="164.6" stroke="#8C8C8C" stroke-width="0.35"/>
<line x1="677.5" y1="163.4" x2="677.5" y2="165.6" stroke="#8C8C8C" stroke-width="0.35"/>
<line x1="588.1" y1="166.7" x2="588.9" y2="166.7" stroke="#7A7A7A" stroke-width="1"/>
<line x1="592.55" y1="166.7" x2="593.35" y2="166.7" stroke="#7A7A7A" stroke-width="1"/>
<line x1="597" y1="166.7" x2="597.8" y2="166.7" stroke="#7A7A7A" stroke-width="1"/>
<line x1="601.45" y1="166.7" x2="602.25" y2="166.7" stroke="#7A7A7A" stroke-width="1"/>
<line x1="605.9" y1="166.7" x2="606.7" y2="166.7" stroke="#7A7A7A" stroke-width="1"/>
<line x1="610.35" y1="166.7" x2="611.15" y2="166.7" stroke="#7A7A7A" stroke-width="1"/>
<line x1="614.8" y1="166.7" x2="615.6" y2="166.7" stroke="#7A7A7A" stroke-width="1"/>
<line x1="619.25" y1="166.7" x2="620.05" y2="166.7" stroke="#7A7A7A" stroke-width="1"/>
<line x1="623.7" y1="166.7" x2="624.5" y2="166.7" stroke="#7A7A7A" stroke-width="1"/>
<line x1="628.15" y1="166.7" x2="628.95" y2="166.7" stroke="#7A7A7A" stroke-width="1"/>
<line x1="632.6" y1="166.7" x2="633.4" y2="166.7" stroke="#7A7A7A" stroke-width="1"/>
<line x1="637.05" y1="166.7" x2="637.85" y2="166.7" stroke="#7A7A7A" stroke-width="1"/>
<line x1="641.5" y1="166.7" x2="642.3" y2="166.7" stroke="#7A7A7A" stroke-width="1"/>
<line x1="645.95" y1="166.7" x2="646.75" y2="166.7" stroke="#7A7A7A" stroke-width="1"/>
<line x1="650.4" y1="166.7" x2="651.2" y2="166.7" stroke="#7A7A7A" stroke-width="1"/>
<line x1="654.85" y1="166.7" x2="655.65" y2="166.7" stroke="#7A7A7A" stroke-width="1"/>
<line x1="659.3" y1="166.7" x2="660.1" y2="166.7" stroke="#7A7A7A" stroke-width="1"/>
<line x1="663.75" y1="166.7" x2="664.55" y2="166.7" stroke="#7A7A7A" stroke-width="1"/>
<line x1="668.2" y1="166.7" x2="669" y2="166.7" stroke="#7A7A7A" stroke-width="1"/>
<line x1="672.65" y1="166.7" x2="673.45" y2="166.7" stroke="#7A7A7A" stroke-width="1"/>
<line x1="677.1" y1="166.7" x2="677.9" y2="166.7" stroke="#7A7A7A" stroke-width="1"/>
<rect x="659" y="170.1" width="9" height="2" fill="#555"/>
<rect x="668.5" y="169.8" width="8.6" height="2.8" fill="#F6E4E2" stroke="#E0A8A8" stroke-width="0.4"/>
</g>
<g transform="rotate(0 634.8 210.2)">
<rect x="590.1" y="203.4" width="89.4" height="13.6" fill="#F4F4F2" fill-opacity="0.55" stroke="#A4A4A4" stroke-width="0.5"/>
<line x1="590.6" y1="204.3" x2="679" y2="204.3" stroke="#8A8A8A" stroke-width="0.9"/>
<line x1="592.1" y1="204.6" x2="592.1" y2="206.8" stroke="#8C8C8C" stroke-width="0.35"/>
<line x1="593.17" y1="204.6" x2="593.17" y2="205.8" stroke="#8C8C8C" stroke-width="0.35"/>
<line x1="594.24" y1="204.6" x2="594.24" y2="205.8" stroke="#8C8C8C" stroke-width="0.35"/>
<line x1="595.3" y1="204.6" x2="595.3" y2="205.8" stroke="#8C8C8C" stroke-width="0.35"/>
<line x1="596.37" y1="204.6" x2="596.37" y2="206.8" stroke="#8C8C8C" stroke-width="0.35"/>
<line x1="597.44" y1="204.6" x2="597.44" y2="205.8" stroke="#8C8C8C" stroke-width="0.35"/>
<line x1="598.5" y1="204.6" x2="598.5" y2="205.8" stroke="#8C8C8C" stroke-width="0.35"/>
<line x1="599.57" y1="204.6" x2="599.57" y2="205.8" stroke="#8C8C8C" stroke-width="0.35"/>
<line x1="600.64" y1="204.6" x2="600.64" y2="206.8" stroke="#8C8C8C" stroke-width="0.35"/>
<line x1="601.71" y1="204.6" x2="601.71" y2="205.8" stroke="#8C8C8C" stroke-width="0.35"/>
<line x1="602.77" y1="204.6" x2="602.77" y2="205.8" stroke="#8C8C8C" stroke-width="0.35"/>
<line x1="603.84" y1="204.6" x2="603.84" y2="205.8" stroke="#8C8C8C" stroke-width="0.35"/>
<line x1="604.91" y1="204.6" x2="604.91" y2="206.8" stroke="#8C8C8C" stroke-width="0.35"/>
<line x1="605.98" y1="204.6" x2="605.98" y2="205.8" stroke="#8C8C8C" stroke-width="0.35"/>
<line x1="607.05" y1="204.6" x2="607.05" y2="205.8" stroke="#8C8C8C" stroke-width="0.35"/>
<line x1="608.11" y1="204.6" x2="608.11" y2="205.8" stroke="#8C8C8C" stroke-width="0.35"/>
<line x1="609.18" y1="204.6" x2="609.18" y2="206.8" stroke="#8C8C8C" stroke-width="0.35"/>
<line x1="610.25" y1="204.6" x2="610.25" y2="205.8" stroke="#8C8C8C" stroke-width="0.35"/>
<line x1="611.32" y1="204.6" x2="611.32" y2="205.8" stroke="#8C8C8C" stroke-width="0.35"/>
<line x1="612.38" y1="204.6" x2="612.38" y2="205.8" stroke="#8C8C8C" stroke-width="0.35"/>
<line x1="613.45" y1="204.6" x2="613.45" y2="206.8" stroke="#8C8C8C" stroke-width="0.35"/>
<line x1="614.52" y1="204.6" x2="614.52" y2="205.8" stroke="#8C8C8C" stroke-width="0.35"/>
<line x1="615.59" y1="204.6" x2="615.59" y2="205.8" stroke="#8C8C8C" stroke-width="0.35"/>
<line x1="616.65" y1="204.6" x2="616.65" y2="205.8" stroke="#8C8C8C" stroke-width="0.35"/>
<line x1="617.72" y1="204.6" x2="617.72" y2="206.8" stroke="#8C8C8C" stroke-width="0.35"/>
<line x1="618.79" y1="204.6" x2="618.79" y2="205.8" stroke="#8C8C8C" stroke-width="0.35"/>
<line x1="619.86" y1="204.6" x2="619.86" y2="205.8" stroke="#8C8C8C" stroke-width="0.35"/>
<line x1="620.92" y1="204.6" x2="620.92" y2="205.8" stroke="#8C8C8C" stroke-width="0.35"/>
<line x1="621.99" y1="204.6" x2="621.99" y2="206.8" stroke="#8C8C8C" stroke-width="0.35"/>
<line x1="623.06" y1="204.6" x2="623.06" y2="205.8" stroke="#8C8C8C" stroke-width="0.35"/>
<line x1="624.12" y1="204.6" x2="624.12" y2="205.8" stroke="#8C8C8C" stroke-width="0.35"/>
<line x1="625.19" y1="204.6" x2="625.19" y2="205.8" stroke="#8C8C8C" stroke-width="0.35"/>
<line x1="626.26" y1="204.6" x2="626.26" y2="206.8" stroke="#8C8C8C" stroke-width="0.35"/>
<line x1="627.33" y1="204.6" x2="627.33" y2="205.8" stroke="#8C8C8C" stroke-width="0.35"/>
<line x1="628.39" y1="204.6" x2="628.39" y2="205.8" stroke="#8C8C8C" stroke-width="0.35"/>
<line x1="629.46" y1="204.6" x2="629.46" y2="205.8" stroke="#8C8C8C" stroke-width="0.35"/>
<line x1="630.53" y1="204.6" x2="630.53" y2="206.8" stroke="#8C8C8C" stroke-width="0.35"/>
<line x1="631.6" y1="204.6" x2="631.6" y2="205.8" stroke="#8C8C8C" stroke-width="0.35"/>
<line x1="632.67" y1="204.6" x2="632.67" y2="205.8" stroke="#8C8C8C" stroke-width="0.35"/>
<line x1="633.73" y1="204.6" x2="633.73" y2="205.8" stroke="#8C8C8C" stroke-width="0.35"/>
<line x1="634.8" y1="204.6" x2="634.8" y2="206.8" stroke="#8C8C8C" stroke-width="0.35"/>
<line x1="635.87" y1="204.6" x2="635.87" y2="205.8" stroke="#8C8C8C" stroke-width="0.35"/>
<line x1="636.94" y1="204.6" x2="636.94" y2="205.8" stroke="#8C8C8C" stroke-width="0.35"/>
<line x1="638" y1="204.6" x2="638" y2="205.8" stroke="#8C8C8C" stroke-width="0.35"/>
<line x1="639.07" y1="204.6" x2="639.07" y2="206.8" stroke="#8C8C8C" stroke-width="0.35"/>
<line x1="640.14" y1="204.6" x2="640.14" y2="205.8" stroke="#8C8C8C" stroke-width="0.35"/>
<line x1="641.21" y1="204.6" x2="641.21" y2="205.8" stroke="#8C8C8C" stroke-width="0.35"/>
<line x1="642.27" y1="204.6" x2="642.27" y2="205.8" stroke="#8C8C8C" stroke-width="0.35"/>
<line x1="643.34" y1="204.6" x2="643.34" y2="206.8" stroke="#8C8C8C" stroke-width="0.35"/>
<line x1="644.41" y1="204.6" x2="644.41" y2="205.8" stroke="#8C8C8C" stroke-width="0.35"/>
<line x1="645.48" y1="204.6" x2="645.48" y2="205.8" stroke="#8C8C8C" stroke-width="0.35"/>
<line x1="646.54" y1="204.6" x2="646.54" y2="205.8" stroke="#8C8C8C" stroke-width="0.35"/>
<line x1="647.61" y1="204.6" x2="647.61" y2="206.8" stroke="#8C8C8C" stroke-width="0.35"/>
<line x1="648.68" y1="204.6" x2="648.68" y2="205.8" stroke="#8C8C8C" stroke-width="0.35"/>
<line x1="649.75" y1="204.6" x2="649.75" y2="205.8" stroke="#8C8C8C" stroke-width="0.35"/>
<line x1="650.81" y1="204.6" x2="650.81" y2="205.8" stroke="#8C8C8C" stroke-width="0.35"/>
<line x1="651.88" y1="204.6" x2="651.88" y2="206.8" stroke="#8C8C8C" stroke-width="0.35"/>
<line x1="652.95" y1="204.6" x2="652.95" y2="205.8" stroke="#8C8C8C" stroke-width="0.35"/>
<line x1="654.01" y1="204.6" x2="654.01" y2="205.8" stroke="#8C8C8C" stroke-width="0.35"/>
<line x1="655.08" y1="204.6" x2="655.08" y2="205.8" stroke="#8C8C8C" stroke-width="0.35"/>
<line x1="656.15" y1="204.6" x2="656.15" y2="206.8" stroke="#8C8C8C" stroke-width="0.35"/>
<line x1="657.22" y1="204.6" x2="657.22" y2="205.8" stroke="#8C8C8C" stroke-width="0.35"/>
<line x1="658.29" y1="204.6" x2="658.29" y2="205.8" stroke="#8C8C8C" stroke-width="0.35"/>
<line x1="659.35" y1="204.6" x2="659.35" y2="205.8" stroke="#8C8C8C" stroke-width="0.35"/>
<line x1="660.42" y1="204.6" x2="660.42" y2="206.8" stroke="#8C8C8C" stroke-width="0.35"/>
<line x1="661.49" y1="204.6" x2="661.49" y2="205.8" stroke="#8C8C8C" stroke-width="0.35"/>
<line x1="662.56" y1="204.6" x2="662.56" y2="205.8" stroke="#8C8C8C" stroke-width="0.35"/>
<line x1="663.62" y1="204.6" x2="663.62" y2="205.8" stroke="#8C8C8C" stroke-width="0.35"/>
<line x1="664.69" y1="204.6" x2="664.69" y2="206.8" stroke="#8C8C8C" stroke-width="0.35"/>
<line x1="665.76" y1="204.6" x2="665.76" y2="205.8" stroke="#8C8C8C" stroke-width="0.35"/>
<line x1="666.83" y1="204.6" x2="666.83" y2="205.8" stroke="#8C8C8C" stroke-width="0.35"/>
<line x1="667.89" y1="204.6" x2="667.89" y2="205.8" stroke="#8C8C8C" stroke-width="0.35"/>
<line x1="668.96" y1="204.6" x2="668.96" y2="206.8" stroke="#8C8C8C" stroke-width="0.35"/>
<line x1="670.03" y1="204.6" x2="670.03" y2="205.8" stroke="#8C8C8C" stroke-width="0.35"/>
<line x1="671.1" y1="204.6" x2="671.1" y2="205.8" stroke="#8C8C8C" stroke-width="0.35"/>
<line x1="672.16" y1="204.6" x2="672.16" y2="205.8" stroke="#8C8C8C" stroke-width="0.35"/>
<line x1="673.23" y1="204.6" x2="673.23" y2="206.8" stroke="#8C8C8C" stroke-width="0.35"/>
<line x1="674.3" y1="204.6" x2="674.3" y2="205.8" stroke="#8C8C8C" stroke-width="0.35"/>
<line x1="675.37" y1="204.6" x2="675.37" y2="205.8" stroke="#8C8C8C" stroke-width="0.35"/>
<line x1="676.43" y1="204.6" x2="676.43" y2="205.8" stroke="#8C8C8C" stroke-width="0.35"/>
<line x1="677.5" y1="204.6" x2="677.5" y2="206.8" stroke="#8C8C8C" stroke-width="0.35"/>
<line x1="591.7" y1="207.9" x2="592.5" y2="207.9" stroke="#7A7A7A" stroke-width="1"/>
<line x1="595.97" y1="207.9" x2="596.77" y2="207.9" stroke="#7A7A7A" stroke-width="1"/>
<line x1="600.24" y1="207.9" x2="601.04" y2="207.9" stroke="#7A7A7A" stroke-width="1"/>
<line x1="604.51" y1="207.9" x2="605.31" y2="207.9" stroke="#7A7A7A" stroke-width="1"/>
<line x1="608.78" y1="207.9" x2="609.58" y2="207.9" stroke="#7A7A7A" stroke-width="1"/>
<line x1="613.05" y1="207.9" x2="613.85" y2="207.9" stroke="#7A7A7A" stroke-width="1"/>
<line x1="617.32" y1="207.9" x2="618.12" y2="207.9" stroke="#7A7A7A" stroke-width="1"/>
<line x1="621.59" y1="207.9" x2="622.39" y2="207.9" stroke="#7A7A7A" stroke-width="1"/>
<line x1="625.86" y1="207.9" x2="626.66" y2="207.9" stroke="#7A7A7A" stroke-width="1"/>
<line x1="630.13" y1="207.9" x2="630.93" y2="207.9" stroke="#7A7A7A" stroke-width="1"/>
<line x1="634.4" y1="207.9" x2="635.2" y2="207.9" stroke="#7A7A7A" stroke-width="1"/>
<line x1="638.67" y1="207.9" x2="639.47" y2="207.9" stroke="#7A7A7A" stroke-width="1"/>
<line x1="642.94" y1="207.9" x2="643.74" y2="207.9" stroke="#7A7A7A" stroke-width="1"/>
<line x1="647.21" y1="207.9" x2="648.01" y2="207.9" stroke="#7A7A7A" stroke-width="1"/>
<line x1="651.48" y1="207.9" x2="652.28" y2="207.9" stroke="#7A7A7A" stroke-width="1"/>
<line x1="655.75" y1="207.9" x2="656.55" y2="207.9" stroke="#7A7A7A" stroke-width="1"/>
<line x1="660.02" y1="207.9" x2="660.82" y2="207.9" stroke="#7A7A7A" stroke-width="1"/>
<line x1="664.29" y1="207.9" x2="665.09" y2="207.9" stroke="#7A7A7A" stroke-width="1"/>
<line x1="668.56" y1="207.9" x2="669.36" y2="207.9" stroke="#7A7A7A" stroke-width="1"/>
<line x1="672.83" y1="207.9" x2="673.63" y2="207.9" stroke="#7A7A7A" stroke-width="1"/>
<line x1="677.1" y1="207.9" x2="677.9" y2="207.9" stroke="#7A7A7A" stroke-width="1"/>
<rect x="659" y="212.1" width="9" height="2" fill="#555"/>
<rect x="668.5" y="211.8" width="8.6" height="2.8" fill="#F6E4E2" stroke="#E0A8A8" stroke-width="0.4"/>
</g>
<g transform="rotate(-1.6 633.9 268.4)">
<rect x="587.4" y="262.2" width="93" height="12.4" fill="#F4F4F2" fill-opacity="0.55" stroke="#A4A4A4" stroke-width="0.5"/>
<line x1="587.9" y1="263.1" x2="679.9" y2="263.1" stroke="#8A8A8A" stroke-width="0.9"/>
<line x1="589.4" y1="263.4" x2="589.4" y2="265.6" stroke="#8C8C8C" stroke-width="0.35"/>
<line x1="590.51" y1="263.4" x2="590.51" y2="264.6" stroke="#8C8C8C" stroke-width="0.35"/>
<line x1="591.62" y1="263.4" x2="591.62" y2="264.6" stroke="#8C8C8C" stroke-width="0.35"/>
<line x1="592.74" y1="263.4" x2="592.74" y2="264.6" stroke="#8C8C8C" stroke-width="0.35"/>
<line x1="593.85" y1="263.4" x2="593.85" y2="265.6" stroke="#8C8C8C" stroke-width="0.35"/>
<line x1="594.96" y1="263.4" x2="594.96" y2="264.6" stroke="#8C8C8C" stroke-width="0.35"/>
<line x1="596.07" y1="263.4" x2="596.07" y2="264.6" stroke="#8C8C8C" stroke-width="0.35"/>
<line x1="597.19" y1="263.4" x2="597.19" y2="264.6" stroke="#8C8C8C" stroke-width="0.35"/>
<line x1="598.3" y1="263.4" x2="598.3" y2="265.6" stroke="#8C8C8C" stroke-width="0.35"/>
<line x1="599.41" y1="263.4" x2="599.41" y2="264.6" stroke="#8C8C8C" stroke-width="0.35"/>
<line x1="600.52" y1="263.4" x2="600.52" y2="264.6" stroke="#8C8C8C" stroke-width="0.35"/>
<line x1="601.64" y1="263.4" x2="601.64" y2="264.6" stroke="#8C8C8C" stroke-width="0.35"/>
<line x1="602.75" y1="263.4" x2="602.75" y2="265.6" stroke="#8C8C8C" stroke-width="0.35"/>
<line x1="603.86" y1="263.4" x2="603.86" y2="264.6" stroke="#8C8C8C" stroke-width="0.35"/>
<line x1="604.98" y1="263.4" x2="604.98" y2="264.6" stroke="#8C8C8C" stroke-width="0.35"/>
<line x1="606.09" y1="263.4" x2="606.09" y2="264.6" stroke="#8C8C8C" stroke-width="0.35"/>
<line x1="607.2" y1="263.4" x2="607.2" y2="265.6" stroke="#8C8C8C" stroke-width="0.35"/>
<line x1="608.31" y1="263.4" x2="608.31" y2="264.6" stroke="#8C8C8C" stroke-width="0.35"/>
<line x1="609.42" y1="263.4" x2="609.42" y2="264.6" stroke="#8C8C8C" stroke-width="0.35"/>
<line x1="610.54" y1="263.4" x2="610.54" y2="264.6" stroke="#8C8C8C" stroke-width="0.35"/>
<line x1="611.65" y1="263.4" x2="611.65" y2="265.6" stroke="#8C8C8C" stroke-width="0.35"/>
<line x1="612.76" y1="263.4" x2="612.76" y2="264.6" stroke="#8C8C8C" stroke-width="0.35"/>
<line x1="613.88" y1="263.4" x2="613.88" y2="264.6" stroke="#8C8C8C" stroke-width="0.35"/>
<line x1="614.99" y1="263.4" x2="614.99" y2="264.6" stroke="#8C8C8C" stroke-width="0.35"/>
<line x1="616.1" y1="263.4" x2="616.1" y2="265.6" stroke="#8C8C8C" stroke-width="0.35"/>
<line x1="617.21" y1="263.4" x2="617.21" y2="264.6" stroke="#8C8C8C" stroke-width="0.35"/>
<line x1="618.32" y1="263.4" x2="618.32" y2="264.6" stroke="#8C8C8C" stroke-width="0.35"/>
<line x1="619.44" y1="263.4" x2="619.44" y2="264.6" stroke="#8C8C8C" stroke-width="0.35"/>
<line x1="620.55" y1="263.4" x2="620.55" y2="265.6" stroke="#8C8C8C" stroke-width="0.35"/>
<line x1="621.66" y1="263.4" x2="621.66" y2="264.6" stroke="#8C8C8C" stroke-width="0.35"/>
<line x1="622.77" y1="263.4" x2="622.77" y2="264.6" stroke="#8C8C8C" stroke-width="0.35"/>
<line x1="623.89" y1="263.4" x2="623.89" y2="264.6" stroke="#8C8C8C" stroke-width="0.35"/>
<line x1="625" y1="263.4" x2="625" y2="265.6" stroke="#8C8C8C" stroke-width="0.35"/>
<line x1="626.11" y1="263.4" x2="626.11" y2="264.6" stroke="#8C8C8C" stroke-width="0.35"/>
<line x1="627.23" y1="263.4" x2="627.23" y2="264.6" stroke="#8C8C8C" stroke-width="0.35"/>
<line x1="628.34" y1="263.4" x2="628.34" y2="264.6" stroke="#8C8C8C" stroke-width="0.35"/>
<line x1="629.45" y1="263.4" x2="629.45" y2="265.6" stroke="#8C8C8C" stroke-width="0.35"/>
<line x1="630.56" y1="263.4" x2="630.56" y2="264.6" stroke="#8C8C8C" stroke-width="0.35"/>
<line x1="631.67" y1="263.4" x2="631.67" y2="264.6" stroke="#8C8C8C" stroke-width="0.35"/>
<line x1="632.79" y1="263.4" x2="632.79" y2="264.6" stroke="#8C8C8C" stroke-width="0.35"/>
<line x1="633.9" y1="263.4" x2="633.9" y2="265.6" stroke="#8C8C8C" stroke-width="0.35"/>
<line x1="635.01" y1="263.4" x2="635.01" y2="264.6" stroke="#8C8C8C" stroke-width="0.35"/>
<line x1="636.12" y1="263.4" x2="636.12" y2="264.6" stroke="#8C8C8C" stroke-width="0.35"/>
<line x1="637.24" y1="263.4" x2="637.24" y2="264.6" stroke="#8C8C8C" stroke-width="0.35"/>
<line x1="638.35" y1="263.4" x2="638.35" y2="265.6" stroke="#8C8C8C" stroke-width="0.35"/>
<line x1="639.46" y1="263.4" x2="639.46" y2="264.6" stroke="#8C8C8C" stroke-width="0.35"/>
<line x1="640.57" y1="263.4" x2="640.57" y2="264.6" stroke="#8C8C8C" stroke-width="0.35"/>
<line x1="641.69" y1="263.4" x2="641.69" y2="264.6" stroke="#8C8C8C" stroke-width="0.35"/>
<line x1="642.8" y1="263.4" x2="642.8" y2="265.6" stroke="#8C8C8C" stroke-width="0.35"/>
<line x1="643.91" y1="263.4" x2="643.91" y2="264.6" stroke="#8C8C8C" stroke-width="0.35"/>
<line x1="645.02" y1="263.4" x2="645.02" y2="264.6" stroke="#8C8C8C" stroke-width="0.35"/>
<line x1="646.14" y1="263.4" x2="646.14" y2="264.6" stroke="#8C8C8C" stroke-width="0.35"/>
<line x1="647.25" y1="263.4" x2="647.25" y2="265.6" stroke="#8C8C8C" stroke-width="0.35"/>
<line x1="648.36" y1="263.4" x2="648.36" y2="264.6" stroke="#8C8C8C" stroke-width="0.35"/>
<line x1="649.48" y1="263.4" x2="649.48" y2="264.6" stroke="#8C8C8C" stroke-width="0.35"/>
<line x1="650.59" y1="263.4" x2="650.59" y2="264.6" stroke="#8C8C8C" stroke-width="0.35"/>
<line x1="651.7" y1="263.4" x2="651.7" y2="265.6" stroke="#8C8C8C" stroke-width="0.35"/>
<line x1="652.81" y1="263.4" x2="652.81" y2="264.6" stroke="#8C8C8C" stroke-width="0.35"/>
<line x1="653.92" y1="263.4" x2="653.92" y2="264.6" stroke="#8C8C8C" stroke-width="0.35"/>
<line x1="655.04" y1="263.4" x2="655.04" y2="264.6" stroke="#8C8C8C" stroke-width="0.35"/>
<line x1="656.15" y1="263.4" x2="656.15" y2="265.6" stroke="#8C8C8C" stroke-width="0.35"/>
<line x1="657.26" y1="263.4" x2="657.26" y2="264.6" stroke="#8C8C8C" stroke-width="0.35"/>
<line x1="658.38" y1="263.4" x2="658.38" y2="264.6" stroke="#8C8C8C" stroke-width="0.35"/>
<line x1="659.49" y1="263.4" x2="659.49" y2="264.6" stroke="#8C8C8C" stroke-width="0.35"/>
<line x1="660.6" y1="263.4" x2="660.6" y2="265.6" stroke="#8C8C8C" stroke-width="0.35"/>
<line x1="661.71" y1="263.4" x2="661.71" y2="264.6" stroke="#8C8C8C" stroke-width="0.35"/>
<line x1="662.82" y1="263.4" x2="662.82" y2="264.6" stroke="#8C8C8C" stroke-width="0.35"/>
<line x1="663.94" y1="263.4" x2="663.94" y2="264.6" stroke="#8C8C8C" stroke-width="0.35"/>
<line x1="665.05" y1="263.4" x2="665.05" y2="265.6" stroke="#8C8C8C" stroke-width="0.35"/>
<line x1="666.16" y1="263.4" x2="666.16" y2="264.6" stroke="#8C8C8C" stroke-width="0.35"/>
<line x1="667.27" y1="263.4" x2="667.27" y2="264.6" stroke="#8C8C8C" stroke-width="0.35"/>
<line x1="668.39" y1="263.4" x2="668.39" y2="264.6" stroke="#8C8C8C" stroke-width="0.35"/>
<line x1="669.5" y1="263.4" x2="669.5" y2="265.6" stroke="#8C8C8C" stroke-width="0.35"/>
<line x1="670.61" y1="263.4" x2="670.61" y2="264.6" stroke="#8C8C8C" stroke-width="0.35"/>
<line x1="671.73" y1="263.4" x2="671.73" y2="264.6" stroke="#8C8C8C" stroke-width="0.35"/>
<line x1="672.84" y1="263.4" x2="672.84" y2="264.6" stroke="#8C8C8C" stroke-width="0.35"/>
<line x1="673.95" y1="263.4" x2="673.95" y2="265.6" stroke="#8C8C8C" stroke-width="0.35"/>
<line x1="675.06" y1="263.4" x2="675.06" y2="264.6" stroke="#8C8C8C" stroke-width="0.35"/>
<line x1="676.17" y1="263.4" x2="676.17" y2="264.6" stroke="#8C8C8C" stroke-width="0.35"/>
<line x1="677.29" y1="263.4" x2="677.29" y2="264.6" stroke="#8C8C8C" stroke-width="0.35"/>
<line x1="678.4" y1="263.4" x2="678.4" y2="265.6" stroke="#8C8C8C" stroke-width="0.35"/>
<line x1="589" y1="266.7" x2="589.8" y2="266.7" stroke="#7A7A7A" stroke-width="1"/>
<line x1="593.45" y1="266.7" x2="594.25" y2="266.7" stroke="#7A7A7A" stroke-width="1"/>
<line x1="597.9" y1="266.7" x2="598.7" y2="266.7" stroke="#7A7A7A" stroke-width="1"/>
<line x1="602.35" y1="266.7" x2="603.15" y2="266.7" stroke="#7A7A7A" stroke-width="1"/>
<line x1="606.8" y1="266.7" x2="607.6" y2="266.7" stroke="#7A7A7A" stroke-width="1"/>
<line x1="611.25" y1="266.7" x2="612.05" y2="266.7" stroke="#7A7A7A" stroke-width="1"/>
<line x1="615.7" y1="266.7" x2="616.5" y2="266.7" stroke="#7A7A7A" stroke-width="1"/>
<line x1="620.15" y1="266.7" x2="620.95" y2="266.7" stroke="#7A7A7A" stroke-width="1"/>
<line x1="624.6" y1="266.7" x2="625.4" y2="266.7" stroke="#7A7A7A" stroke-width="1"/>
<line x1="629.05" y1="266.7" x2="629.85" y2="266.7" stroke="#7A7A7A" stroke-width="1"/>
<line x1="633.5" y1="266.7" x2="634.3" y2="266.7" stroke="#7A7A7A" stroke-width="1"/>
<line x1="637.95" y1="266.7" x2="638.75" y2="266.7" stroke="#7A7A7A" stroke-width="1"/>
<line x1="642.4" y1="266.7" x2="643.2" y2="266.7" stroke="#7A7A7A" stroke-width="1"/>
<line x1="646.85" y1="266.7" x2="647.65" y2="266.7" stroke="#7A7A7A" stroke-width="1"/>
<line x1="651.3" y1="266.7" x2="652.1" y2="266.7" stroke="#7A7A7A" stroke-width="1"/>
<line x1="655.75" y1="266.7" x2="656.55" y2="266.7" stroke="#7A7A7A" stroke-width="1"/>
<line x1="660.2" y1="266.7" x2="661" y2="266.7" stroke="#7A7A7A" stroke-width="1"/>
<line x1="664.65" y1="266.7" x2="665.45" y2="266.7" stroke="#7A7A7A" stroke-width="1"/>
<line x1="669.1" y1="266.7" x2="669.9" y2="266.7" stroke="#7A7A7A" stroke-width="1"/>
<line x1="673.55" y1="266.7" x2="674.35" y2="266.7" stroke="#7A7A7A" stroke-width="1"/>
<line x1="678" y1="266.7" x2="678.8" y2="266.7" stroke="#7A7A7A" stroke-width="1"/>
<rect x="659.9" y="269.7" width="9" height="2" fill="#555"/>
<rect x="669.4" y="269.4" width="8.6" height="2.8" fill="#F6E4E2" stroke="#E0A8A8" stroke-width="0.4"/>
</g>
<text x="549.1" y="154.1" font-size="13.4" font-weight="bold" text-anchor="start" fill="#000">H</text>
<text x="160" y="657.5" font-size="13.4" font-weight="bold" text-anchor="start" fill="#000">M</text>
<text x="247.6" y="655" font-size="12.6" font-weight="bold" text-anchor="start" fill="#C4393B">KRAS-G12Ci resistant NSCLC cells</text>
<g clip-path="url(#cL)">
<rect x="179.85" y="675.95" width="357.3" height="285.3" rx="21.35" fill="#F1EEFA" stroke="#BEAEE4" stroke-width="5.3"/>
<rect x="177.65" y="673.75" width="361.7" height="289.7" rx="24" fill="none" stroke="#9F8BD0" stroke-width="0.9"/>
<rect x="182.05" y="678.15" width="352.9" height="280.9" rx="18.7" fill="none" stroke="#9F8BD0" stroke-width="0.9"/>
</g>
<g clip-path="url(#cR)">
<rect x="179.85" y="675.95" width="357.3" height="285.3" rx="21.35" fill="#FCFAF6" stroke="#F8EBDA" stroke-width="5.3"/>
<rect x="177.65" y="673.75" width="361.7" height="289.7" rx="24" fill="none" stroke="#E8CBA0" stroke-width="0.9"/>
<rect x="182.05" y="678.15" width="352.9" height="280.9" rx="18.7" fill="none" stroke="#E8CBA0" stroke-width="0.9"/>
</g>
<rect x="201.8" y="696.5" width="57.3" height="15.2" rx="7.6" fill="#DDF2F2" stroke="#3E8487" stroke-width="1.4"/>
<text x="230.45" y="707.2" font-size="8.7" font-weight="normal" text-anchor="middle" fill="#1a1a1a">KRAS-G12C</text>
<rect x="211.3" y="763.7" width="38.8" height="14" rx="7" fill="#DDF2F2" stroke="#3E8487" stroke-width="1.4"/>
<text x="230.7" y="773.8" font-size="8.7" font-weight="normal" text-anchor="middle" fill="#1a1a1a">RAF</text>
<rect x="211.3" y="833.5" width="38.8" height="14.2" rx="7.1" fill="#DDF2F2" stroke="#3E8487" stroke-width="1.4"/>
<text x="230.7" y="843.7" font-size="8.7" font-weight="normal" text-anchor="middle" fill="#1a1a1a">MEK</text>
<rect x="211.3" y="902.9" width="38.8" height="14.2" rx="7.1" fill="#DDF2F2" stroke="#3E8487" stroke-width="1.4"/>
<text x="230.7" y="913.1" font-size="8.7" font-weight="normal" text-anchor="middle" fill="#1a1a1a">ERK</text>
<rect x="298.1" y="763.7" width="38.7" height="14" rx="7" fill="#F4DDF0" stroke="#A34E8E" stroke-width="1.4"/>
<text x="317.45" y="773.8" font-size="8.7" font-weight="normal" text-anchor="middle" fill="#1a1a1a">c-Myc</text>
<rect x="298.1" y="833.5" width="38.7" height="14.2" rx="7.1" fill="#F4DDF0" stroke="#A34E8E" stroke-width="1.4"/>
<text x="317.45" y="843.7" font-size="8.7" font-weight="normal" text-anchor="middle" fill="#1a1a1a">ORC2</text>
<line x1="230.9" y1="721.7" x2="230.9" y2="748.9" stroke="#8296C2" stroke-width="1.15"/>
<path d="M229.2 747.9 L232.6 747.9 L230.9 752.4 Z" fill="#8296C2"/>
<line x1="230.9" y1="789.6" x2="230.9" y2="817.7" stroke="#8296C2" stroke-width="1.15"/>
<path d="M229.2 816.7 L232.6 816.7 L230.9 821.2 Z" fill="#8296C2"/>
<line x1="230.9" y1="858.7" x2="230.9" y2="886.7" stroke="#8296C2" stroke-width="1.15"/>
<path d="M229.2 885.7 L232.6 885.7 L230.9 890.2 Z" fill="#8296C2"/>
<line x1="267.2" y1="701.2" x2="267.2" y2="707.6" stroke="#1a1a1a" stroke-width="2.2"/>
<line x1="267.2" y1="704.3" x2="285.6" y2="704.3" stroke="#1a1a1a" stroke-width="1.8"/>
<g transform="translate(299.8 704.2) rotate(-42)">
<rect x="-10.5" y="-3.6" width="21" height="7.2" rx="3.6" fill="#FFFFFF" stroke="#3A7BC8" stroke-width="1.1"/>
<path d="M0 -3.6 H6.9 A3.6 3.6 0 0 1 6.9 3.6 H0 Z" fill="#3A7BC8" stroke="#3A7BC8" stroke-width="1.1"/>
</g>
<text x="312.6" y="707.5" font-size="9.6" font-weight="bold" text-anchor="start" fill="#1a1a1a">G12Ci</text>
<line x1="318" y1="721.5" x2="318" y2="746.5" stroke="#A8283A" stroke-width="2" stroke-dasharray="3.6 2.6"/>
<path d="M313.8 746.0 L322.2 746.0 L318.0 754.0 Z" fill="#A8283A"/>
<line x1="317.5" y1="791" x2="317.5" y2="815.5" stroke="#111" stroke-width="2.4"/>
<path d="M313.6 814.6 L321.4 814.6 L317.5 822.6 Z" fill="#111"/>
<rect x="373.5" y="696.5" width="57.3" height="15.2" rx="7.6" fill="#DDF2F2" stroke="#3E8487" stroke-width="1.4"/>
<text x="402.15" y="707.2" font-size="8.7" font-weight="normal" text-anchor="middle" fill="#1a1a1a">KRAS-G12C</text>
<rect x="382.4" y="763.7" width="38.8" height="14" rx="7" fill="#DDF2F2" stroke="#3E8487" stroke-width="1.4"/>
<text x="401.8" y="773.8" font-size="8.7" font-weight="normal" text-anchor="middle" fill="#1a1a1a">RAF</text>
<rect x="382.4" y="833.5" width="38.8" height="14.2" rx="7.1" fill="#DDF2F2" stroke="#3E8487" stroke-width="1.4"/>
<text x="401.8" y="843.7" font-size="8.7" font-weight="normal" text-anchor="middle" fill="#1a1a1a">MEK</text>
<rect x="382.4" y="902.9" width="38.8" height="14.2" rx="7.1" fill="#DDF2F2" stroke="#3E8487" stroke-width="1.4"/>
<text x="401.8" y="913.1" font-size="8.7" font-weight="normal" text-anchor="middle" fill="#1a1a1a">ERK</text>
<rect x="469.8" y="763.7" width="38.7" height="14" rx="7" fill="#F4DDF0" stroke="#A34E8E" stroke-width="1.4"/>
<text x="489.15" y="773.8" font-size="8.7" font-weight="normal" text-anchor="middle" fill="#1a1a1a">c-Myc</text>
<rect x="469.8" y="833.5" width="38.7" height="14.2" rx="7.1" fill="#F4DDF0" stroke="#A34E8E" stroke-width="1.4"/>
<text x="489.15" y="843.7" font-size="8.7" font-weight="normal" text-anchor="middle" fill="#1a1a1a">ORC2</text>
<line x1="402" y1="721.7" x2="402" y2="748.9" stroke="#8296C2" stroke-width="1.15"/>
<path d="M400.3 747.9 L403.7 747.9 L402 752.4 Z" fill="#8296C2"/>
<line x1="402" y1="789.6" x2="402" y2="817.7" stroke="#8296C2" stroke-width="1.15"/>
<path d="M400.3 816.7 L403.7 816.7 L402 821.2 Z" fill="#8296C2"/>
<line x1="402" y1="858.7" x2="402" y2="886.7" stroke="#8296C2" stroke-width="1.15"/>
<path d="M400.3 885.7 L403.7 885.7 L402 890.2 Z" fill="#8296C2"/>
<line x1="439.2" y1="701.2" x2="439.2" y2="707.6" stroke="#1a1a1a" stroke-width="2.2"/>
<line x1="439.2" y1="704.3" x2="457" y2="704.3" stroke="#1a1a1a" stroke-width="1.8"/>
<g transform="translate(470.9 704.3) rotate(-42)">
<rect x="-10.5" y="-3.6" width="21" height="7.2" rx="3.6" fill="#FFFFFF" stroke="#3A7BC8" stroke-width="1.1"/>
<path d="M0 -3.6 H6.9 A3.6 3.6 0 0 1 6.9 3.6 H0 Z" fill="#3A7BC8" stroke="#3A7BC8" stroke-width="1.1"/>
</g>
<text x="483.8" y="707.7" font-size="9.6" font-weight="bold" text-anchor="start" fill="#1a1a1a">G12Ci</text>
<g transform="translate(464.1 727.7) rotate(-42)">
<rect x="-10.5" y="-3.6" width="21" height="7.2" rx="3.6" fill="#FFFFFF" stroke="#D03838" stroke-width="1.1"/>
<path d="M0 -3.6 H6.9 A3.6 3.6 0 0 1 6.9 3.6 H0 Z" fill="#D03838" stroke="#D03838" stroke-width="1.1"/>
</g>
<text x="476.8" y="730.7" font-size="9.6" font-weight="bold" text-anchor="start" fill="#1a1a1a">Anlotinib</text>
<line x1="489.1" y1="738.8" x2="489.1" y2="757" stroke="#111" stroke-width="2"/>
<line x1="485" y1="756.4" x2="493.2" y2="756.4" stroke="#111" stroke-width="2.2"/>
<line x1="488.7" y1="791" x2="488.7" y2="817.5" stroke="#111" stroke-width="1.3"/>
<path d="M486.3 816.5 L491.1 816.5 L488.7 822.6 Z" fill="#111"/>
<path d="M309.22 883.7 L309.19 887.11 L306.95 889.78 L303.71 890.76 L300.43 891.01 L297.46 889.52 L295.2 887.02 L294.3 883.7 L295.73 880.63 L297.73 878.22 L300.35 876.04 L303.75 876.46 L306.95 877.62 L308.39 880.67 Z" fill="#F3C6CC" opacity="1" stroke-linejoin="round"/>
<path d="M343.91 888.5 L343.22 891.5 L340.8 893.27 L338.36 894.47 L335.49 895.13 L332.81 893.75 L331 891.39 L330.67 888.5 L331.06 885.64 L332.89 883.34 L335.54 882.09 L338.38 882.47 L341.01 883.47 L342.77 885.72 Z" fill="#F3CCD2" opacity="1" stroke-linejoin="round"/>
<path d="M325.21 916.5 L324.75 919.99 L322.4 922.64 L319.31 924.41 L315.69 924.44 L312.82 922.37 L310.78 919.73 L309.12 916.5 L310.54 913.15 L312.7 910.48 L315.6 908.16 L319.27 908.73 L322.72 909.95 L324.68 913.04 Z" fill="#F4D0D6" opacity="1" stroke-linejoin="round"/>
<path d="M326.89 880.5 L325.93 883.98 L323.92 887.05 L320.5 888.39 L316.92 888.28 L313.47 887.05 L310.59 884.4 L309.84 880.5 L310.76 876.68 L313.61 874.11 L316.8 872.17 L320.53 872.47 L323.76 874.16 L325.94 877.02 Z" fill="#EFB3BA" opacity="1" stroke-linejoin="round"/>
<circle cx="316" cy="883" r="3.6" fill="#DC95A0"/>
<path d="M309.34 905 L308.64 908.68 L306.32 911.68 L302.94 913.49 L299.11 913.26 L295.59 911.79 L294.1 908.32 L292.84 905 L293.15 901.22 L295.78 898.46 L299.07 896.56 L302.73 897.44 L306.09 898.62 L308.13 901.57 Z" fill="#F0B4BA" opacity="1" stroke-linejoin="round"/>
<circle cx="303.5" cy="906" r="4" fill="#DC9AA2"/>
<path d="M340.5 904 L339.78 907.26 L337.48 909.62 L334.55 910.79 L331.51 910.53 L328.41 909.76 L326.54 907.11 L325.54 904 L326.63 900.93 L328.34 898.16 L331.45 897.2 L334.67 896.68 L337.63 898.19 L339.41 900.91 Z" fill="#F0B0B8" opacity="1" stroke-linejoin="round"/>
<circle cx="330.5" cy="904" r="3.2" fill="#DC98A0"/>
<path d="M315.47 892 L314.38 895.8 L312.36 899.34 L308.42 900.43 L304.44 901.01 L300.87 899.06 L298.72 895.74 L297.29 892 L298.75 888.27 L300.82 884.87 L304.58 883.57 L308.43 883.54 L312.18 884.88 L315.17 887.83 Z" fill="#EE9EA3" opacity="1" stroke="#E48890" stroke-width="0.7" stroke-linejoin="round"/>
<circle cx="308" cy="892.5" r="4.6" fill="#D26E78"/>
<path d="M336.65 890 L336.63 894.25 L333.24 896.82 L329.91 899.23 L325.87 898.45 L322.27 896.94 L318.93 894.27 L318.97 890 L319.35 885.93 L322.1 882.85 L325.77 881.09 L329.85 881.04 L333.29 883.12 L336.47 885.82 Z" fill="#EE9EA3" opacity="1" stroke="#E48890" stroke-width="0.7" stroke-linejoin="round"/>
<circle cx="328.5" cy="890" r="4.6" fill="#D26E78"/>
<path d="M329.05 905 L328 909.09 L325.18 912.13 L321.75 914.84 L317.51 913.71 L313.51 912.51 L310.37 909.4 L310.46 905 L310.78 900.8 L313.42 897.37 L317.5 896.24 L321.6 895.8 L325.66 897.28 L328.09 900.86 Z" fill="#EE9EA3" opacity="1" stroke="#E48890" stroke-width="0.7" stroke-linejoin="round"/>
<circle cx="321" cy="905.5" r="4.6" fill="#D26E78"/>
<text x="317.6" y="932.6" font-size="7.55" font-weight="bold" text-anchor="middle" fill="#141414">Survival and growth</text>
<path d="M507.73 894 L508.07 895.33 L508.08 896.68 L507.72 897.98 L507.04 899.17 L506.14 900.24 L505.16 901.2 L504.24 902.1 L503.44 903.03 L502.78 904.01 L502.19 905.07 L501.57 906.14 L500.84 907.14 L499.93 907.98 L498.84 908.59 L497.63 908.94 L496.36 909.1 L495.13 909.17 L493.97 909.29 L492.88 909.55 L491.82 910.01 L490.75 910.63 L489.6 911.3 L488.38 911.87 L487.09 912.22 L485.78 912.24 L484.53 911.94 L483.35 911.38 L482.27 910.67 L481.23 909.94 L480.18 909.28 L479.07 908.72 L477.89 908.22 L476.67 907.7 L475.49 907.05 L474.46 906.2 L473.68 905.13 L473.21 903.87 L473.02 902.5 L473.03 901.11 L473.11 899.78 L473.13 898.55 L473.01 897.4 L472.71 896.29 L472.31 895.17 L471.92 894 L471.67 892.79 L471.66 891.56 L471.93 890.37 L472.46 889.26 L473.13 888.23 L473.83 887.25 L474.45 886.26 L474.92 885.2 L475.27 884.03 L475.58 882.74 L475.96 881.4 L476.51 880.13 L477.3 879.02 L478.33 878.18 L479.55 877.63 L480.87 877.34 L482.21 877.2 L483.51 877.1 L484.75 876.94 L485.94 876.66 L487.14 876.29 L488.37 875.93 L489.64 875.7 L490.92 875.72 L492.16 876.06 L493.31 876.7 L494.34 877.56 L495.26 878.51 L496.12 879.4 L496.99 880.15 L497.95 880.73 L499.03 881.16 L500.2 881.56 L501.39 882.03 L502.51 882.67 L503.44 883.51 L504.13 884.54 L504.6 885.7 L504.91 886.92 L505.17 888.11 L505.5 889.27 L505.95 890.4 L506.54 891.54 L507.18 892.73 Z" fill="#F2D5A8" stroke="#D4A272" stroke-width="0.8" stroke-linejoin="round"/>
<path d="M500.07 893.6 L500.18 894.27 L500.05 894.93 L499.69 895.53 L499.16 896.05 L498.52 896.48 L497.85 896.83 L497.23 897.13 L496.72 897.42 L496.33 897.77 L496.08 898.2 L495.91 898.72 L495.77 899.34 L495.6 900 L495.35 900.64 L494.98 901.19 L494.5 901.59 L493.91 901.8 L493.26 901.8 L492.6 901.62 L491.96 901.32 L491.37 900.97 L490.85 900.65 L490.36 900.44 L489.89 900.37 L489.39 900.45 L488.84 900.67 L488.21 900.95 L487.52 901.22 L486.79 901.41 L486.07 901.44 L485.42 901.29 L484.87 900.93 L484.47 900.4 L484.22 899.76 L484.1 899.05 L484.05 898.36 L484.02 897.71 L483.93 897.15 L483.74 896.66 L483.41 896.22 L482.97 895.79 L482.44 895.33 L481.91 894.82 L481.44 894.24 L481.13 893.6 L481.02 892.93 L481.15 892.27 L481.51 891.67 L482.04 891.15 L482.68 890.72 L483.35 890.37 L483.97 890.07 L484.48 889.78 L484.87 889.43 L485.12 889 L485.29 888.48 L485.43 887.86 L485.6 887.2 L485.85 886.56 L486.22 886.01 L486.7 885.61 L487.29 885.4 L487.94 885.4 L488.6 885.58 L489.24 885.88 L489.83 886.23 L490.35 886.55 L490.84 886.76 L491.31 886.83 L491.81 886.75 L492.36 886.53 L492.99 886.25 L493.68 885.98 L494.41 885.79 L495.13 885.76 L495.78 885.91 L496.33 886.27 L496.73 886.8 L496.98 887.44 L497.1 888.15 L497.15 888.84 L497.18 889.49 L497.27 890.05 L497.46 890.54 L497.79 890.98 L498.23 891.41 L498.76 891.87 L499.29 892.38 L499.76 892.96 Z" fill="#E6AA84" stroke-linejoin="round"/>
<ellipse cx="469.3" cy="879.8" rx="2.2" ry="3.6" fill="#F2D5A8" stroke="#D4A272" stroke-width="0.6" transform="rotate(40 469.3 879.8)"/>
<ellipse cx="510.2" cy="879.3" rx="2" ry="3.6" fill="#F2D5A8" stroke="#D4A272" stroke-width="0.6" transform="rotate(-20 510.2 879.3)"/>
<ellipse cx="510.2" cy="888.8" rx="2.4" ry="2.4" fill="#F2D5A8" stroke="#D4A272" stroke-width="0.6" transform="rotate(0 510.2 888.8)"/>
<ellipse cx="471.3" cy="906.9" rx="2.2" ry="3.3" fill="#F2D5A8" stroke="#D4A272" stroke-width="0.6" transform="rotate(-30 471.3 906.9)"/>
<ellipse cx="483.6" cy="912.5" rx="2" ry="1.5" fill="#F2D5A8" stroke="#D4A272" stroke-width="0.6" transform="rotate(0 483.6 912.5)"/>
<text x="488.8" y="925.3" font-size="7.5" font-weight="bold" text-anchor="middle" fill="#141414">Cell cycle arrest</text>
<text x="489.2" y="934.5" font-size="7.5" font-weight="bold" text-anchor="middle" fill="#141414">Apoptosis</text>
</svg>
</body></html>
